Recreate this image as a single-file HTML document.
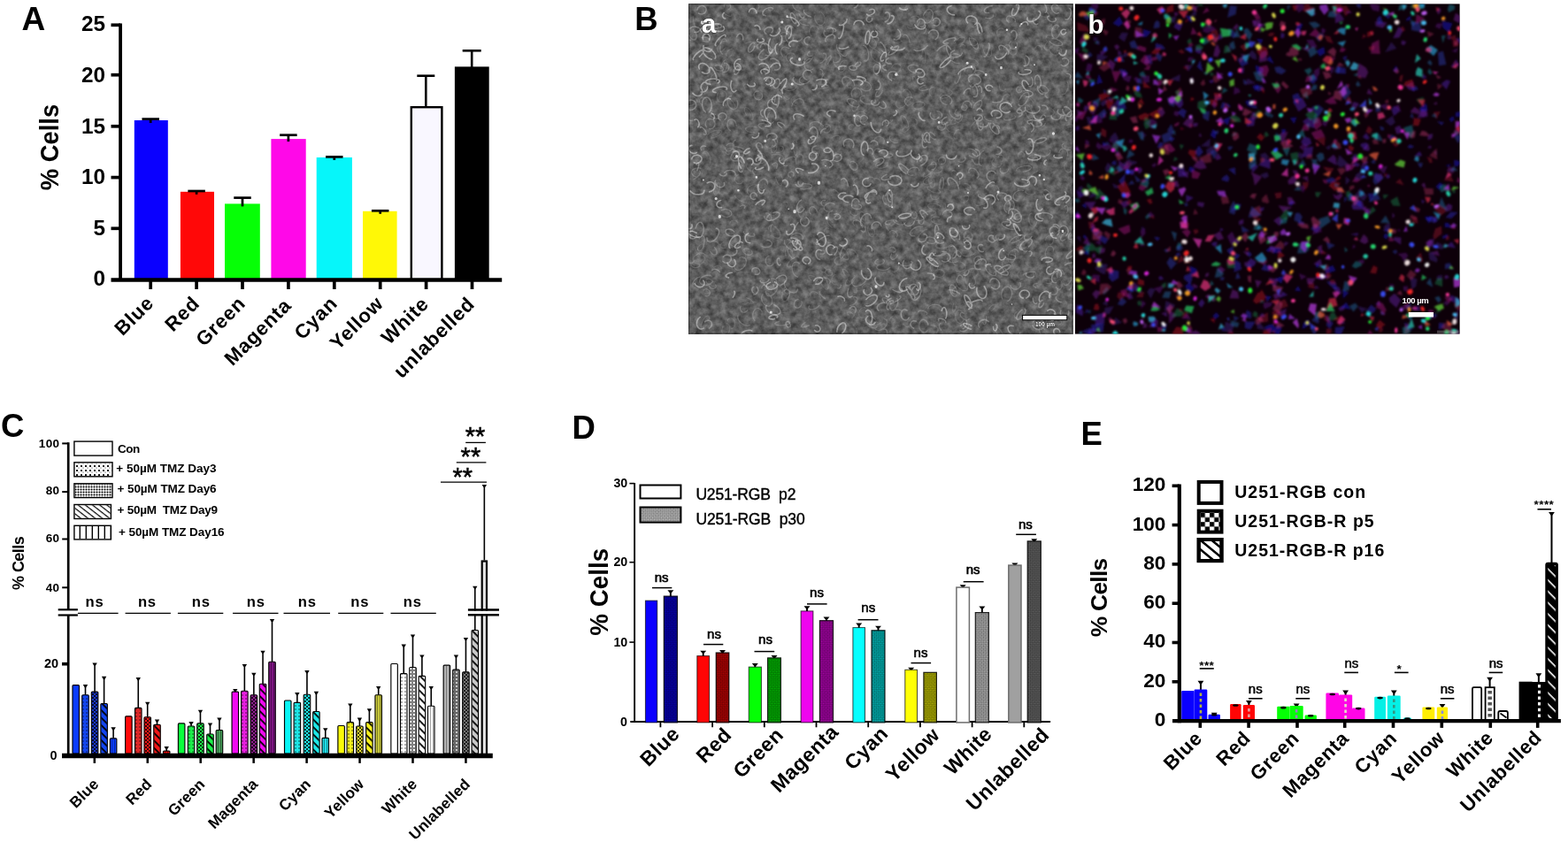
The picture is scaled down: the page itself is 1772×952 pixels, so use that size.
<!DOCTYPE html>
<html lang="en"><head><meta charset="utf-8"><title>Figure</title>
<style>
html,body{margin:0;padding:0;background:#fff;}
body{width:1772px;height:952px;overflow:hidden;font-family:'Liberation Sans', sans-serif;}
svg{display:block;font-family:'Liberation Sans', sans-serif;}
</style></head><body>
<svg width="1772" height="952" viewBox="0 0 1772 952">
<rect width="1772" height="952" fill="#ffffff"/>
<defs>
<filter id="fgray" x="0" y="0" width="100%" height="100%" color-interpolation-filters="sRGB">
<feTurbulence type="fractalNoise" baseFrequency="0.14 0.14" numOctaves="3" seed="7" result="n"/>
<feColorMatrix in="n" type="matrix" values="0.38 0 0 0 0.178  0.38 0 0 0 0.178  0.38 0 0 0 0.178  0 0 0 0 1"/>
</filter>
<filter id="fblur" x="-5%" y="-5%" width="110%" height="110%"><feGaussianBlur stdDeviation="0.9"/></filter>
<filter id="fblurA" x="-5%" y="-5%" width="110%" height="110%"><feGaussianBlur stdDeviation="0.75"/></filter>
<clipPath id="clipA"><rect x="778.1" y="4.2" width="434.2" height="373.3"/></clipPath>
<clipPath id="clipB"><rect x="1215" y="4.4" width="434.6" height="373.2"/></clipPath>
<pattern id="pdot" width="4" height="4" patternUnits="userSpaceOnUse"><circle cx="2" cy="2" r="0.8" fill="#000" fill-opacity="0.7"/></pattern>
<pattern id="pchk" width="4" height="4" patternUnits="userSpaceOnUse"><rect width="2" height="2" fill="#000" fill-opacity="0.75"/><rect x="2" y="2" width="2" height="2" fill="#000" fill-opacity="0.75"/></pattern>
<pattern id="pfine" width="2" height="2" patternUnits="userSpaceOnUse"><rect width="1" height="1" fill="#000" fill-opacity="0.45"/><rect x="1" y="1" width="1" height="1" fill="#000" fill-opacity="0.45"/></pattern>
<pattern id="phatch" width="6" height="6" patternUnits="userSpaceOnUse" patternTransform="rotate(45)"><rect width="6" height="1.8" fill="#000"/></pattern>
<pattern id="pvert" width="3" height="3" patternUnits="userSpaceOnUse"><rect width="1" height="3" fill="#000" fill-opacity="0.35"/></pattern>
<pattern id="pcirc" width="4" height="4" patternUnits="userSpaceOnUse"><circle cx="2" cy="2" r="1.3" fill="none" stroke="#000" stroke-width="0.8"/></pattern>
<pattern id="pwhatch" width="9" height="9" patternUnits="userSpaceOnUse" patternTransform="rotate(45)"><rect width="9" height="1.6" fill="#fff"/></pattern>
<pattern id="pleg5" width="7" height="7" patternUnits="userSpaceOnUse" patternTransform="translate(84 0)"><rect width="1.4" height="7" x="5.6" fill="#000"/></pattern>
<pattern id="pleg4" width="5" height="5" patternUnits="userSpaceOnUse" patternTransform="rotate(38)"><rect width="5" height="1.2" fill="#000"/></pattern>
<pattern id="pleg3" width="3" height="3" patternUnits="userSpaceOnUse"><circle cx="1.5" cy="1.5" r="1.05" fill="#000"/></pattern>
<pattern id="pleg2" width="5" height="5" patternUnits="userSpaceOnUse"><path d="M1 1 L3 3 M3 1 L1 3" stroke="#000" stroke-width="0.9"/><circle cx="4" cy="4" r="0.5" fill="#000"/></pattern>
<pattern id="plegD" width="2.4" height="2.4" patternUnits="userSpaceOnUse"><rect width="2.4" height="2.4" fill="#b4b4b4"/><rect width="1.2" height="1.2" fill="#6a6a6a"/><rect x="1.2" y="1.2" width="1.2" height="1.2" fill="#6a6a6a"/></pattern>
<pattern id="pE2" width="10.4" height="10.4" patternUnits="userSpaceOnUse" patternTransform="translate(1356.6 579.8)"><rect width="10.4" height="10.4" fill="#000"/><rect x="5.2" width="5.2" height="5.2" fill="#fff"/><rect y="5.2" width="5.2" height="5.2" fill="#fff"/></pattern>
<pattern id="pDl" width="3" height="3" patternUnits="userSpaceOnUse" patternTransform="rotate(45)"><rect width="1.5" height="1.5" fill="#000" fill-opacity="0.45"/><rect x="1.5" y="1.5" width="1.5" height="1.5" fill="#000" fill-opacity="0.45"/></pattern>
<clipPath id="clipE3"><rect x="1354.7" y="610" width="25.8" height="24.1"/></clipPath>
</defs>
<text x="24.60" y="33.80" font-size="37" font-weight="bold" text-anchor="start" fill="#000">A</text>
<rect x="151.80" y="136.00" width="38.00" height="180.40" fill="#0a00ff"/>
<line x1="170.20" y1="134.60" x2="170.20" y2="139.00" stroke="#000" stroke-width="2.7" stroke-linecap="butt"/>
<line x1="160.45" y1="134.60" x2="179.95" y2="134.60" stroke="#000" stroke-width="2.7" stroke-linecap="butt"/>
<rect x="203.90" y="216.80" width="38.10" height="99.60" fill="#ff0808"/>
<line x1="222.10" y1="216.00" x2="222.10" y2="219.80" stroke="#000" stroke-width="2.7" stroke-linecap="butt"/>
<line x1="212.35" y1="216.00" x2="231.85" y2="216.00" stroke="#000" stroke-width="2.7" stroke-linecap="butt"/>
<rect x="254.00" y="230.40" width="39.80" height="86.00" fill="#06ff06"/>
<line x1="274.00" y1="223.60" x2="274.00" y2="233.40" stroke="#000" stroke-width="2.7" stroke-linecap="butt"/>
<line x1="264.25" y1="223.60" x2="283.75" y2="223.60" stroke="#000" stroke-width="2.7" stroke-linecap="butt"/>
<rect x="306.40" y="157.10" width="39.30" height="159.30" fill="#ff08e8"/>
<line x1="325.90" y1="152.70" x2="325.90" y2="160.10" stroke="#000" stroke-width="2.7" stroke-linecap="butt"/>
<line x1="316.15" y1="152.70" x2="335.65" y2="152.70" stroke="#000" stroke-width="2.7" stroke-linecap="butt"/>
<rect x="357.70" y="178.00" width="40.20" height="138.40" fill="#06f6fa"/>
<line x1="377.80" y1="177.40" x2="377.80" y2="181.00" stroke="#000" stroke-width="2.7" stroke-linecap="butt"/>
<line x1="368.05" y1="177.40" x2="387.55" y2="177.40" stroke="#000" stroke-width="2.7" stroke-linecap="butt"/>
<rect x="410.00" y="238.80" width="38.60" height="77.60" fill="#fff806"/>
<line x1="429.70" y1="238.30" x2="429.70" y2="241.80" stroke="#000" stroke-width="2.7" stroke-linecap="butt"/>
<line x1="419.95" y1="238.30" x2="439.45" y2="238.30" stroke="#000" stroke-width="2.7" stroke-linecap="butt"/>
<rect x="464.80" y="121.20" width="34.60" height="195.20" fill="#f9f7ff" stroke="#000" stroke-width="2.4"/>
<line x1="481.30" y1="85.70" x2="481.30" y2="121.00" stroke="#000" stroke-width="2.6" stroke-linecap="butt"/>
<line x1="471.30" y1="85.70" x2="491.30" y2="85.70" stroke="#000" stroke-width="2.6" stroke-linecap="butt"/>
<rect x="513.90" y="75.40" width="38.80" height="241.00" fill="#000"/>
<line x1="533.20" y1="57.30" x2="533.20" y2="76.00" stroke="#000" stroke-width="2.6" stroke-linecap="butt"/>
<line x1="522.70" y1="57.30" x2="543.70" y2="57.30" stroke="#000" stroke-width="2.6" stroke-linecap="butt"/>
<line x1="136.10" y1="26.50" x2="136.10" y2="317.40" stroke="#000" stroke-width="3.8" stroke-linecap="butt"/>
<line x1="125.50" y1="316.50" x2="567.20" y2="316.50" stroke="#000" stroke-width="4.4" stroke-linecap="butt"/>
<line x1="125.50" y1="258.30" x2="136.10" y2="258.30" stroke="#000" stroke-width="3.7" stroke-linecap="butt"/>
<line x1="125.50" y1="200.60" x2="136.10" y2="200.60" stroke="#000" stroke-width="3.7" stroke-linecap="butt"/>
<line x1="125.50" y1="142.80" x2="136.10" y2="142.80" stroke="#000" stroke-width="3.7" stroke-linecap="butt"/>
<line x1="125.50" y1="84.70" x2="136.10" y2="84.70" stroke="#000" stroke-width="3.7" stroke-linecap="butt"/>
<line x1="125.50" y1="28.30" x2="136.10" y2="28.30" stroke="#000" stroke-width="3.7" stroke-linecap="butt"/>
<text x="119.00" y="323.00" font-size="24.3" font-weight="bold" text-anchor="end" fill="#000">0</text>
<text x="119.00" y="266.40" font-size="24.3" font-weight="bold" text-anchor="end" fill="#000">5</text>
<text x="119.00" y="208.40" font-size="24.3" font-weight="bold" text-anchor="end" fill="#000">10</text>
<text x="119.00" y="150.60" font-size="24.3" font-weight="bold" text-anchor="end" fill="#000">15</text>
<text x="119.00" y="92.90" font-size="24.3" font-weight="bold" text-anchor="end" fill="#000">20</text>
<text x="119.00" y="34.80" font-size="24.3" font-weight="bold" text-anchor="end" fill="#000">25</text>
<line x1="170.20" y1="316.40" x2="170.20" y2="327.00" stroke="#000" stroke-width="3.7" stroke-linecap="butt"/>
<line x1="222.10" y1="316.40" x2="222.10" y2="327.00" stroke="#000" stroke-width="3.7" stroke-linecap="butt"/>
<line x1="274.00" y1="316.40" x2="274.00" y2="327.00" stroke="#000" stroke-width="3.7" stroke-linecap="butt"/>
<line x1="325.90" y1="316.40" x2="325.90" y2="327.00" stroke="#000" stroke-width="3.7" stroke-linecap="butt"/>
<line x1="377.80" y1="316.40" x2="377.80" y2="327.00" stroke="#000" stroke-width="3.7" stroke-linecap="butt"/>
<line x1="429.70" y1="316.40" x2="429.70" y2="327.00" stroke="#000" stroke-width="3.7" stroke-linecap="butt"/>
<line x1="481.60" y1="316.40" x2="481.60" y2="327.00" stroke="#000" stroke-width="3.7" stroke-linecap="butt"/>
<line x1="533.50" y1="316.40" x2="533.50" y2="327.00" stroke="#000" stroke-width="3.7" stroke-linecap="butt"/>
<text x="175.00" y="344.00" font-size="22.3" font-weight="bold" text-anchor="end" fill="#000" transform="rotate(-45 175.00 344.00)" letter-spacing="0.8">Blue</text>
<text x="226.90" y="344.40" font-size="22.3" font-weight="bold" text-anchor="end" fill="#000" transform="rotate(-45 226.90 344.40)" letter-spacing="0.8">Red</text>
<text x="278.80" y="344.40" font-size="22.3" font-weight="bold" text-anchor="end" fill="#000" transform="rotate(-45 278.80 344.40)" letter-spacing="0.8">Green</text>
<text x="330.70" y="346.60" font-size="22.3" font-weight="bold" text-anchor="end" fill="#000" transform="rotate(-45 330.70 346.60)" letter-spacing="0.8">Magenta</text>
<text x="382.60" y="344.40" font-size="22.3" font-weight="bold" text-anchor="end" fill="#000" transform="rotate(-45 382.60 344.40)" letter-spacing="0.8">Cyan</text>
<text x="434.50" y="344.40" font-size="22.3" font-weight="bold" text-anchor="end" fill="#000" transform="rotate(-45 434.50 344.40)" letter-spacing="0.8">Yellow</text>
<text x="485.80" y="344.80" font-size="22.3" font-weight="bold" text-anchor="end" fill="#000" transform="rotate(-45 485.80 344.80)" letter-spacing="0.8">White</text>
<text x="537.70" y="345.00" font-size="22.3" font-weight="bold" text-anchor="end" fill="#000" transform="rotate(-45 537.70 345.00)" letter-spacing="0.8">unlabelled</text>
<text x="66.30" y="166.60" font-size="29.5" font-weight="bold" text-anchor="middle" fill="#000" transform="rotate(-90 66.30 166.60)" textLength="97.5" lengthAdjust="spacingAndGlyphs">% Cells</text>
<text x="717.20" y="34.20" font-size="36.5" font-weight="bold" text-anchor="start" fill="#000">B</text>
<rect x="778.10" y="4.20" width="434.20" height="373.30" fill="#646464"/>
<rect x="778.1" y="4.2" width="434.2" height="373.3" filter="url(#fgray)"/>
<g clip-path="url(#clipA)"><g filter="url(#fblurA)" fill="none" stroke="#fff" stroke-linecap="round">
<path stroke-opacity="0.12" stroke-width="1.1" d="M1117.7 98.5A3.3 2.6 67 1 1 1112.5 95.4M1027.7 12.2A4.3 3.1 165 0 1 1024.4 7.1M788.4 282.3A5.1 3 117 1 1 789.1 284.8M897.5 299.6A8.2 3.4 141 1 1 902.6 290.9M822 363.1A5.9 4.2 75 1 1 826.5 371.3M1032 92.1A8.4 2 73 1 1 1037.2 96.1M1028.5 366.5A8.8 4.4 63 0 1 1020.6 366.1M987.8 158.3A4.9 5.9 89 1 1 997.9 162.6M1169.8 54.6A5.9 4.2 90 0 1 1177.6 56.4M803.2 96.5A7.9 5.2 119 1 1 812.1 93M1095.6 66.3A7.3 4.6 15 0 1 1104.8 73.7M842.4 101A4.7 2.6 52 1 1 847.3 99.2M824.7 253A4.7 4.7 131 0 1 833.8 252.2M1181.6 271.3A4.4 5.2 17 1 1 1186.5 276.7M1006.2 57.5A3.1 5 124 1 1 1008.5 57.1M887 40.4A5.6 4.3 44 1 1 888.1 33.4M1085.8 296.3A8.3 5.5 13 1 1 1080 306M1171.6 250.7A7.6 4.3 80 1 1 1166.1 240.9M839.9 189.9A4.9 2.1 98 0 1 836.4 194.5M1198.3 230.4A3.6 5.3 76 1 1 1201.9 229.5M1019.7 138.9A7.5 3 63 1 1 1022.5 142.8M1045.4 157.6A3.9 5.3 88 0 1 1044.4 150.3M1110.9 102.9A8.5 5.2 136 1 1 1098.3 113.4M1076.5 230.3A6.1 4 98 1 1 1068.6 231M1014.4 298.3A5.2 4.4 122 0 1 1008.5 306.8M795 289.2A6.7 5.5 169 1 1 790.8 287.5M881.4 42.1A4.8 5.2 143 1 1 883.6 45.6M855.2 15.7A3.7 4.3 109 0 1 862.7 13.5M865.3 181.1A5.3 5.6 161 1 1 863.1 174.3M1090.7 312A7.8 4.9 166 1 1 1103.7 311.2M940.6 308A4.2 3.3 31 1 1 939.1 305.8M879.3 356.5A5.8 2 176 0 1 887.9 353.7M995.9 364.1A8.7 2.3 137 0 1 989.8 363.9M1129.9 382.3A7.5 2.8 62 1 1 1133.4 383.6M1152.4 94.1A5.7 2.5 15 0 1 1150.6 98.4M952.9 297.1A5.6 4.4 162 1 1 949.9 290.3M876.3 156.2A7.3 5.2 148 1 1 869.8 156.7M1127.4 39.1A3.8 4.6 60 0 1 1133.9 32.8M1195.3 57.6A3.1 2.1 69 1 1 1198.9 59M1020.6 103.7A6.5 4.4 70 1 1 1022.1 110.9M1134.3 56.3A5.1 4 102 1 1 1142 57.4M834.9 276.4A6.7 4.4 40 0 1 824.4 274.8M1089.1 222A3.3 4.9 55 1 1 1088.3 228.9M1144 115.5A3.6 3 64 0 1 1137.9 113M1165.3 118.8A4.8 3.3 180 0 1 1161.3 124M959.2 350.3A6.2 4.6 123 1 1 962.7 359.8M951.1 236.6A8.5 3.3 146 0 1 938.8 246.3M1096.4 102.3A5.8 5 109 0 1 1104.6 95.2M1131.7 184.7A4.8 5.5 113 1 1 1122.5 180.2M965.6 311.7A7.1 3.4 132 1 1 957.8 315.3M849 193.2A3 5.2 139 0 1 843.2 186.5M983 43.7A4.2 5.9 153 1 1 981.6 49.5M970.1 120A7.4 3.5 107 1 1 964.9 114.5M1195.4 261.4A4.2 4.1 160 1 1 1200.9 267.6M1089 361.2A7.5 4.8 84 1 1 1088.2 354M1161.4 118.9A8.8 3.6 71 1 1 1159 119.7M819.6 280.1A5.4 3.3 154 0 1 818.1 273.6M959 356.2A3.6 2 26 1 1 964.3 355.9M1076.1 193.3A9 4.3 71 1 1 1081.4 209.9M1041.6 63.5A8.6 2.2 90 1 1 1045.1 71.4M941 215.3A4.7 2.1 47 0 1 947.5 218.5M1008.9 135.4A4.6 2.9 151 1 1 1001.3 135.2M877.2 164.7A4.8 3 107 1 1 873.3 164.3M799.1 154.9A8.9 3.6 160 1 1 803.4 156.1M1211.9 39A6.4 3 96 0 1 1209.5 49.3M1167.5 165.5A3 3 178 1 1 1169.7 161.7M900.8 166.6A8.8 2 86 1 1 900 161.4M1004.2 260.7A7 4.1 66 0 1 1001.9 249.6M1027.2 331.2A5.7 2.7 65 1 1 1028.5 323.9M940.7 155.1A6.6 3.7 151 0 1 948.8 157.7M925.7 13.3A7.7 5.6 77 1 1 921.2 17.1M844 130.8A8 3.2 59 1 1 848.9 135.3M1002.8 183.8A7.1 3.9 170 1 1 994.4 182.8M1082.2 299.5A8.1 5.5 101 1 1 1087 288.1M1210.3 188.3A5.5 3.9 67 1 1 1202.8 186.2M823.7 174.9A3.5 5.6 79 1 1 830.8 172M1187.8 122.7A7 4.6 178 1 1 1179.4 130.1M812.3 206.5A7.1 3.3 105 1 1 807.5 210.2M1060.7 214.8A7.9 2.4 21 1 1 1052.2 211.3M1007.7 91.5A5.8 2.1 43 0 1 1010.7 89.4M1081.3 255.4A6.6 6 142 1 1 1070.9 262.6M1031 120.2A7 4 170 1 1 1032.8 122.3M891 69.5A5.1 5.3 69 1 1 898.6 66.3M785.2 117.4A8.6 5.4 174 1 1 787.3 113.7M994.6 36.2A3.9 5.8 128 0 1 991.9 27.5M954.6 74.3A7.8 4.3 41 1 1 942.1 67.5M1011.4 243.6A7.1 5.2 128 1 1 1001.2 252.8M1074.6 102.7A7.6 3.4 157 1 1 1063.6 106.4M975.5 251.2A6.1 3.4 73 1 1 977.9 249.8M852 149.7A7.8 3.4 3 1 1 855 143.8M994.5 179.9A6.8 4.5 88 1 1 996.2 173.6M1081.3 156.6A5.5 3 113 1 1 1084.1 146.9M1029.9 19.6A8.4 5.8 137 1 1 1025.4 30.2M1025.7 113.5A8.3 5.4 127 1 1 1013.4 114.3M931.7 302.5A3.7 2.8 30 1 1 927.5 306.2M899.5 99.1A7.1 4.6 169 1 1 889.3 94.4M843.3 229.1A8.9 3.3 27 0 1 830.5 221.6M955.1 311.1A8 2.1 55 0 1 958.1 308.2M892.1 328.3A7.4 4.2 106 1 1 889.3 326.2M1017.9 196.3A3.3 2.7 108 1 1 1013.7 200.9M1019.3 46.6A8.7 3.6 152 1 1 1022.1 38.2M961.8 99.3A4.4 3.5 151 0 1 959.7 92.7M826.8 16.7A5.1 2.1 28 0 1 818.1 14.5M873.5 8.1A3 2.5 172 0 1 868.4 10.9M872.2 175.3A7.6 3.9 3 1 1 877.1 182M1155.9 315.2A5.7 4.8 135 0 1 1151.8 306.8M1154 10.5A3.2 2.5 73 0 1 1149.8 6.9M1189.2 363.3A3.2 5.3 104 1 1 1192.4 366.5M964.3 322.7A5.1 2.5 53 0 1 965.4 330.4M1128 273.6A5.2 2.9 63 0 1 1127.1 265.2M966.2 207.4A4.6 3.4 172 0 1 969.1 201.4M1169.6 217.1A5.7 2.8 10 1 1 1158.5 216.2M820.3 365.9A6.9 4.3 102 1 1 817.1 368.9M1197.3 57.1A6.2 4.8 33 1 1 1190.4 51.8M1206.1 92.4A8.2 5 103 0 1 1200.3 106.6M839.6 205.2A4.9 5.1 163 1 1 834.6 197.6M1097.3 142.8A7.8 2 136 0 1 1108.1 135M1136.4 100.8A4.2 6 14 0 1 1129.7 95.8M1159.7 279.3A5.6 2.1 0 1 1 1155 276.8M1090.1 207.4A5 2.7 37 1 1 1091.3 213.3M1166.6 182.7A3.7 2.7 130 1 1 1171.9 182.3M1007.8 76.3A4.7 5.7 52 1 1 1012.7 82.1M964.3 367.8A8.6 3.8 85 0 1 967.8 382.4M1120.4 57.9A8.1 4.2 69 1 1 1111 51.5M933.3 89.2A7.7 2.3 105 1 1 931.3 83.3M1054.9 23.6A7.5 4.5 80 0 1 1058.8 12.9M1189.3 53.2A6.6 4 137 1 1 1183.8 47.5M1091.2 319.2A8.5 5 45 1 1 1081.2 315.5M917 40.9A6.4 5.3 92 1 1 924.8 32.8M808.7 37.9A8.1 4.5 47 0 1 805.1 26.5M967.2 130.8A6.8 5.7 27 1 1 968.4 134.9M979.5 356.3A6.1 4.7 119 1 1 977.4 347.7M1027.4 145.1A4.7 2.3 141 1 1 1024.1 143M918 171.6A4 5.2 88 1 1 916.3 178.7M1081.5 130.1A3.5 5.7 58 0 1 1081.5 123.5M1079.9 139A7.2 2.8 139 1 1 1084.4 130.4M1195.4 317.2A5.6 3 90 1 1 1195.4 326.3M888.8 289.4A9 3.7 112 0 1 893.2 273.4M940.1 257.1A6.4 2.4 49 1 1 940.9 251.4M1077.3 149.2A4.2 5.8 104 1 1 1075.1 140.7M888.4 228.6A4 2.5 129 0 1 888.6 234.4M1001.6 65.9A7.5 3.6 100 1 1 994.6 65M1079.7 48.1A3.4 5.9 59 1 1 1083.3 50.4M1142.6 295.7A5.7 5.5 39 1 1 1139.3 293.4M1052.8 305.8A4 4.3 155 1 1 1059 304.9M985.6 254.7A7.3 3.5 78 1 1 981.1 255.6M814.6 77.6A7.9 3 106 1 1 816.3 83.1M1181.1 358.4A4.9 5.2 146 1 1 1172.9 362.8M942.9 321.3A5.4 3.6 103 1 1 944.2 310.6M1055 202.5A6.2 3.1 77 1 1 1051.8 199.8M969.8 242A4.4 4.9 117 0 1 961 238.3M1006.6 225.8A4 3 139 0 1 1010.6 219.5M1052.6 108.9A5.3 3.7 92 1 1 1056.2 99.7M1079.7 332.2A6.5 3.7 143 0 1 1080.8 323.7M819.5 54.1A7.3 3.8 127 1 1 820.1 46.7M882.4 196.7A8.8 3.5 76 1 1 876.5 200.2M1064 188.7A8.8 5 5 1 1 1058.6 186M849.2 4.6A5 4.8 155 1 1 852 12.6M947.4 373.2A4.6 5.9 100 1 1 957.3 368.8M929.8 143.2A4.8 4.7 61 1 1 931.6 149.2M1096.2 43.6A3.7 5.5 114 1 1 1096.5 50M788.6 31.5A7.4 2.6 77 0 1 783.7 18.7M940.1 273.8A8.8 4.6 75 1 1 936.6 258.5M1183.5 46.6A3.3 3.8 169 0 1 1186.1 39.9M804.3 306.2A3.4 5.8 64 1 1 815 303.8M837.8 176.9A6.9 2.2 56 1 1 834.4 173.3M1054.7 205A7.6 3.8 151 1 1 1052.7 198.6M957.1 283A8 4 43 0 1 969.8 290.3M1053.8 237.1A7.3 3.6 8 1 1 1062.6 233.2M916.3 316.7A8.1 2.9 33 0 1 920.5 313M1062.9 253.4A7.5 4 12 1 1 1061.3 245.6M1117.3 352.4A5.4 2.2 134 1 1 1120 351.9M980.5 331.4A5.3 5.3 1 1 1 982.5 321.9M1081 346.1A6.7 2 103 1 1 1077.9 342.7M868.9 260A8.7 4.7 50 1 1 873.7 267.1M1004.6 365.1A3.7 5.6 34 0 1 1009.7 357.3M1085.2 52.6A3 3 28 0 1 1090.7 51.9M1099.4 24.5A3.3 3 70 1 1 1098.8 30.3M1117.1 225.6A8.1 3.4 156 0 1 1102 230M1129.9 123.9A6.8 4.9 179 1 1 1140.4 119.8M936.2 140.7A4.3 4.3 57 1 1 928.6 137.7M1073.4 283.7A4.8 3.2 74 1 1 1079 280.8M1182.5 289.9A6.5 4.2 110 1 1 1190.1 285M1102.2 285A7.9 3.4 170 0 1 1086.7 287.3M1122.6 310.1A4.4 5.9 159 0 1 1131.8 312.9M981.9 200.5A3.9 4.8 83 0 1 988.5 203.7M1055.9 190.8A8.2 2.3 141 1 1 1044.6 196.2M899.7 184.8A7.5 4.2 96 1 1 907.5 184.4M985.6 205.2A5.8 4.9 99 1 1 994.6 209.4M1027.3 228.2A8.9 2.1 82 0 1 1026 240.9M1150.7 177.3A3.5 4.6 9 1 1 1157.7 175.9M826.3 62.7A5.2 3.1 130 1 1 827.3 55.2M1178.2 316.5A5.7 2.9 4 1 1 1182.8 320.4M881.1 165.1A5.5 3.6 165 1 1 877.3 172.4M845.5 341.7A3.2 4.3 99 0 1 838.5 343M1148.1 54.7A4.3 4.5 156 1 1 1142.8 53.6M1087.4 130.9A5.9 4.2 101 1 1 1078.9 133M1205 142.1A6.2 4.5 156 1 1 1210.2 149.5M1153.5 357.3A4.1 3.6 123 1 1 1149.2 352.4M843.3 336.6A9 2.5 23 0 1 843.6 342.1M846.5 220A7.2 5.6 151 1 1 856.1 217.7M819.7 111.5A7.8 3.3 49 1 1 825.9 121.8M1073.9 276.7A8.4 3.8 170 1 1 1060.7 274.5M926.4 95.8A7.8 2.3 176 1 1 920.9 98.7M879.7 321.8A6.4 3.8 44 0 1 883.4 331M1182.7 13.2A7 3.4 21 0 1 1174.7 16.7M948.2 278.3A9 4.1 57 1 1 947.8 284.7M878.1 239.8A3.9 2.7 148 1 1 871.2 240.3M1128 177.9A3.1 3.8 169 1 1 1132.9 182.1M892.8 330A4.3 3.4 70 1 1 888 324M899.9 119.6A5.8 5.2 33 1 1 899.3 108.8M990.8 369.7A8.5 5.3 48 1 1 991.1 364.7M1042.5 245.3A8.4 2.9 165 1 1 1052.5 244.1M1139.3 114.6A8.8 3.7 114 1 1 1140.3 108.4M797.1 371.4A8.9 3.6 115 1 1 801.8 361M1147.2 286.2A7.1 4.1 102 1 1 1144.4 283.2M1163.4 182A3.4 3.5 130 0 1 1164.7 176M793.7 118.5A4.3 4.3 164 1 1 798.6 112.4M891.7 111.3A7.5 3.1 60 0 1 883 104.1M1166.4 200.3A6.2 2.4 154 0 1 1172.1 193.9M1154.2 143.7A5.1 3.6 96 1 1 1152.1 147.5M916 334.3A6.4 4 33 1 1 927.1 337M950.9 170.8A4.8 2.9 121 1 1 944.9 172.3M930.7 312.4A8.4 3.5 66 1 1 927.1 312.8M1195.5 29.4A3.9 3.4 22 1 1 1189 27.2M798.5 273.8A8.2 4.3 20 0 1 813.2 276.7M957.1 73A7.3 3.9 116 1 1 956.2 68.6M994.7 69.9A8.2 4.9 59 1 1 993.8 59.7M1162.7 270.5A7.2 3 2 1 1 1150.6 267.8M794.2 173.4A8.6 4.5 81 0 1 802.4 184M841.4 282.8A6.7 2.4 80 0 1 839.1 291.2M1119.8 211.2A5.8 5.1 70 1 1 1127.2 219.8M1044.5 19.2A3.4 4.1 99 0 1 1047.5 13.6M962.3 145.9A3.1 2.3 128 1 1 964.2 141.8M1057.3 305.9A4.4 5.9 87 1 1 1055.5 308.5M906.3 247A6.7 4.3 76 1 1 909.7 246.5M1052 367.8A8.7 5.7 172 0 1 1058.3 376.5M1037.9 272.9A8.7 3.7 133 0 1 1047.4 259.4M1030.1 132.7A5.8 5.3 26 0 1 1035.7 140.9M1100.2 312.6A7.4 5.4 58 1 1 1091.2 311.7M843.3 48.7A6.6 2.1 172 0 1 855 48.6M1153.8 111.5A8.8 4.6 42 0 1 1167.7 116.3M1061.3 222.4A4.9 5 6 0 1 1051.8 220.3M1045.1 244.1A6.4 3.8 172 0 1 1034.7 248.9M799 322.7A3.9 5.8 149 0 1 805.1 317.8M816.2 102.2A6.7 5.3 104 1 1 811.6 105"/>
<path stroke-opacity="0.18" stroke-width="1.3" d="M836.7 233.3A3.8 2 157 0 1 841.2 235.2M1152.2 112.2A8.8 4.2 122 1 1 1151.2 118M790.9 299.7A5.2 4.3 2 0 1 780.9 299.3M820.9 164.4A3.9 5.4 53 1 1 819.6 167.1M1197 172.3A5.9 4.9 86 1 1 1206.3 176.2M922.3 320.7A8.2 4.8 176 1 1 937.7 320.2M906.7 207.8A8.2 3.1 179 1 1 904.8 213.3M871.2 261.5A6.8 2.2 85 0 1 873.4 253.9M925.5 345.4A6.2 3.3 158 1 1 914.6 345.9M896.5 272.2A6.7 4.9 5 1 1 906.8 270.8M1033.8 266.9A8.7 4.6 155 1 1 1042.6 256.2M1212.7 261.4A3.3 5.4 39 1 1 1209.4 263.5M1212.7 266.5A5.6 2.7 33 0 1 1211.5 271.4M792.6 42.7A5.3 2.3 10 1 1 794.4 46.2M783.6 33.3A7.1 4 64 1 1 779.4 31.9M1001.8 231.3A6.4 5 71 0 1 998.7 220.9M922.8 285.2A4.9 2.2 4 1 1 927 287.1M997.8 293.2A3.3 5.3 80 1 1 992.4 293M853 197.2A5.4 4.1 15 0 1 854.7 189.9M1091.8 270.3A4.6 5.2 69 0 1 1091.6 262.1M896.8 275A3.4 5 121 1 1 901 274.8M1026.1 119.3A5 5.4 93 1 1 1031.5 110.9M790.5 193.2A8.7 4.4 151 0 1 783.9 202.7M873.4 157.6A4.6 3.9 52 0 1 874.2 165.6M1192.1 229.7A3.8 2.9 166 0 1 1194.7 224.9M906.5 43.1A5.4 3.2 163 1 1 896.7 42.9M784.8 294.8A5.5 4 110 0 1 777.6 294.7M1104.7 49.2A8.3 3.5 61 1 1 1095.3 42.7M1000 342.6A5.8 2.6 39 1 1 1003.9 344.9M975.6 51.4A9 4.6 79 1 1 976.9 68.8M1189.2 43.7A7.6 3.3 19 1 1 1186.2 46.6M852.8 362.4A7.7 5.6 91 1 1 861 352.1M962.9 108.6A6.3 5.9 77 1 1 973.9 107.1M1154.2 244.2A4.8 4.2 144 0 1 1145.1 244.2M968 88.5A4.5 4.6 129 1 1 973 95.8M1162 203.8A3 3.7 83 0 1 1167.3 199.6M1137.3 239.9A7.3 5.4 111 1 1 1143.1 239M970.9 118.8A7.4 3.6 30 1 1 967.5 114.1M1090 81.1A6.5 4.9 156 1 1 1094.7 85M934 41.9A6.6 3.4 26 0 1 932.7 35.4M1139.9 191.1A5.1 4 152 1 1 1130.7 190.5M803.7 40.1A6.8 3.1 118 1 1 811.6 30.9M933.6 67.8A8.9 2 123 0 1 935.5 72.1M970.7 230.7A5.7 3.1 6 1 1 962.4 232.3M1179.8 379.4A5 3.3 66 1 1 1180.9 373M1142.5 287.7A5.8 2.9 10 1 1 1136.4 289.6M1034.6 82.6A8.5 4.3 16 1 1 1037.1 74.5M1065.3 242.7A6.4 5.8 178 0 1 1074.4 237.8M1042.5 244.8A4.9 3.1 85 1 1 1037.9 248M865 213.7A6.8 5 110 1 1 867.5 208M1114.6 357.7A6.7 2.2 91 0 1 1110.8 364.7M940.6 238.3A6.7 4.7 167 1 1 943.3 231M1029.8 295.5A7 3.1 177 1 1 1016.9 297.7M1108.8 187.4A8.6 3.8 102 0 1 1111.8 170.5M1197.5 38.1A7.7 4.6 97 1 1 1196.9 30.1M785.4 375.9A4.2 4.2 46 0 1 777.9 372.4M776.2 52.1A3.9 3.3 138 1 1 780.3 45.6M1209.5 169.6A7 3.9 10 0 1 1202 162.3M1064.4 138.3A4.8 4.1 134 1 1 1059.9 142.7M1085.9 81.2A8.9 2.7 105 0 1 1079 92M1090.9 118.6A3.2 3.1 71 1 1 1087 120.2M914.9 91.4A6.3 4.4 164 1 1 906.4 86.6M890.2 270.6A8.4 4.4 40 1 1 886.7 271.9M1090.7 178.1A4.6 3.5 168 0 1 1083.4 182.6M901.5 327A8.7 5.7 41 1 1 887.7 317.8M1169.8 136.3A5.6 3.5 180 1 1 1166.7 138M890 363A8.5 2.5 175 1 1 880.2 363.5M1085.4 368A5.5 4.1 156 1 1 1085 373.7M842.2 170.9A7.2 2.6 16 1 1 839.8 168.1M961.3 183.3A5.4 3.9 59 1 1 960.4 186.5M953.2 95.5A8.3 5.4 44 1 1 965.8 96.4M808.8 322.1A4.1 3.2 23 1 1 801.4 323.3M1097.6 264.1A4.5 4.6 107 1 1 1091.7 263.7M1091 275.9A4.2 4 48 1 1 1094.2 276.5M973.4 91.9A7.3 5.1 26 1 1 972.8 100M1080.3 334.6A6.8 3.7 71 1 1 1081.6 331.1M847.1 367.7A8.9 5.7 39 0 1 833.9 356.9M829.5 170.3A6 2.2 98 0 1 831.1 158.3M1181.3 139.4A6.7 3.4 99 1 1 1181.7 132.3M833 181.6A7.6 5.2 152 1 1 837.9 178.9M1085.2 129.1A7.4 4.6 39 1 1 1073 125M1005.6 253.6A6.8 2.2 170 1 1 1013.6 250.4M860.9 106A4.5 5.1 137 1 1 856.9 103.2M808.5 74.1A5.2 2.9 18 1 1 807.4 76.3M812.6 131.5A5.2 2.2 15 1 1 808.6 129.3M1005.5 262.1A5 4.5 36 0 1 1013.7 267.6M871.3 315A6.8 4.5 158 0 1 870.7 324.5M918 63.1A7.5 3.2 159 0 1 915 58.1M1140.2 25.2A3.6 5.4 119 1 1 1147.3 24.5M1179.9 215A6.4 3.3 59 1 1 1179.7 219.8M795.1 328A4.2 3.9 47 1 1 797.5 334.7M790.1 270.2A8.9 3.6 103 1 1 788.1 279.1M1060.9 182.7A3.9 4 90 1 1 1063.7 185.3M849.5 283.9A3.5 5.3 111 1 1 846.3 281.4M1122.3 17A5.9 3.7 11 0 1 1113.9 20.1M1154.8 102.5A3.5 3.2 93 1 1 1151 97.9M954.2 288A8.3 2.5 112 1 1 956.3 276.4M979.2 313.6A9 5.9 148 1 1 965.3 313.7M945.2 241.7A4.3 5.8 29 1 1 937.5 239.5M825.2 147.6A7 5 75 1 1 832.2 142.2M991.2 369.6A5.2 4.1 5 0 1 983.2 364.5M930.7 60.3A7 3.8 134 0 1 926.9 71.3M805.5 318.4A8 5.4 166 1 1 804.2 312.3M1013.8 337.6A7.4 4 110 1 1 1005.7 346.3M873.9 298.1A4.6 5.8 172 1 1 868.9 289.4M1119.8 136.4A4.7 2.7 22 0 1 1112.9 131.5M1148.9 48.4A4.6 4.6 18 1 1 1142.5 46.8M860.9 145.5A6.1 3.1 15 1 1 866.6 141.1M1210.4 314A8.4 5.9 92 0 1 1208.2 327.8M1146.8 131A6.7 2.4 169 1 1 1134.6 134.5M1043.9 17.1A8 5.1 107 1 1 1044.1 23.7M914.6 367.8A9 2.5 155 0 1 910 364.6M977.6 256.3A3.1 5.5 158 0 1 973 260.5M918.3 78.4A6.8 6 123 1 1 916.9 66.5M886 329A6.7 4 114 0 1 890.5 336.8M985.4 42.1A3.5 5.9 79 0 1 992.8 45.5M918.3 65A7.7 3.3 125 0 1 910 66.3M844.9 350.6A4.9 4.4 127 0 1 837.1 346.5M804.1 319.7A3 2.4 28 0 1 798.4 318.5M1082.2 295.5A8.4 5 164 0 1 1071 291.7M874.5 137.5A7.1 4.5 105 0 1 869.5 127.6M897.6 291.3A6.3 2.4 62 1 1 895.8 284.9M1149 192.7A8.4 3.1 170 1 1 1156.5 194.1M1125.7 299.9A6.7 4 23 0 1 1131.3 308.8M1128.5 269.4A3.4 3 155 1 1 1122.4 267.3M1193.5 324.5A4.9 6 131 0 1 1187 331.7M807.4 279.6A5.7 3.5 54 1 1 802.7 284.7M905.9 340.8A4.2 5.1 30 1 1 902 338.4M833 113.8A7.9 5.6 71 1 1 826.5 108.4M867.8 325.3A7.5 5 134 1 1 865.7 329.7M894.8 119.9A8.3 6 126 0 1 908.4 116.3M782.2 136.3A6.4 5.7 124 0 1 779.1 125.1M965.2 254.7A6.2 3.8 36 1 1 974.3 257.5M1101.2 96.9A3.1 2.9 107 0 1 1095.9 96.1M783.3 321.2A5.8 2.4 139 0 1 790.7 313.2M1095.1 195.5A6.7 4.4 47 1 1 1104.4 201.2M798.5 143.7A5.4 5.7 177 1 1 801.5 145.6M932.5 337.6A8.4 2.7 34 0 1 926.5 329.9M964.3 335.8A7 3.9 148 1 1 960.8 345.5M1045.3 270.7A6.4 3.6 9 1 1 1047.9 274.2M815.5 237.6A6.6 4.3 8 1 1 815 243M1052.1 185.5A4.4 3.1 102 1 1 1053.4 191.6M835.9 291.5A8.3 5.6 129 1 1 829.9 299.6M999.5 360.6A8.1 5.1 140 1 1 988.9 370.9M1063.7 373.3A6.2 3.2 52 0 1 1063.2 365.7M1202.6 234.3A5.1 2.5 101 1 1 1205.7 240.5M1160.9 283.5A3.9 6 163 0 1 1153.9 275.6M997.2 102.3A5.4 2.5 128 1 1 991 103.8M956.3 62.2A8 3.3 53 1 1 945.9 50.6M1037.7 352.5A5.3 2.5 9 1 1 1047.4 355.6M1014.3 161.1A5.1 5.9 116 0 1 1005.8 154.1M913.4 28.8A8.9 3.4 8 0 1 911.1 21.7M1156.2 310.8A7.8 2.8 166 0 1 1170.6 309.2M1005.6 302.7A7.6 3.5 178 1 1 992.5 299.8M872.7 186A7.3 3.4 124 0 1 877.4 190.3M865.8 241A3.6 4.8 138 1 1 863.5 244.4M1023.3 251.8A7.7 5 20 0 1 1009.2 248.8M818.6 71.5A5.2 4.6 117 1 1 816.7 81.1M1176 96.8A5.7 3.5 34 1 1 1175 100.8M1021.2 40.3A6.9 3 71 0 1 1028.1 48M1132.9 338A8.5 5.9 96 1 1 1138.8 340.6M1144.9 282.8A5 3.1 67 0 1 1150.8 285M865.5 331.3A7.7 5.6 66 1 1 862 332.7M1069.6 118.4A6.8 5.2 24 1 1 1073.7 117.7M947 59.9A5.6 5.7 180 0 1 941.6 69.9M915.9 241.6A4.1 5.4 151 1 1 923.4 239.1M816.7 61.1A8.7 3.9 95 1 1 821.2 47M1057.5 157.2A5 2.2 46 1 1 1056.4 153.3M1048.9 348.8A7.8 4.7 180 1 1 1063.8 350.9M1149.7 227.1A7.6 5.6 151 1 1 1156.5 215.3M892.9 46.9A3.3 4.8 173 1 1 892.3 38.3M818.4 7.9A3.6 3.8 138 1 1 823 10.7M950.5 322.4A3.8 2.7 102 0 1 946.3 325.8M1100 122.2A6.9 3.2 128 1 1 1104.5 124M1042.7 80.2A4.5 3.8 37 0 1 1034.5 78.8M1157.8 66.9A7.6 2.7 66 0 1 1156.8 74.2M1059.2 125.6A3.6 4.6 131 1 1 1059.8 133.4M927.1 78.4A3.3 3.3 129 0 1 929.4 83.4M1125.1 307.2A7.8 3.7 45 1 1 1120.6 301.6M998.3 372.3A3.6 4.5 17 1 1 995.8 379.1M1048.9 101.2A8.3 2.9 165 1 1 1045.7 96.1M1084.1 71.5A7.6 5 21 1 1 1084.3 62.2M1106.7 297.9A4 4.6 28 1 1 1108.9 294.3M992 85.4A6.5 4.5 71 1 1 996.5 80.8M1186.2 169.8A6.1 3.4 156 1 1 1175.6 175.4M889.7 187.4A7.9 3.7 148 1 1 898.9 180.2M935.8 30.7A4.9 5.8 38 1 1 931.8 34.3M884.4 63.5A8 5.7 53 0 1 891.5 54.7M1141.3 273.3A8.4 2.6 153 1 1 1143.2 274.5M1094.8 167.9A7.4 3.9 31 1 1 1095.6 175.9M1146.1 259.1A8.6 3.7 17 1 1 1148.5 257.5M1105.1 185.7A5.9 2.8 62 0 1 1098.7 180.3M1009.9 351.2A5.9 2.6 16 0 1 1018.4 351M851.9 264.6A6.6 2.2 19 1 1 840.8 261.5M866.9 271.2A6.6 4.3 1 1 1 860.9 278.3M787.1 288.2A5 5.9 84 0 1 797 288.1M1005.1 173.6A8.2 2.3 178 0 1 999.2 178M1203.7 270.5A5.6 2.8 128 1 1 1204.2 262.9M1048.2 373.7A7.4 5.2 81 1 1 1049 367.2M1210 20.5A8.8 4 72 0 1 1210.7 33.8M1034.1 239.7A3.2 3.8 171 1 1 1031.2 240M1170.6 325A4.7 2.5 3 0 1 1171.9 320.3M1095.1 360.4A5.8 2.9 37 1 1 1089.8 354.2M856.3 54.4A3.3 4.9 92 1 1 864.2 50.6M1195.1 313.7A4.1 5.6 177 1 1 1202.6 310M1041.5 31.5A5.9 3.5 144 0 1 1044 37.9M1211.4 311.1A7.6 3.9 116 0 1 1202 320.6M860.9 325.8A5.8 3.1 164 0 1 868.8 320.7M1082.3 319.7A3.3 5.3 1 1 1 1087.7 313.5M786.8 200.2A8.8 5.5 8 0 1 791.8 190.1M903.7 12.7A7 4.5 36 0 1 898.3 1.9M1014.3 288.6A6 3.3 122 1 1 1007.5 287.2M1061.9 213A7.9 2.1 96 1 1 1065.4 212.8M915.1 143A8.4 5.8 23 0 1 930.3 142.6M865.9 82.1A6 3 171 0 1 868.7 76.1M1005.9 280.2A3.6 2.6 27 1 1 1009.4 285.1M901.5 313.1A8.6 5.6 78 1 1 903.3 297.7M1184.1 110.6A3.5 3.1 28 0 1 1181.5 105.6M989.1 112.9A8.8 4.5 12 1 1 976.9 108.1M1032 198A6.9 4.1 160 1 1 1038.7 192.4M1088 121.3A5.8 5.1 81 1 1 1097.8 121.7M931.8 233.2A3.5 3.1 62 1 1 932.4 226.7M893.5 200.4A3.4 3 137 1 1 896.2 199.1M1152.8 319.5A5.1 5.8 83 1 1 1141.9 322.4M1106.2 84.9A5.7 2.5 13 1 1 1112.4 83.3"/>
<path stroke-opacity="0.26" stroke-width="1.5" d="M1199 341.7A4.8 3.4 30 0 1 1193.5 335.7M1128.3 225.9A6.6 4.8 12 0 1 1137.3 219.7M832.5 282.6A7.8 5.4 7 0 1 822 288.4M997.5 141.2A3.9 3.1 126 1 1 1002.4 142.3M1111.1 140.6A7.2 3.1 87 1 1 1107.3 132.7M1199 131.3A4.1 5.4 85 0 1 1188.2 131.1M1072.5 208.8A8.8 4.2 54 1 1 1083.4 212.9M987.5 182.3A7.2 3.5 154 1 1 991.2 187.4M1061 362.7A4.5 2.2 25 1 1 1068.8 364.5M1036.5 183A6.9 4.4 134 1 1 1041 187M1087.4 60.1A6.8 4 164 1 1 1078.8 57M1129.9 56.3A6.7 3.4 42 1 1 1139.4 60.9M1122.8 139.9A7.3 3.4 53 1 1 1119.5 139.4M1033.4 250.1A6.7 5.6 127 0 1 1021.8 251.9M1089.2 105.8A5.8 3.8 123 0 1 1096.4 100.3M829.4 81A5.1 2.7 111 1 1 829.9 83.5M1007.1 72.1A7.3 3.8 169 0 1 1004.1 65.6M1169.8 94.8A7.2 3.4 84 1 1 1173.7 99.4M1121.7 144.9A3.1 4 106 1 1 1129.6 145.2M941.5 280.9A6.2 2.8 122 0 1 943.1 288M953.9 165.2A6.2 5.6 54 1 1 964 166.6M1060.9 265.5A7.4 2.2 87 1 1 1060.8 259.9M1216.8 280.9A8.4 2.6 141 1 1 1212.5 282.8M791.3 144.6A5.1 2.1 54 1 1 795.3 151.6M1054.1 23.2A4.3 4.5 18 1 1 1055.4 28.4M1101.1 95.8A8 4.5 70 0 1 1100.4 109.4M1039.5 324.1A8.5 5.3 107 1 1 1034.4 323.3M1190 254.9A4.6 3.6 55 0 1 1197 260.6M838.9 193.9A7.1 3.8 103 0 1 835.4 184.6M1024.1 196.6A8.7 2.9 43 1 1 1026.4 191.7M796.5 363.9A5.3 4.5 130 1 1 801.8 371.2M865.1 17.7A6.5 3.9 152 1 1 873.4 9.7M1036.6 25A4.7 4.1 53 1 1 1040.4 30.2M1065 284.5A7.4 2 170 1 1 1057.1 286.3M942.9 242.2A4.4 3.1 2 1 1 943.6 247.7M866.8 155A5.7 3.6 5 1 1 873.2 158.1M875.4 115.4A7.9 2.3 97 1 1 878.1 121.2M871.7 123.1A5.5 4.5 103 1 1 875.3 113.4M814 135.8A4.3 4.7 83 1 1 819.1 135.4M1047.6 159.2A5.6 2.5 79 0 1 1042.6 152.4M859.6 179.8A4.9 4.5 20 1 1 850.4 182.2M1072.3 327.9A7 2.1 20 0 1 1084.2 332M830.1 265.8A3.7 5.6 114 1 1 829.7 261.9M1178.1 119.3A4.4 4.5 1 0 1 1183.9 123.6M908.6 19.1A4.6 2.6 72 0 1 903.5 16.4M912.7 50.6A4.5 4.4 170 1 1 915 42.1M971.8 70A3.7 2.1 142 1 1 969.9 70.2M1092.1 362.3A6 4 118 0 1 1088.2 371.7M776.3 115.4A5.8 5.6 163 1 1 775.1 119M1047.2 165.8A8.8 3.9 101 1 1 1050.2 158.8M873.9 322.2A5.9 2.3 15 1 1 863.7 320.4M1206.1 129.7A8.5 5.3 168 0 1 1195.8 124M968.1 76.5A4.3 2.5 7 1 1 966.1 74.8M1103.9 124.9A3.5 4 174 0 1 1110.5 125.8M1124.4 272.3A4.2 3.7 28 1 1 1122.3 266.5M1044 264.8A3.8 5.3 52 1 1 1038.2 269.9M891.4 36.2A3.7 4.3 108 1 1 895.9 31.6M1051.3 161A4.6 4.7 70 0 1 1047.6 153.1M1104.1 130.1A4.5 3.5 177 1 1 1101.4 132.7M1200.7 66.6A4.2 4.9 70 1 1 1199.2 73.3M1178.9 106A5.1 2.4 57 1 1 1173.1 97.7M856.9 168.3A4 3 60 1 1 861.4 166.6M1203.7 299.6A8.8 5.6 174 0 1 1219.2 301.9M1192.7 20.7A5 2.9 20 1 1 1185.5 18.1M890.9 370.3A3.5 2.3 67 1 1 892.8 369.5M817.3 290.5A5.1 4.5 160 1 1 816.9 295.2M809.4 258.2A8.9 5.1 129 1 1 798.9 268.8M1202.8 120.9A6.3 4.2 51 1 1 1200.9 123.4M1030.6 336A8.3 2.1 56 1 1 1033.3 337.7M1085.7 289.4A5.1 2.6 66 0 1 1080.4 285.3M859.4 53.2A7.5 5.3 54 1 1 865.5 62.3M874.8 344.7A8.7 5.2 25 1 1 866.4 345.3M1007.6 90.7A5 5.7 95 1 1 1014.8 85.4M862.5 131.7A4.1 3.9 63 0 1 862.1 124M1162.9 284.3A3.1 2.3 124 0 1 1164.4 289.1M1196.9 263.3A6.1 5.2 91 1 1 1205 266.2M1150 124.6A3.3 3.9 5 1 1 1152.1 131.6M1158.1 349.5A7.3 3 129 1 1 1155.2 350.2M907.8 206.7A4.8 5.6 168 0 1 899.3 208.6M942.4 176.2A4 4.9 75 1 1 943.1 181.5M1010.1 54A7.3 2.3 140 1 1 1005 58.9M912 90.1A5.4 5.4 134 1 1 917.3 81.7M1133.5 111.9A6.4 2.7 169 0 1 1122.1 115.4M1118.6 319.1A6.4 5.2 59 1 1 1120.6 324.8M870.8 66.7A7.5 5.5 41 1 1 875.5 78.9M1027.8 325.7A6.3 5.1 70 1 1 1030.6 332.4M1118.9 204.7A5.4 5.9 179 1 1 1125 195.8M995 47.7A6.7 2.5 60 1 1 996.8 57.4M785.8 269A4.5 4.5 120 1 1 782.5 261M1176.6 2.2A6.5 3.2 67 0 1 1181.3 14.3M1155.3 282.4A8.4 4 141 1 1 1162.5 278.9M1169 161.5A7.2 2.3 162 1 1 1172.2 162M850 306.7A4.6 3.7 21 1 1 853.2 310M805.2 305.2A3 4.7 112 0 1 813.3 307.5M1147.7 247.6A3.2 3.7 37 1 1 1153.2 244.3M934.5 96.8A3.6 2.1 77 0 1 935.1 90.3M923.2 173.3A4.2 4.5 71 1 1 922.1 165M1193.5 319.6A8.6 5.5 133 0 1 1196.1 305.5M1072.9 239.5A3.9 6 59 0 1 1073.7 246.4M866 38.3A5 3.8 158 1 1 871.9 37.1M797.4 126.8A8.8 5.3 84 1 1 801.3 126.9M882.1 298.7A4.1 2 79 1 1 880.2 292.1M1018.9 326.5A8.9 3.8 32 0 1 1009 327.5M805.2 27.5A6 2.7 180 1 1 803.7 29.9M1174.1 120.2A8.3 5.6 7 1 1 1158.6 121.6M786.8 186A8.8 2.1 113 0 1 787.8 192.9M1095 305.7A3.4 4.6 26 0 1 1089 310.9M970 2.1A4.9 3.2 116 0 1 965.4 8.8M1074.4 278.6A7 4.5 86 1 1 1077.1 291.9M855.3 324.3A5.5 5.3 165 0 1 851.8 333.2M877.4 314.9A7.4 4.9 144 1 1 882.6 322.3M1205.1 136.2A6.6 3.7 129 1 1 1211.1 134.7M1014.6 33.3A6.1 5.2 84 1 1 1010.1 44.1M1164.1 139A5.5 5.5 133 0 1 1165.6 149M983.9 161A4.7 4.4 133 0 1 991.9 163.2M1071.6 48.8A7.4 2.3 162 1 1 1078.5 46M1102.5 168.9A4.4 3.5 30 1 1 1099.1 173.4M1036.1 180.4A3 2.3 168 1 1 1039.7 181.7M1157 102.9A6.7 3.5 1 1 1 1159.8 109.4M1168.5 312.4A3.1 4.8 95 0 1 1159.9 309.1M1000.7 14.5A5.8 3.8 118 1 1 1000.3 24.7M788 11.1A4.6 5.2 61 1 1 789.6 15.1M1167.5 363.9A6.8 5.9 9 1 1 1167.1 368.2M916.6 19.1A6.8 3.4 28 0 1 908.7 11.4M875 92.3A3.3 5.6 20 1 1 874.1 97.2M1106.9 370A6.2 4.9 166 1 1 1117 363.5M926.5 293.5A5.8 3.9 77 1 1 928.1 283.6M1032.6 371.3A5.2 4.2 36 1 1 1035.3 363.2M977.4 140.5A5 4.3 83 1 1 980.5 133.7M1117.2 139.1A6.8 4.4 5 1 1 1105.2 136M1165.8 87.6A6 3.9 82 0 1 1162.9 97.6M1070.7 138.4A5.3 3 138 1 1 1069.7 132.3M899.1 259.9A7.2 2.2 128 0 1 901.9 251.8M960.5 348.5A5.4 3.8 118 0 1 966.4 353.2M853.5 225.1A3.9 3.6 54 1 1 855.4 221.8M1172.8 26.8A3.7 2.3 50 1 1 1171.1 22.1M962.7 232.4A6.6 4.3 93 0 1 970.9 228.2M1049.5 37.4A6.1 5.6 122 1 1 1057.3 44.7M780.5 31.7A5.7 3.2 178 1 1 784.6 36.6M950.9 203.1A8.1 4.5 86 0 1 958.3 210.1M807.9 32.9A4.7 4.5 21 1 1 807.6 24.6M1127 166A5.1 4.2 9 1 1 1125.9 174.3M908.6 236.2A7.4 4.3 107 1 1 905.5 226.1M963.1 334.9A8.6 4.2 110 0 1 958.8 326.4M1064 287.4A5.8 5 3 1 1 1064.5 294.8M818.7 195.3A6.8 4.8 171 0 1 831 197.8M792.7 169.7A3.3 4.5 114 0 1 797.5 165.4M934.9 32.4A6.9 3 173 0 1 943.6 35.8M1142.6 36.8A3.6 5.4 1 1 1 1147.2 44.7M852.7 332.4A5.3 4.4 31 0 1 851.9 324.3M1111.4 284.3A3.5 4.4 139 1 1 1110.4 277.2M874 240.4A7.9 3.8 156 1 1 869.5 242.6M1139.8 227.1A5 2.6 77 0 1 1140.8 235.4M1117.5 14.4A6.5 3.4 161 1 1 1121.2 6.8M914.6 148.2A7 4.9 90 1 1 915.6 155.4M1078.8 272A8.3 4.7 61 1 1 1084.4 270.5M883.3 144.1A5.1 2.1 34 1 1 886.5 141.8M869.1 54.6A8.4 4.7 138 1 1 863 56.1M1129.1 304.9A8.6 2.6 149 1 1 1130.9 308.8M869.2 315.7A5.3 3.1 158 0 1 859.2 317.6M1179.6 342.8A4.8 2.2 119 1 1 1178 339.3M993.8 115.3A4.6 3.7 175 1 1 985.4 113.5M1158.1 125A4.9 3 157 1 1 1153.1 121.7M899.7 24.9A6.3 2.4 69 1 1 899 20.2M926.3 275.6A8.8 2.3 148 1 1 936.8 266.4M820.9 195.5A3.2 4.4 111 0 1 813.2 196.8M1059.1 57.6A7.1 2.6 149 0 1 1071.2 51.5M927.6 150.9A3.9 4.8 55 0 1 933.3 145.5M1171.7 342.7A4.6 2.7 83 0 1 1167.4 337.3M1048.1 51.6A8.9 4.7 153 0 1 1033.2 56.2M1003.9 349.9A3.1 5.6 34 1 1 1009.3 340.4M1048.2 308.9A6.8 2.1 178 0 1 1054.7 311.6M1189.7 266.5A5.5 5.4 38 1 1 1194.8 265.9M933.2 46.9A5.9 3.8 148 1 1 943.3 42.9M1105.5 97.9A5.3 2.8 93 0 1 1109.3 104.3M1139.7 241.2A8.9 5.8 49 1 1 1141.8 246.5M973.8 255.2A7.9 5.6 113 1 1 984.5 246.3M1095.5 92.2A7.1 5.3 13 1 1 1101.7 95.4M1077.7 65.6A8.2 2.3 65 1 1 1074.5 55.8M1066.5 273.9A6.4 5.9 12 0 1 1057.8 265M1207.6 352A4.7 4.9 36 1 1 1198.9 351.3M852.9 52.2A5.9 2.8 119 1 1 852.6 49M818.4 206.7A5.6 4.2 29 1 1 808.6 204.1M1163.3 140.1A8.4 2.8 10 1 1 1176.7 141.4M1136.7 305A8.7 3.6 29 1 1 1130.7 301.4M1030 299.4A5.9 4.9 113 1 1 1021.4 294.9M1178.8 247.6A8.3 3.7 6 1 1 1188.7 246.5M911.3 245.9A4.8 5 165 1 1 905.2 247.9M971.9 141.4A3.8 5.9 173 1 1 973 134.5M1107.8 304.2A7.1 5 143 1 1 1113.2 300.2M1006.6 228.1A6.9 2.7 87 1 1 1008.2 224.5M1043.3 245.6A8 2.8 46 1 1 1048.4 242.7M992.2 91.4A5.6 5.1 63 0 1 990.1 101.6M1017 334.8A8.8 2.8 157 1 1 1007.1 337.1M1027.2 359A6.1 4.6 78 1 1 1025.2 351.1M1001.6 79.4A3.1 5.5 93 0 1 1000.4 73.6M905.8 208.9A3 4.7 21 0 1 902 205.3M985.6 20.7A3.4 3.1 127 1 1 984 18.6M1209.1 9.6A6.9 4 102 0 1 1204 21.8M786 258.1A8.7 4.7 97 1 1 786.8 266.6M979.6 169.5A6.2 4.1 120 0 1 985.8 174.4M985.5 258.3A5.5 5.4 43 1 1 995.9 255.4M1117.2 49.1A7.8 2.2 108 1 1 1112.2 63.6M1117.8 224.4A6.5 2.2 17 1 1 1105.8 220M1195.9 14.5A5.4 4 61 1 1 1194.9 6.1M1165.8 267.5A5.6 3.6 129 0 1 1158.1 266.3M998.2 114.7A3.5 5.9 134 1 1 994.1 120.5M1001 221.3A8.1 3.2 76 1 1 1003.8 231.7M1061 132.2A5.2 5.5 34 0 1 1051.6 127.8M1159.4 63.1A6.1 5.9 109 0 1 1157.6 74.8M908.4 95A7.8 5 9 0 1 897 87.6M928.9 181.3A7.1 4.3 12 1 1 937.7 189.2M1006.8 201.8A8.3 2.9 162 0 1 1002 197.3M832.6 41.5A6.9 4 102 0 1 839.7 44.7M1205.9 83.3A3.6 4.6 61 0 1 1209.4 88.2M992.9 351.2A8.5 5.6 180 0 1 999.2 342.3"/>
<path stroke-opacity="0.4" stroke-width="1.6" d="M1045.8 288A7.8 5.8 133 0 1 1044 277.5M854.7 182.3A4.1 3 169 1 1 862.1 179.2M831.9 102.3A7.9 3.8 92 0 1 826.7 91.6M853.1 29.4A3.9 4.8 179 0 1 859 33.1M1121.3 130.9A4.2 5.9 102 1 1 1126.4 133.3M823.3 313.9A6.2 2.7 169 0 1 827.4 308.2M980.8 303.4A6.9 5.2 63 1 1 973.7 306M861.3 135.7A8.1 3.1 14 1 1 865 142.7M1192.4 304.7A5.5 5.3 116 0 1 1198.9 312.2M886.2 184.4A3.2 4 152 0 1 881.1 178.5M799.6 98A5.7 5.7 160 0 1 792.2 103.9M1169.8 174.7A7.5 3.2 1 1 1 1161.6 179.1M802.9 95.3A8 3.1 176 1 1 811.3 93.9M993.6 171.6A5.3 3.9 173 1 1 999.2 177.2M804.3 67.1A8.7 4.7 40 1 1 808.1 66.1M857.7 181.2A8.6 4.6 63 0 1 868.6 192.4M922 174A4.1 4.6 13 1 1 917.9 172.1M900.1 273.5A7.3 2.7 43 1 1 896.3 272.3M1038.2 319.8A4.3 2.1 97 1 1 1036 326.8M837.7 190.2A7.7 3.1 72 1 1 841.3 183.9M804.5 55.6A5.1 5.4 171 0 1 795 51.9M968.8 86.6A6.6 2.7 9 0 1 977.5 91.4M989.5 35.2A3.7 3.4 141 1 1 986.9 35.3M1054.4 292.8A4.3 2.3 102 1 1 1055.2 288.4M781.9 254.1A3.7 3.3 66 1 1 775.8 253.2M894 269.1A3.9 5.9 100 0 1 900.3 275.9M795.9 215.3A8.7 5.5 14 0 1 780 215.9M1106.8 37.4A7.1 2.1 74 1 1 1110 36M1025.7 10A3.3 5.3 89 0 1 1016.8 9M978.5 49A7.6 2.5 97 1 1 980 50.1M975.9 175.5A7.8 3.9 94 1 1 980.5 170.6M1112.3 323.7A8.5 5.2 75 1 1 1104 325.3M995.5 146.3A8.9 4.9 67 0 1 984.2 138.5M1174.7 340.5A7.6 5.5 123 1 1 1186.5 336.4M1136.8 227A3.4 3.5 74 1 1 1142.5 225.3M795.4 371.1A7.2 5.7 107 0 1 791.1 358.6M1183.8 351.3A5.3 5.4 179 1 1 1183.6 359M1119.1 102.5A4 3.1 12 1 1 1121.6 98.4M898.3 272.8A4.2 5.7 21 1 1 897 281.2M790.2 267.8A7.1 2.6 20 1 1 787.1 263.3M964.9 27.8A6 5.7 42 0 1 976.3 27.8M817.4 119.2A3.9 5.7 40 0 1 825.4 111.8M910.8 298.1A4.5 3.7 19 1 1 913.6 298M865.4 91.2A3.4 4.1 33 1 1 866.1 94.7M1152.6 376.9A7.7 4.5 35 1 1 1145.1 368.6M836.3 279.1A5.1 2.5 147 1 1 839.2 274.3M1037.7 294.3A6.5 5.9 41 1 1 1029.4 302.4M1038.3 174.3A5.9 3.7 41 1 1 1029.2 173.6M824.9 280.5A8.7 5 124 1 1 835.1 275.4M817.4 29.9A7 4.1 13 1 1 812.1 27.2M787.3 172.5A4.2 5.4 122 1 1 781.8 164.4M1181.2 186.1A3.1 2.1 135 0 1 1182.3 181.1M984.1 207.9A4.6 5 66 1 1 981.1 201.6M1089.8 274.5A4.6 3.7 68 1 1 1090 278.6M998.3 68.1A5.4 2.3 118 1 1 1001.1 63.9M829.8 329.3A4.8 2.1 118 0 1 828.2 336.2M1143.9 239.7A5 3 113 0 1 1138.7 247.9M882 94.5A8.5 2.6 123 1 1 882.7 101.9M809 104.6A8.2 2.9 168 1 1 821.1 100.9M794.6 317.1A4.6 5.7 109 1 1 785.2 320.7M880.8 32.2A6.3 4.4 148 1 1 870.3 39.3M893.7 254A6.7 3.5 121 1 1 888.9 261.5M1186.1 336.7A3.5 2.1 104 0 1 1187.5 330.9M856.8 169.8A6.6 2 50 0 1 856.7 175.8M1064.4 351.3A6.7 2.8 87 1 1 1068.8 359.9M1191.3 306.7A4.2 4.6 54 1 1 1186.3 301.4M937.9 168.2A7.2 4 73 0 1 938.8 181.7M829.9 293.4A5.6 4.5 58 1 1 821.9 297M863.6 89.1A6.6 4.8 7 1 1 870.6 96.9M923 90.8A7.7 4.3 166 1 1 928.8 97.9M1200.3 178A7.5 2.9 170 0 1 1191.3 175.6M1070.9 233.5A3.4 3.5 15 1 1 1075.1 237.7M919.7 317.5A3.2 5.5 64 1 1 921.8 321.2M1205.2 57.1A7.7 4.9 80 0 1 1197 60M1158.3 78.8A7.2 2.7 173 1 1 1151.2 81.8M1174.1 12.6A8.4 4.7 146 1 1 1161.1 19.9M1179.2 134.4A6.7 5.5 170 0 1 1168.5 130.7M863.3 214.8A3.3 5.7 167 1 1 857.1 208.6M980 277.9A3.6 4.4 146 0 1 985.4 283.6M1055.2 310.8A3.5 2.3 54 0 1 1055 315.6M1141.2 126.1A6.7 5.8 4 1 1 1143.2 120.3M1093.6 25.8A6.4 4.8 20 1 1 1101.9 27.4M1114.2 212.2A6.2 3 140 0 1 1123.4 206.1M989 364.4A5.6 4.8 34 1 1 980.8 357.6M1098 348.4A8.3 2.5 62 1 1 1097.4 341.8M1070.6 250.6A4.3 3.4 128 0 1 1074.8 244.8M1197.6 231.7A8.9 3.9 156 1 1 1204.8 229M792.3 99.8A6.2 5.3 32 1 1 782.9 105.3M1097.7 242.6A6.3 4.1 5 1 1 1101.4 236.9M846.9 171.7A4.5 2.1 145 1 1 847.1 167.7M861.8 43.7A4 2.2 176 1 1 856.3 44.4M801.5 81.6A8.8 3.1 69 1 1 809.8 91M963.6 90.8A7.4 3.5 177 0 1 972.9 95.8M873.5 56A8.3 2.8 92 1 1 870.3 44.2M1038 207.4A4.3 4.4 103 0 1 1029.7 208.6M1191.5 354.8A3.2 4.8 0 0 1 1188.3 362.2M1193.9 269.2A4.4 2.6 26 1 1 1189.7 263.2M1148.6 5.3A7 2.9 116 1 1 1144.9 9.9M983.6 229.3A8.5 4.5 124 1 1 990.6 219.1M1015.5 245A7.1 2.4 169 1 1 1016.8 246.4M882.8 40.7A5.3 2.1 102 0 1 880.9 50.8M815.5 234.6A5.3 4 158 0 1 814.6 226.5M1162.1 157.4A8.6 4.5 95 1 1 1159.4 171.1M808.9 51.7A8.1 2.6 133 1 1 819.9 41.2M890.7 19.5A7.9 3.3 30 1 1 901.3 29.2M1155 202.7A8.5 4 2 1 1 1146.6 207M1081.4 197.9A3.1 3.8 41 1 1 1084.4 202.2M875.4 360.4A5 2.2 169 1 1 878.1 359M1192 377.7A3.4 3.7 143 1 1 1197.7 375.1M993.8 71.5A6.4 2.8 100 0 1 990 83.1M917.7 185.1A7.9 5 165 1 1 913.8 195.4M978.9 338.4A8.5 4.5 143 1 1 978.9 345.8M940.1 287.8A5.5 5 82 1 1 943.1 279.5M862.6 189.3A7.8 2.7 151 0 1 854.1 189.4M783.6 67.6A8 2.4 137 1 1 790.5 64.2M877.5 118.5A6.2 5.2 167 1 1 883.2 109.6M884.7 204.6A3.3 4 2 1 1 888.3 211.1M908.6 70A8 4 14 1 1 895.3 65.6M1161.3 206.3A6.1 4.8 114 1 1 1169.6 209.1M1005.9 200.3A7.6 5.5 179 1 1 1003.8 204.8M792.8 35.9A3 4.2 108 1 1 797.5 37.4M877.9 60.8A7 4.7 77 0 1 878.3 49.6M1045.9 29.1A6.8 5.3 37 0 1 1033.9 28M958.7 53.2A6.5 2.9 166 0 1 948.4 54.3M888.9 38.4A7 2.6 100 1 1 891.5 43.4M792.3 100A4.9 3.1 114 0 1 799 94.8M1080.9 176.1A5.9 5.2 169 0 1 1069.5 175.4M884.6 105.3A4.9 4 75 0 1 887.8 98.1M1059.4 266.7A4.8 2.2 35 1 1 1066.3 269.5M844.9 179.8A3.9 4 89 0 1 849.5 186.2M1083.1 83.8A8.9 3.8 157 0 1 1099.9 78.1M1074.1 68.4A9 2.3 138 1 1 1073.1 64.7M958.6 228.8A6.5 3.9 1 1 1 963.8 222.3M923 96.2A4.2 4.5 126 0 1 918.3 101.5M790.4 78A7 4.8 41 1 1 793.4 81.5M828.2 172A4.5 3.8 158 1 1 830.6 178.7M893.2 52.6A3.7 5.9 85 0 1 901.1 46.7M1035 81.1A4.2 5.4 131 1 1 1037.8 86.3M860.9 83A3.1 4.7 98 1 1 869.1 81.3M867.6 135.6A8.3 6 66 1 1 876.6 133.8M1025 327.4A7.9 5.4 125 1 1 1024.8 314.8M1125.7 366.6A3.8 2.2 92 1 1 1122.5 369.6M1060.4 300.8A8.2 2.5 36 1 1 1059.9 298.5M1092.5 341.4A4.7 4.2 157 1 1 1094.8 349.5M951.7 225.1A6.3 3.5 175 0 1 955.7 218.2M1043.1 93.8A4 3.7 106 1 1 1040.9 87M1078.5 16.9A7.6 4.9 14 0 1 1075 6.8M1156.2 337.1A5.5 4.6 176 1 1 1159.8 336.9M870.8 75.9A7.1 4.9 132 0 1 881.5 74.2M1177.3 294A6 2.6 179 1 1 1182.1 296.3M1204.7 36.8A3.1 2.7 143 1 1 1203.9 33.7M819.8 21A3.8 4.8 60 0 1 818.1 14.5M921.6 368A3.3 3.9 134 1 1 920.6 373.4M895.6 162.2A4 3.8 175 0 1 894.8 168.3M953.1 27.6A8.8 2.5 103 0 1 947.8 43.2M832.8 71.7A4 2.5 59 1 1 833.7 78.4M1004.7 333.3A4.5 2.2 54 0 1 1001.4 334.8M945.9 375.1A7.3 4 118 1 1 951.9 376.7M839.6 381.3A7.1 3.6 162 1 1 849.7 374M979.8 225.9A8 4.7 168 0 1 990.6 217.4M957.1 21.6A5.8 3.8 143 0 1 948.6 28.2M923.8 265.2A8 5 79 1 1 923.1 270.8M1101.4 324.5A3.4 3.5 168 1 1 1095.9 320.3M1092.5 378.8A4.9 2.6 150 0 1 1086 378M875.4 318.9A6.4 4.1 168 1 1 870.5 319.2M833.9 79.3A6.3 5.3 105 1 1 836.6 67M1152.6 29.6A7.3 4.2 121 0 1 1161.7 28M947 335.2A4.6 2.8 24 0 1 954.4 339.9M948.2 78.2A6.7 2.8 6 0 1 955.9 74.9M1135 265.3A4.3 5.5 89 0 1 1129.2 271M1007.5 17.7A3 5.5 41 1 1 1003.1 26.8M897.7 134.7A8.5 4.7 27 0 1 908.1 131.1M984.4 325.7A4.5 4.8 42 1 1 976.5 327.4M954.9 269.8A4.3 4.9 77 1 1 949.1 276.9M902 195.3A8.6 2.9 29 0 1 907.7 192.3M1177.8 249.4A5.4 4.1 10 1 1 1176 241.5M781.7 179.7A5.7 4.6 172 1 1 784.2 183.8M847.7 274.7A5.6 5.6 38 0 1 845.6 263.9M1096.4 342.8A8 2.5 161 0 1 1110 340.2M916.4 155.4A5.1 2.9 135 1 1 914.2 157.8M1153.6 265.7A7.6 2.1 61 1 1 1152.5 260.8M999 319.6A4 6 136 1 1 989.3 314.1M785 135.4A4.8 3 82 0 1 788.8 143.6M933.3 167.5A4.1 2.7 177 1 1 931.4 169M1136.1 291A6.5 4.2 105 1 1 1133.2 281.3M1095.6 254.7A3.5 4.1 87 1 1 1087.5 255.6M1012.6 124.8A4.7 3.6 166 0 1 1010 130.8M1097.1 372.3A6.7 2.2 26 1 1 1097.9 368.3M1079.8 260.1A4.8 3.9 45 1 1 1073.9 260.9M1044.9 136.4A6.2 4.3 48 0 1 1038.6 127.3M964.6 209.5A6.4 3.1 82 0 1 969 220.1M1137.5 60A8.3 4.8 136 0 1 1124.8 64.4M852.4 94.2A4.4 2.4 10 1 1 844.7 95.3M1022 54.3A7.6 2.3 179 1 1 1008.4 53.1M858.2 73A6.8 5.8 34 1 1 865.1 83.8M1177.9 236A7.1 3.9 89 1 1 1172.5 225.6M1138.4 248.5A3.3 3.1 80 1 1 1137.5 254.6M1112 224.2A8.6 4.5 48 0 1 1111.8 235M804 127.9A4.4 3.7 36 0 1 806.4 134.7M1114.6 301.6A3.2 2.6 13 0 1 1119.1 298.9M1185.3 225.8A3.4 4.9 77 0 1 1184.8 219.3M1112.5 224.1A6.7 5.5 156 1 1 1121.3 230.8M1161.8 102.3A6.3 3.1 59 1 1 1162.3 95.7M937.9 131.6A6.4 3.6 8 1 1 944 125.8M1030.1 170.1A8.8 4.8 165 1 1 1014.1 170.7M857.6 150.5A4.7 4.3 131 0 1 850.2 155.1M846.4 13.5A6.6 4.5 91 0 1 854.9 14.5M799.2 206.8A6.3 5.3 151 1 1 801.6 216.9M1203.5 217A4.7 2 115 0 1 1200.3 225.7M978.6 351.8A8.8 4.5 89 0 1 984.5 365.1M794.5 44.4A4.4 4 104 1 1 801.4 45M854.1 231.4A6.2 2.5 148 1 1 861.3 231.7M982.8 11.1A4.8 2.9 151 1 1 979.7 16.1"/>
<path fill="#fff" fill-opacity="0.75" stroke="none" d="M1059.8 138.4a1.4 1.4 0 1 0 2.8 0a1.4 1.4 0 1 0 -2.8 -0zM1097 75.5a.9 .9 0 1 0 1.7 0a.9 .9 0 1 0 -1.7 -0zM1147 53.4a.9 .9 0 1 0 1.8 0a.9 .9 0 1 0 -1.8 -0zM1112.8 84.5a1.4 1.4 0 1 0 2.8 0a1.4 1.4 0 1 0 -2.8 -0zM1178.6 202.9a1.2 1.2 0 1 0 2.4 0a1.2 1.2 0 1 0 -2.4 -0zM869.8 353.1a1.5 1.5 0 1 0 3 0a1.5 1.5 0 1 0 -3 -0zM923.9 206.8a1.6 1.6 0 1 0 3.1 0a1.6 1.6 0 1 0 -3.1 -0zM964.3 130.8a1.2 1.2 0 1 0 2.4 0a1.2 1.2 0 1 0 -2.4 -0zM1133.3 283.3a.8 .8 0 1 0 1.7 0a.8 .8 0 1 0 -1.7 -0zM988.7 324a1.4 1.4 0 1 0 2.7 0a1.4 1.4 0 1 0 -2.7 -0zM1199.8 261.4a1.2 1.2 0 1 0 2.3 0a1.2 1.2 0 1 0 -2.3 -0zM863.3 159.5a1.4 1.4 0 1 0 2.8 0a1.4 1.4 0 1 0 -2.8 -0zM932.2 187.5a.7 .7 0 1 0 1.4 0a.7 .7 0 1 0 -1.4 -0zM1136.7 33.7a1.2 1.2 0 1 0 2.4 0a1.2 1.2 0 1 0 -2.4 -0zM890.4 236.3a.8 .8 0 1 0 1.6 0a.8 .8 0 1 0 -1.6 -0zM833.1 215.3a1.3 1.3 0 1 0 2.6 0a1.3 1.3 0 1 0 -2.6 -0zM811.9 244.9a1.5 1.5 0 1 0 2.9 0a1.5 1.5 0 1 0 -2.9 -0zM1082.8 187.8a.8 .8 0 1 0 1.6 0a.8 .8 0 1 0 -1.6 -0zM1002.1 160.8a1.1 1.1 0 1 0 2.3 0a1.1 1.1 0 1 0 -2.3 -0zM800.8 25.8a1.2 1.2 0 1 0 2.5 0a1.2 1.2 0 1 0 -2.5 -0zM1004.3 215.2a.9 .9 0 1 0 1.8 0a.9 .9 0 1 0 -1.8 -0zM882.3 25a1.5 1.5 0 1 0 3 0a1.5 1.5 0 1 0 -3 -0zM893.7 95.1a1.5 1.5 0 1 0 3 0a1.5 1.5 0 1 0 -3 -0zM830.9 176.6a1.6 1.6 0 1 0 3.2 0a1.6 1.6 0 1 0 -3.2 -0zM1153.3 27a1 1 0 1 0 2.1 0a1 1 0 1 0 -2.1 -0zM896.5 239.2a1.6 1.6 0 1 0 3.1 0a1.6 1.6 0 1 0 -3.1 -0zM1015 297.6a.9 .9 0 1 0 1.7 0a.9 .9 0 1 0 -1.7 -0zM853.5 200.4a1.3 1.3 0 1 0 2.6 0a1.3 1.3 0 1 0 -2.6 -0zM1011 84.3a1.7 1.7 0 1 0 3.4 0a1.7 1.7 0 1 0 -3.4 -0zM1126.5 216.9a1.5 1.5 0 1 0 3 0a1.5 1.5 0 1 0 -3 -0zM1093 218a1 1 0 1 0 2 0a1 1 0 1 0 -2 -0zM1058.9 268.4a1 1 0 1 0 2 0a1 1 0 1 0 -2 -0zM793.9 203.4a1 1 0 1 0 2 0a1 1 0 1 0 -2 -0zM1142.8 344a.7 .7 0 1 0 1.5 0a.7 .7 0 1 0 -1.5 -0zM1188.8 151a1.6 1.6 0 1 0 3.3 0a1.6 1.6 0 1 0 -3.3 -0zM807.5 224.5a1.6 1.6 0 1 0 3.2 0a1.6 1.6 0 1 0 -3.2 -0zM792.1 25.6a1.7 1.7 0 1 0 3.3 0a1.7 1.7 0 1 0 -3.3 -0zM932.9 246.4a1.4 1.4 0 1 0 2.7 0a1.4 1.4 0 1 0 -2.7 -0zM888.6 18.6a1 1 0 1 0 1.9 0a1 1 0 1 0 -1.9 -0zM1168.1 73.3a.9 .9 0 1 0 1.9 0a.9 .9 0 1 0 -1.9 -0zM1173.6 198.2a1.3 1.3 0 1 0 2.6 0a1.3 1.3 0 1 0 -2.6 -0zM902.3 67a1.3 1.3 0 1 0 2.5 0a1.3 1.3 0 1 0 -2.5 -0zM1130.2 76.7a1.3 1.3 0 1 0 2.5 0a1.3 1.3 0 1 0 -2.5 -0zM1007.2 234.2a1 1 0 1 0 2 0a1 1 0 1 0 -2 -0zM1091.6 71.3a1.5 1.5 0 1 0 3.1 0a1.5 1.5 0 1 0 -3.1 -0z"/>
</g></g>
<rect x="778.6" y="4.7" width="433.2" height="372.3" fill="none" stroke="#000" stroke-opacity="0.45" stroke-width="1"/>
<rect x="1215.00" y="4.40" width="434.60" height="373.20" fill="#0d0009"/>
<g clip-path="url(#clipB)"><g filter="url(#fblur)">
<path fill="#6e28b4" fill-opacity="0.42" d="M1637.2 373.1L1648 372.3L1649.7 382.6L1638.3 378.5zM1613.3 272.2L1620.3 269.9L1620.5 277.2L1616.3 279.6L1612 280.1zM1250.2 57.7L1248.4 60.4L1244.3 63.1L1243.1 58.5L1245.1 57.2zM1596.8 91.9L1599.2 103.2L1591.9 101.3L1588.5 96.7zM1554.2 24.1L1567.7 25.5L1562.9 31.8L1554.4 29.6zM1580.5 30.1L1585.8 33.9L1581.4 42.4L1574.4 43.2zM1587.4 350.7L1582.8 350.8L1582.3 345.9L1586.6 347.2zM1576.2 144.2L1581.8 141.8L1586.4 150L1578.2 151.5zM1323.4 350.4L1320.2 351.7L1317.9 347.6L1322.1 346zM1646.7 363L1642.6 356.7L1648.3 350.3zM1346.1 10L1347.7 7.3L1354.1 7.4L1349.8 12.9zM1277.1 328.8L1280.7 337.5L1275.1 338.7L1274.1 333.9zM1516 366.6L1511.9 365.4L1512.6 362.7L1515.5 361.8L1520.4 365.2zM1616.7 167.9L1613.1 167.2L1615.7 164.5L1617.9 165.7zM1291.3 192.6L1287.8 196.9L1284.1 191.9L1288.6 188.4zM1606 122.9L1612.3 123.9L1613.6 131.8L1601.9 133.6zM1499.5 181.1L1507 174.7L1509.9 178.4L1510.4 187zM1589.5 47.3L1587.5 50.1L1586.2 51.6L1583.3 49.6L1584.3 45.6zM1376.6 172.9L1380.5 178.9L1375.1 181.3L1373.2 177.9zM1640.5 237.3L1635 239.4L1632.3 235.3L1636.8 230.2L1641.2 232.3zM1451.3 358.9L1441 354.2L1454 348.9zM1381.4 112.5L1372.4 113.9L1372.8 107L1378 107.6zM1224.5 122.9L1226.5 118.5L1230.4 121.5L1227 127.3zM1353.2 232.6L1353.4 228.3L1361.1 229.2L1359.7 234.4zM1450.3 249.5L1445.9 255.6L1439.1 249.6L1445 245.1zM1519.9 344.7L1518.9 350.5L1513.9 351.7L1512.3 347.9zM1260.9 117.6L1261.2 123.1L1253.3 125.2L1254.6 120.6zM1490.9 326L1485.8 326.4L1487.2 322.5zM1263.3 63L1263.7 55.9L1267.7 60.6zM1519.4 22.2L1513.3 24.8L1509.1 26.4L1508.6 15.2L1514 14.8zM1411.2 300.8L1407 301.5L1406 296.7L1411.9 295.6zM1264.4 180.9L1275.1 190.4L1264.1 194.2zM1318.8 352.4L1318.7 358.5L1312.2 354.2zM1348.5 138.9L1354.2 139.1L1352.6 142.9L1348.4 143.2zM1258.3 312.1L1250.9 308.8L1256.1 305.3zM1619.2 150.9L1618.6 156.2L1614.4 158.5L1613 156.6L1614.6 152.1zM1343.1 194.1L1342.4 201.7L1334.6 195zM1632.8 315.5L1632.4 311.7L1635.5 310.9L1637.9 314L1634.5 315.3zM1543 241.1L1542.7 237.7L1548.1 235.4L1548.8 239.2L1546.8 242.8zM1354.7 154.3L1356.1 150.1L1358.3 154.6zM1529.6 115.1L1536.2 116.9L1530.2 125.7L1527 120.9zM1569.7 336.7L1576 331.8L1583.1 339.3L1578.1 348L1570.5 341.2zM1484.1 298.4L1492.4 292.8L1494.9 302.1zM1274.3 182.9L1275.2 188.9L1270.5 187zM1233.1 238.3L1225.5 228.4L1238.5 228.1zM1405.2 247.4L1405.2 253L1400.3 254.6L1400 249.9zM1277 230.3L1270.5 235.5L1265.6 229.4L1273.6 226.5zM1548 167.9L1546.6 171L1539.2 168.9L1546.2 161.9zM1456.6 274.3L1452 278.8L1451.5 273.5zM1542.7 182.5L1547 183.2L1541.7 187.5L1537.7 187.1zM1573.5 247L1573.7 239.9L1576.2 244.1zM1575.9 267.9L1583.4 268.4L1583.1 276.7L1574.6 271z"/>
<path fill="#5a28c8" fill-opacity="0.42" d="M1445.4 337L1448.9 329.2L1455.4 333.6zM1265.6 176.7L1261.2 176L1260.8 171L1264.4 171.3zM1612.5 87.8L1607.1 89.5L1608.3 83.1zM1569.2 196.6L1571.3 199.9L1568.1 202.3L1565.9 199.8zM1474.1 167.2L1484.2 165.6L1482.4 176.7L1471.7 177.7zM1312 311.8L1315.4 315.5L1310.5 316.8L1309 313.6zM1248.1 353.3L1248.2 364.6L1238.5 369.1L1236.4 356.7zM1357.8 54L1357.5 61.3L1353.2 59.9L1350.8 58.7L1351.3 52.9zM1622 252.7L1618.6 246.1L1624.9 244zM1435.5 180L1435.4 191L1422.1 186.6L1429.3 180zM1215.9 147.9L1215.6 143.4L1219.5 142L1219.8 146.8zM1368.1 94.1L1366.1 91.2L1371.4 90.1L1370.6 93.8zM1476.8 119.8L1467.5 126.2L1461.3 115.1L1471.8 110.4zM1301.2 61.9L1302.4 72.6L1292.8 71.7L1295.3 62.4zM1378.6 261.8L1379.4 257.5L1383 259.7zM1418.5 133.4L1417.2 142.3L1408.7 142.9L1410.4 133.5zM1405.9 76.1L1405.6 82.5L1402.1 82.9L1401.5 76.7zM1527.3 187.2L1532 183.8L1536.8 185.6L1535.3 188.5zM1228 219.5L1219.2 224.5L1216.1 214.7zM1340.3 220.2L1349 223.4L1340.6 229.1zM1580.3 121.8L1581.9 125.7L1575.2 131.3L1572.4 124L1574.9 120.1zM1559.9 345.9L1554 343.9L1558.9 339.7zM1450.7 43.2L1447.1 42.7L1447.8 36.7L1451.9 38.6zM1340.5 199.8L1331.6 200L1330.4 188.1L1337.4 186.8zM1418 131.8L1414.4 128.2L1417.8 126.3zM1485.9 145.1L1477.4 142.8L1471.9 137.2L1478.1 133.1L1486 135.4zM1231.5 371.5L1236.6 371.1L1238.5 374.5L1234.3 381.1L1229.2 377.8zM1645.2 280.6L1633.7 278.8L1640.6 273.2zM1532.2 224L1539.8 228L1542.8 237.2L1529.1 237L1527.3 232.8zM1602.9 344.4L1604.7 351.5L1597.7 351.1zM1639.2 91.4L1634.6 101.5L1628.8 94.4L1634.5 90.3zM1639.9 333.6L1650.5 338.4L1645.6 343.6L1637.3 338.8zM1424.2 239.5L1423.4 235.7L1428.5 234.1L1428 237.5zM1413.5 291.8L1419.8 296L1417.5 300.3L1412.1 303.4L1410.5 295.5zM1358.4 337.7L1361.5 342.2L1357.8 347.9L1353.9 343.4zM1216.9 344.2L1220.2 345.8L1224.2 352L1223.4 357.6L1215.5 353.2zM1604.4 171L1607.2 176.2L1597.8 176.8zM1426.1 353.7L1430.1 357.1L1426.5 359.6L1422.9 358.1zM1539.8 155L1543.9 150.6L1548 156.3L1544.9 157.9zM1381.7 43.4L1373.5 46L1379.5 37.4zM1328.6 25.9L1336.8 27.3L1333 35.1L1326.4 30.8zM1649.7 74.3L1639.6 75.5L1645.5 67.1zM1526.6 179.3L1531.9 173.4L1534 178.3L1532.4 184.5zM1534.9 263.3L1534.4 266.6L1525.7 265zM1544.1 161.1L1545.6 163.2L1543.6 169.1L1537.6 165.4L1537.7 162.4zM1337.1 118.3L1333.6 122.7L1324.5 114.4L1327.7 111.9L1336.3 111.1zM1282.6 192.6L1281.7 196.6L1278.5 198.4L1277.5 195.3L1278.7 191.1zM1470.1 160.7L1474 154.1L1480.5 156.5L1482.3 162.4L1475 165.4zM1610 227.3L1607.5 230.8L1606.2 225.4zM1413.3 187.5L1417.3 184.7L1422.2 188L1415.5 195.4zM1371.3 278.2L1368.6 275.4L1371.9 273.6L1375.8 273.6L1374.4 279.3zM1506.1 324.8L1513.4 324.6L1516 331.7L1510.8 332.6zM1290.9 330.9L1278.5 327.8L1284.9 322z"/>
<path fill="#2020e6" fill-opacity="0.42" d="M1466.5 26.7L1472.3 27.1L1468.8 36.1L1464.3 33.7zM1419.5 79.5L1418.8 73.7L1428 77.2L1427.6 82.3L1421.2 83.7zM1644.6 132.1L1645.1 126.9L1655.7 125.2L1652.1 132zM1470.3 329.2L1463.2 328.4L1466.9 323.2zM1453.1 146.2L1452.8 149.2L1448.6 152.4L1448.5 146.1zM1574.1 79.5L1577.8 74.3L1580.4 79.6L1577.5 82.5zM1594.1 17.8L1594.5 21.9L1589 23.7L1589.6 21.2zM1387.7 141.6L1380.1 136.1L1390.5 132zM1497.6 303.2L1506.4 300L1509.4 306.1L1497.9 309.5zM1435.4 373.3L1444.7 367.6L1448.7 371.5L1445.1 379.3zM1409.7 119.5L1407.2 114.5L1410.7 113.5L1417.6 112.6L1414.6 121.7zM1373.1 157.2L1367.8 153L1370.7 145.7L1375 149.8zM1435.1 63L1439.8 72.2L1431.2 67.8zM1269 26.3L1264.4 30.1L1257.6 26.4L1265.3 18.4zM1569.3 266.8L1566.6 270.8L1563.3 267.7L1565.8 263.2zM1239.6 137.7L1233.4 140.7L1234.2 131.3L1241.4 130.3zM1627.3 206.3L1630.8 208.4L1626.3 215L1622.5 211.1zM1647 188.3L1643.3 187.6L1643.2 180.7L1649.3 182L1650.3 185zM1515.1 348.1L1521.3 341.8L1526.4 349.8zM1346.3 26.3L1339.9 17.9L1347.2 18zM1491.3 63.8L1487.9 57.3L1496.1 52.9L1497.5 59.9zM1459.2 232.7L1456.1 230.4L1458.8 226.3L1463.3 228.4zM1473 365.3L1477.9 361.1L1481.7 366.2L1478 368.8L1471.5 372.2zM1344.8 300.7L1352.7 304.2L1351.3 310.1L1345.3 309.6zM1441 371.3L1435.3 376.7L1428.4 370.1L1434 367.2L1438.6 366.3zM1462.5 139.9L1457.9 133.5L1465.4 132.6zM1632.7 252.1L1636.8 252L1640.6 257.2L1632.8 257.1zM1630.6 270L1630 267.3L1635.5 264.5L1636.1 268zM1614.8 253L1610.1 244.9L1619.2 244.6zM1569.8 263L1564.1 261.1L1568.4 257.3zM1633.9 186.9L1640.6 185.4L1636.7 188.8zM1246.3 160.7L1247.6 160.2L1250.3 164.5L1245.9 165.2zM1641.3 26.2L1637.4 36.6L1630.5 31.6L1629.9 23.8zM1640 138.3L1637.7 134.3L1642.2 131.3L1643.8 135.3zM1226.6 188.1L1220.5 191.6L1222 178.9zM1350.7 191L1348.1 194.5L1345.6 194.9L1343.2 192.1L1345 188.1zM1313.2 366.2L1318.8 366.6L1317.3 373.5L1312.3 370.3zM1373.6 361L1370.5 357.2L1374.6 353.2L1378.1 357.2zM1436.7 279.1L1447.1 279.7L1448 285.2L1439.1 286.5zM1486.9 299.3L1489.6 297.5L1490.8 302.4L1487.1 302.1zM1634.8 25.6L1639.3 28.3L1638.6 33.9L1631.1 31.4zM1292.3 33.1L1301.1 35.7L1296 41.5L1291.1 41.9zM1587 348.3L1586 344.2L1591.6 344.7L1591.5 350.4zM1230.6 288.8L1223.1 286L1229.1 282.8zM1350 326.1L1346.2 329.9L1343.2 330.2L1339 323.6L1343.7 319.8zM1246.1 93.3L1239.1 95.3L1241.7 83.6zM1603.9 122.3L1611.9 117L1613.5 125.1L1606 126.6zM1225.5 265.3L1228.1 267.9L1227.5 270L1225.6 269.7L1223.8 267.5zM1524.3 330.9L1518 337.4L1517.3 327.1zM1226.8 229.7L1228 235.9L1222.3 232.2zM1415.2 97.2L1421.8 95.3L1422.9 98.8L1418.7 103.1zM1424.7 50.6L1419.7 44L1427.5 44.4zM1433.5 285.2L1430.6 282.9L1435.2 279L1438.3 280.6zM1431.8 341.4L1430.3 334.6L1437.1 335.2zM1451.5 311.8L1448 320.5L1440.1 315.2z"/>
<path fill="#3030d2" fill-opacity="0.42" d="M1312.5 167L1307.6 166.8L1310.5 160.6L1315.3 161.9zM1509 370.1L1519.7 369.1L1514.6 380.7L1508.4 376.5zM1262.1 119.4L1262 112.4L1270.5 115.4L1273.1 123L1261.2 124.8zM1275.1 83.2L1268.5 87.7L1264.6 78.1L1271.5 78.7zM1405.4 62.5L1411 71.7L1403.1 75.6L1398.4 67.2zM1222.7 246.9L1211.7 246.3L1217.6 238.6zM1398.5 292.2L1395.7 293.2L1395.3 287.8L1397.4 286.6L1401.5 288.6zM1548.4 228.4L1545.7 218.8L1555.6 218.5zM1537 195.5L1538.4 188L1544.5 188L1543.2 196.5zM1503 371.8L1498.9 368.1L1500.3 360.6L1506.9 365.3zM1650.7 49.6L1645 44.8L1647.1 43.1L1653.2 43.8zM1481.4 258.9L1485.4 252.5L1492.4 257.6L1488.3 263.6zM1341.2 125.5L1339.6 128.7L1338.4 134.1L1330.5 127.6L1336 122.5zM1395.8 189.2L1396.3 197.9L1388 191.6zM1256.9 318.7L1252.6 313.6L1255.1 304.3L1264.4 306.6L1264.2 314.3zM1511.7 74.9L1520.7 76.9L1520.9 83.4L1510.3 82.8zM1248.9 276.3L1238.5 267.7L1244.8 266L1252.8 270.2zM1235.1 381.6L1222.2 374.8L1232 370.5zM1522.3 62.7L1520.7 70.2L1517.2 65.1zM1323.4 155L1327.9 156.2L1323.9 160.7L1321.2 157.1zM1555.4 349.2L1551.8 354L1543.7 352.1L1549.4 344.5zM1382 200.3L1386.6 197.3L1389.4 201.4L1387.8 205.8L1380.1 203.5zM1347.7 313.8L1345.4 321.9L1337.8 315.2L1338.2 311.7L1346.2 308.6zM1412.2 284.5L1414.9 288.1L1412.1 290.8L1409.3 288.2L1408.7 285.9zM1593.2 163.2L1598.5 165.7L1593.9 168L1590.4 166.3zM1417 118.1L1421.5 121.5L1417.8 122.8L1414.3 120.6zM1379.6 370.4L1383.8 369.4L1384.4 374.1L1381.4 374.4zM1619.8 251.9L1610.3 247.5L1618.4 244.7L1625.7 249.8zM1356.4 67.8L1359.4 81.2L1352.6 75.4zM1537.7 226.2L1539 235.1L1529.5 229.3zM1561.5 15.6L1571.9 17.5L1569.1 21.4zM1449.1 176L1446.8 179.5L1441.6 176.8L1440.5 173.9L1445 172.8zM1555.8 21.4L1559.7 17.2L1563.3 26.2L1557.1 27.7zM1387.8 117.2L1391.2 120.7L1379.1 123.1L1381.4 115.4zM1587.5 355.5L1598.2 355.8L1593.6 362.3zM1247.9 364.9L1246.5 375.6L1234.3 374.3L1232.9 367.3zM1305.7 56.6L1306 48.8L1313.4 50.8L1317.2 55.6zM1334.3 285.7L1333.1 288.5L1331.5 289.8L1328.4 288.7L1329.9 285.9zM1227.9 349.6L1231.2 351.6L1225.7 354.9zM1632 138.2L1629.2 141.7L1623.8 137.1zM1303.7 369L1298.9 363.3L1304.5 358.9L1307.6 362.5zM1414.1 359.9L1406.3 358.7L1409.1 350.5L1413.8 353.2zM1588.1 373.9L1587.1 364.2L1597.2 372.5zM1401.7 296.9L1403 304.5L1394.4 307.8L1395.5 293.6zM1625.7 372.4L1626.2 364.7L1632.2 365.7L1632.4 370.7zM1511 217.8L1511.4 211.5L1517.5 213L1515.7 217.9zM1600.7 97.2L1603 101.2L1596.1 102.9L1595.1 98.1zM1473.3 254.5L1467 252.7L1468.3 248.7L1473.7 251.2zM1264.1 204.6L1271.9 195.9L1270 212.1zM1640.4 247.1L1633.6 245.9L1639.4 239.5L1647.5 239.9zM1406.9 363.4L1418.9 363.8L1413.2 372.4L1406.7 371.1zM1505.8 200.5L1510.2 204.6L1506 206.5L1500.1 206.5L1498.4 202.7zM1233.4 254.4L1243.5 261.7L1238.7 267.4L1232.8 260.2zM1470.7 112.2L1462.7 117.4L1460.3 107.7L1466.9 105zM1519.2 222.4L1522.5 224.4L1519.4 229.2zM1280 196.8L1274.9 196.8L1274.8 193L1276.9 191.8L1281 193.5zM1306.8 267.8L1311.2 269L1308 272.6L1304 268.2zM1257.2 182.5L1261.3 181.4L1261.5 187L1255.9 185.4zM1390 287.9L1386.1 282.8L1393.6 278.2L1393.8 284.8zM1479.2 92.2L1483.7 82.7L1489.1 89.2L1484.4 95.1zM1350.2 171.9L1355 164.3L1359.8 172.1L1354.6 177.4zM1499 318.2L1509.2 318.7L1511.4 326.1L1508.1 327.1L1502.5 322.5zM1397.4 230L1402.8 231L1400.4 237.3L1390.8 238.1zM1421.4 103.4L1418.2 97.5L1425.5 96.7L1429.4 100.9zM1425.3 305.1L1428.9 298.1L1433.7 301.5L1434.5 306.9z"/>
<path fill="#c81428" fill-opacity="0.42" d="M1417.2 249.7L1421.9 246.7L1425.2 247.3L1420.1 253.3zM1512.4 204L1508 204.6L1510.1 201L1513.8 198.6L1515.6 201.4zM1339 23.9L1342.8 21.1L1342.6 23.3L1340 25.7zM1271.6 60.8L1269.5 58.3L1270.7 56.6L1273.8 57.6zM1215.4 282.3L1221.2 277.7L1224.5 279.5L1222.4 285.2zM1467.4 6.1L1464.6 12.3L1461.9 11.6L1460.2 5.6zM1509.1 216.2L1501.5 210.1L1506.1 204.9L1515.1 206.8zM1318.6 8.5L1326.1 4.2L1326.3 12.9L1317.9 14.6zM1308.4 61.8L1300.3 60.2L1305.9 54.5L1312.4 54.2zM1300.9 99.6L1292.3 99.3L1291.6 91.2zM1530.1 166.6L1529.4 170.1L1526.4 171.1L1523.2 167.1L1525 163.7zM1371.6 104.9L1377.6 105L1380.1 111.1L1373.1 112.5zM1444.9 282.7L1452.1 289L1443.5 293.7zM1285.6 131.3L1294.2 127.6L1298.9 129.8L1296.6 135.4L1288.6 135.4zM1345.3 114.8L1345.8 110L1348.6 110.5L1349.7 112.6zM1285.4 321.4L1286.5 314.7L1292.9 317.2L1293 323.1zM1349.2 179.5L1342.7 173.2L1344.1 169L1352 170.6L1351.4 175.4zM1240.9 350.9L1235.8 349.9L1237.2 343.9L1240.9 343.2L1242.6 348.3zM1367 112.5L1376 112.5L1375.6 120.3L1368.3 118.6zM1506.9 361.4L1515.6 356.6L1516.6 363.7zM1426 327.2L1431.1 336.4L1426.1 339.1L1418.8 337zM1558.7 371.6L1554.8 368L1559.1 361.6L1565.8 367.2zM1427.6 374.2L1436.5 370.8L1435.3 379.8L1427 383.8zM1596.9 141.7L1597.8 133.2L1605.8 134.7L1603.1 142.5zM1585.7 96.7L1588 92.3L1596.1 89.6L1598.1 95.7L1598.6 99.3zM1278.2 218.1L1268.3 220L1262.3 210.5L1271.8 204.8zM1587.5 378.9L1587.9 366.6L1593.7 373.5zM1292 115L1293.1 118.6L1285.8 115.5L1289.9 110.9zM1428.3 105.9L1424.4 100.6L1427.2 98.6L1429 102.8zM1532.3 149.1L1533.9 157.6L1526.7 158.8L1521 147.3L1527.3 148.4zM1548.2 308.6L1552 299.9L1556.9 302.4L1555.2 309.6zM1274 304.9L1274.3 300.9L1278.9 300.5L1279.3 304.2L1276.1 306.2zM1419.5 343.4L1415.9 340.2L1421.6 330.6L1425.5 332.2L1430 339.2zM1420.1 155.3L1422 153L1424.3 150.5L1429 155.3L1425.6 159.7zM1297.8 129L1308.3 123.5L1312.2 131.7L1305.2 134.2zM1550.2 40.1L1545.4 42.6L1544.9 36.5L1552.5 34.1zM1249 105L1255.3 107.8L1244.1 114.3L1241.2 107.2zM1432 54.2L1433.1 61.8L1425.5 67.1L1419.9 57.6L1424.7 51.6zM1325 376.1L1329.6 369.3L1335.2 370.6L1338.2 380.2L1325.3 381.2zM1254.3 123.4L1251.5 122.2L1248.4 113.3L1258.1 111.3L1258.3 116.3zM1372.6 365.4L1367.2 360.8L1372.8 360zM1300.8 224.5L1302.4 229.8L1299.2 230.8L1295.6 225.7z"/>
<path fill="#a01432" fill-opacity="0.42" d="M1279 228.2L1276.1 232.1L1272.2 229.7L1276.5 225zM1444.7 365.2L1439.7 367.9L1437.4 357.8zM1582.1 201.7L1586.7 209.5L1577 206.4zM1546.4 142.1L1551.1 146.5L1548.1 151.7L1543.3 148.9zM1382.3 125.5L1384.9 115.8L1389.3 122.3zM1628.7 243.4L1621.1 236.6L1625.6 230.8L1633.6 235.7L1634 239.6zM1636 42.2L1644.8 39.5L1646.7 48zM1334 143.5L1338.9 146.1L1334.1 147.1zM1554.1 51.4L1552.4 56.7L1547.6 56.9L1546.5 52.8zM1336.5 76.2L1343.1 73.2L1342.5 79.8zM1341.5 249.8L1344 253.2L1341.8 258.5L1340.3 254.8zM1447.5 349.5L1445.3 340.9L1452.2 338.1L1455.9 346.2zM1562.9 374.1L1558.9 376.6L1557.5 368.2L1562.6 369.9zM1375.6 33.6L1376.4 42.9L1368.5 38.8L1369.2 33.8zM1443 349.8L1448.8 355.3L1441.1 363.5L1437.3 353zM1491.5 286.2L1494.7 282.9L1499.8 286.8L1494.9 287.8zM1250 155.4L1243.8 152.5L1245.1 144.6L1250.4 147.7zM1481.1 7.9L1479.9 13.8L1472.6 13.1L1473.6 6.2L1478.1 .7zM1287.8 330.5L1293.2 330L1291.6 336.6L1284.1 335.8zM1638.6 196.2L1642.9 205.5L1631.6 204zM1595.6 248.3L1597.9 245.4L1601.4 245.8L1602.6 252.5L1596.3 252.2zM1354.6 262.6L1350.2 265.3L1348.4 259.8L1353.2 259.1zM1433.3 363.5L1427.4 364.7L1420.8 359.1L1432.9 353.2zM1338.4 7.4L1337.6 10.3L1335.2 11.1L1333.6 9.9L1333.1 6zM1479 205.5L1478.1 211.1L1474.7 215.5L1471.3 206.2zM1236.1 250.9L1237.7 257.2L1231.1 258.9L1229.7 250.6zM1585 36.1L1582.7 31.6L1585.4 29.4L1588.3 34.1zM1600.1 291.1L1605.7 285.2L1608.3 295.2L1604.5 296.5zM1634.1 272L1634.2 267.2L1637.6 266.2L1637.8 270.8zM1619.8 126.8L1627.9 126.1L1623.3 135zM1507.6 190.2L1502.9 198.1L1494.8 188.6zM1334.3 288.6L1340.7 294L1330.6 297.5zM1304.7 247.4L1298.4 245.5L1303.5 243zM1644 74.2L1642.2 72.4L1644.4 68.6L1646.6 74.2zM1585.9 84.3L1584 93.8L1581.1 90.6L1582.2 85.7zM1336.3 359.8L1337.5 353.8L1341.2 352.8L1343 358.6zM1439.2 377.9L1437.4 374.6L1441.3 373.4zM1231.5 36.2L1218 34.6L1217.2 25.1L1227.8 29zM1394.4 379.3L1387.3 379.9L1389 371.9L1393.4 374.9zM1642.3 53.2L1641.2 46.6L1648.2 43.5L1648.5 51.8zM1263.7 330.3L1272 331L1270.4 335.4L1266.4 339.5L1262.1 335.8zM1401 52.2L1406.7 49.4L1410.3 54.6L1406.3 58.3zM1566.1 199.8L1563.3 197.9L1566.8 195.7L1567.9 196.8zM1273.5 181.8L1279.4 184.9L1275.2 191.3L1269.8 190.4zM1577.3 166.3L1573.3 162.5L1579 159.6L1580.6 164.3zM1619.3 267.3L1621.9 258.6L1629 255.6L1629.6 264.3L1621 270.9zM1346 138.9L1349.3 143.1L1344.8 144.2L1342.9 140.4zM1495.5 360.7L1499.8 355.5L1503.6 367zM1507.7 11.9L1509 2.5L1517.4 6.8zM1378 42.2L1373.7 48.3L1368.5 41.3L1376.1 36.2zM1540.6 38.2L1544.6 41L1539.1 44zM1284 97.9L1286.6 98.5L1286.3 104.1L1279.6 102.7zM1504.7 44.6L1507 49.4L1499.7 46.9L1496.7 40.1L1503.5 41.3zM1587.5 349.8L1585.7 345.8L1590.6 341.3L1595.2 349.2zM1484.7 320L1486.1 326.8L1478.3 325L1478.9 318.6zM1432.3 39.4L1436.3 36.5L1441.2 37.8L1437.8 41L1434.5 40.9zM1619 183.9L1615.6 184.3L1612.3 177L1617.9 178.7zM1293.9 358.5L1291.5 360.7L1291 353.3zM1503 316.2L1508 316.3L1510 321.5L1503.4 321.4zM1645.9 258.8L1641 258.9L1639.2 253.5L1643.1 255zM1448 223.5L1442.4 224.8L1440.3 218.6L1448.2 217.3zM1335.4 61L1330.9 57.7L1335.6 55.8L1339.1 59.5zM1496.7 165.2L1485.9 156.2L1497.9 154.8zM1336.2 353L1331.7 350.7L1335.2 348zM1504.9 372L1504.4 377.2L1498.9 378.1L1498.9 371.6zM1526 12.9L1520.6 18.5L1514.8 7.7L1521.4 6.2zM1497.8 312.2L1499.8 306L1505.7 311.9zM1509.6 16.3L1506.5 15.2L1505.8 5.6L1515.7 4.2L1516.1 13.5z"/>
<path fill="#1e96aa" fill-opacity="0.42" d="M1362.3 81L1366.4 82.7L1363.2 85L1359.9 82.8zM1594.6 375L1586.1 381.1L1584.7 370.6L1590.9 368.4zM1373.5 159.5L1375.2 164.7L1371.8 165.5zM1367 323.6L1368.9 316.7L1371.8 321.5zM1213.5 224.4L1218.5 224.8L1221.1 227.7L1216.1 229.2zM1484.5 84.2L1486.5 88.7L1483.2 91.3L1480.8 91L1478.2 85.8zM1329 279.7L1331.8 274.1L1335.9 275.3L1332.2 283.1zM1480.8 76.6L1482.5 80.4L1478.6 85L1473.8 79.3zM1494.1 357.5L1487.6 361.8L1484.8 353.8L1492 351.7zM1273.6 236.9L1272.7 242.7L1270.1 240.9L1269.6 234.7zM1478.5 111.9L1471.5 107.7L1477.2 103.1zM1519.9 285.2L1519.4 279L1523.3 283.1zM1295.3 87.6L1288.3 86.2L1287.5 82.9L1291.6 80.5L1293.3 82.6zM1396.9 148.7L1396.2 153.3L1391.1 153.5zM1300.9 244L1295.5 247.9L1294.3 245L1297.8 241.3zM1651.1 150.1L1644.7 152.7L1643.3 147.4zM1618.7 82.7L1615.6 84.5L1613.3 81L1615.5 77zM1458.1 166.8L1454.4 177.2L1449.1 167.5zM1628.9 40.5L1633.6 39.8L1630.6 48.9zM1643.9 10.7L1637.3 13.9L1635.9 10.4L1637.9 4.5L1644.2 6.4zM1475.7 141.5L1479.5 138.8L1479.5 146zM1230.9 287.6L1223.8 281.1L1231.2 273.7zM1236.7 49.2L1240.1 45.4L1242.4 49.2zM1533.4 86.3L1529.3 84.7L1534.2 82.4zM1447 253.8L1447.1 248.6L1455 245L1454 252zM1416.3 259.5L1418.7 253.2L1421.3 252.6L1427.5 257.4L1424.4 260.1zM1360.2 51.1L1356.6 46.4L1361.9 41.6L1367 47.2zM1589.8 8.9L1580.1 12.1L1581.8 5.2L1586 5zM1373.3 335.9L1371.6 341.1L1365.7 338.7L1367.6 334.6zM1489.1 132.6L1489.4 138.7L1484.1 139.7L1484.4 133.5L1486.7 128.6zM1466.5 151.9L1472.4 145.6L1475 155.8zM1598 150.9L1594.5 156.8L1589.5 150.7L1585.9 144.5L1595.7 141.3zM1428.5 341L1424.9 342.7L1424.9 339.3zM1420.8 165.3L1419.9 175.2L1409 169.7L1412.1 162zM1218.6 109.8L1224.6 113.6L1221.6 117.1L1217.9 114.8zM1235.1 94.8L1231.2 92.7L1230.8 88.9L1237.7 90.5zM1537.2 296.7L1539.4 300L1531.9 303.6L1527.6 301L1532.2 294.9zM1387.8 102.3L1380.7 106.1L1382.7 98.8zM1296.7 212.4L1288.1 208L1293.2 202.4L1298.6 206.1zM1240 301.4L1240.7 295L1247.8 302.2zM1628.3 217.6L1626.8 210.4L1633.3 208.3L1636.7 214.7z"/>
<path fill="#b41e8c" fill-opacity="0.42" d="M1637.4 342.9L1632.3 336.1L1637.1 335.1L1641.5 338.3zM1358.7 15.5L1363.6 8.3L1366.9 12.4zM1428 299.6L1421.9 296.2L1426.8 292.1L1432.8 295.8zM1299.6 69.4L1296.8 75.6L1288.3 68.8L1294 61.4zM1442.9 91.3L1448 100.1L1444.2 106.1L1439.1 98.5zM1528 205.5L1531.6 199.7L1538.1 203L1533.7 206.3zM1225.1 36.9L1228.2 48.9L1219.6 49L1221.1 44zM1650.1 203.1L1650.4 207.3L1646.3 205.5L1647.3 200zM1255.3 365.2L1252.3 360.5L1254.8 358.6L1259.4 364.1zM1614.8 349.7L1620 350.8L1619.4 355.2L1613.7 355.3zM1256.2 80.6L1267 80.4L1260.6 94.1zM1333 137.9L1331.6 142.1L1326.9 143.1L1327.2 140.6L1330.6 138.4zM1277 336.6L1269.1 334.7L1266.1 328.3L1272.3 326.7zM1499.5 204.1L1499.7 208L1496.2 206.7L1494.5 202.5zM1362.9 334.7L1371.3 333.4L1373.5 340.5L1366.3 338.4zM1487 147.4L1484.6 141L1486.4 133.7L1491.8 133.4L1493.7 141.6zM1486.2 157.4L1481.6 150L1492.9 146.1L1497.4 154.3zM1353.7 202.2L1346.8 201.2L1346.9 191.5L1356.8 195.8zM1527.8 192.3L1521.1 193.5L1520.6 185.3L1525.6 185.7L1532.1 186.5zM1292.4 206.8L1289.9 206.4L1290.3 203.1L1294.2 202.4L1295.5 204.2zM1488.7 42.3L1479.1 39.7L1486.5 32.2L1491.1 37.2zM1287.2 51.2L1295.5 53.9L1294.4 59.1L1284.2 55.7zM1307.8 374.2L1308.3 369.9L1312.5 369.7L1314.5 373.6L1309.8 375.6zM1296.3 211.5L1291 216.2L1286.4 212.9L1288.5 208.9zM1270.5 265.2L1263.4 258.7L1276.3 253.9L1277.6 261.9zM1599.8 28L1600.6 15.9L1610.5 21zM1254.8 104.8L1254.7 98.5L1263.8 101.6zM1572 267.7L1574.9 270.6L1574.4 273.1L1569.1 272.5L1570.4 267zM1431.9 73.4L1434.1 79.1L1431 86.5L1422.2 85.7L1423.5 75.6zM1349.2 51L1343.5 53.1L1343.1 51.1L1346 48.4zM1417.1 17.9L1421.2 14.3L1424.9 21L1419.9 22.6zM1328.4 169.4L1323.3 172.8L1316.2 168L1315.6 163L1322.2 162.1zM1233.8 179.3L1230.6 180.5L1228.1 176.8L1228.5 174.5L1233.8 175.2zM1309.5 90.8L1314.1 90.4L1312.6 95.9L1307.6 97.6L1308.4 91.8zM1524.1 99.4L1521.6 99.6L1520.7 95.6L1525.1 95zM1228.2 125.5L1223.4 135.6L1215.1 132.6L1220.7 126.1zM1229.7 65.2L1224.1 69.6L1217.5 59.9L1228 61.5zM1654.2 144.5L1654.4 150.9L1642 151.6L1645.5 144.4zM1467.6 181L1466.7 185.3L1461.2 186.4zM1475 93.1L1476.6 86.5L1482.6 85.8L1482.9 90.7zM1347.8 30.5L1353 38.3L1345.7 39.2zM1565 348.5L1565.5 353.5L1564.7 356.8L1560 354.8L1560.1 351.8zM1300.2 68.4L1302.7 64.5L1307.3 64.6L1307.1 68.2zM1511 117.2L1502.9 117.7L1496.8 114.8L1506.1 108.7zM1300.9 72.7L1298.7 79.3L1292.1 78.2zM1551.9 378.2L1544.1 380.6L1548.1 372.8zM1558.5 44.9L1558.8 51.8L1559.7 61L1549.2 60.6L1550.2 49zM1571.7 152.2L1571.1 156.3L1569.5 156.3L1568.1 155.4L1568 151.8zM1233 87.7L1231.5 89.8L1226.4 88.1L1228.1 84L1230.5 84.4zM1341.8 268.7L1335.4 261.6L1342.2 258.9L1345.8 262.2zM1547.6 208.4L1548.4 211.1L1545.7 211.6L1545.4 209zM1513.7 58.5L1515.8 53.2L1521.3 55.4L1518.1 58.7zM1508.2 157.1L1511.8 158.1L1508.9 163L1505.7 161.4zM1563 343.2L1567.1 351.4L1561.1 350.8L1555.1 347.4L1557.3 340.2zM1506.7 69.1L1503.4 70.6L1503 66.7L1504.8 65L1509.4 65.3zM1479.2 140.7L1479 147.8L1471 147.2L1473.6 140.5z"/>
<path fill="#8228aa" fill-opacity="0.42" d="M1416.4 30.1L1414.9 23.1L1425.3 22.5L1424 26.7L1419.8 30.3zM1331.9 118.2L1326.6 117L1326 109.3L1332.5 108zM1454 166.2L1452.3 158.4L1460 156.8zM1404.8 284.4L1411.1 284.2L1410.2 289.8zM1489.9 282.3L1492.8 281.6L1496.4 285.3L1491.9 285.5zM1356.5 191.4L1348.3 188.8L1352.1 183.3L1358.5 179.5L1363.8 189.9zM1412.9 131.1L1418.3 127.3L1422.6 132.5L1415.1 135.4zM1540.2 235.3L1543.6 233.3L1548 240.4L1543.2 242.6zM1393 32L1397.8 26.7L1399.8 30.1L1396.3 33.6zM1603.2 129.4L1593.5 126.5L1598.6 120.7L1604.6 125.1zM1249 280.5L1248.3 285.2L1243 287L1242.2 283.4L1242.3 280.2zM1312.7 132.6L1308.2 125L1313.8 121.6L1316.6 127.4zM1366 332.6L1369.5 336.1L1366.3 338.3L1361.8 335.3zM1422.8 65.5L1425.2 58.8L1431.7 57.6L1431.4 69.1L1423 70.4zM1375.3 117.3L1372.9 123.2L1369.7 119.2L1371.7 113.8zM1402.3 271.6L1396.5 278.9L1393 272.8L1402.8 265.9zM1216.2 123.3L1224.6 127.9L1218.7 131.5zM1438 314.8L1444.1 316.3L1441.1 326L1435.8 320.3L1433.8 314zM1478.6 205.2L1471 200.8L1477.9 199zM1226.2 201.9L1223.6 203.9L1220.5 200.9L1223.1 198.3zM1610.3 213.1L1606.2 209.2L1609.5 206.3L1611.1 210.5zM1615.9 285.9L1624.7 283.3L1627.1 289.7zM1645 14.7L1654.1 20.1L1649.3 26.3L1642.6 22.7zM1460.5 192.6L1465.6 192.7L1467.2 196L1463.3 198.3zM1384.7 305L1379.9 309.6L1375.3 304.4L1379.5 301.1zM1486.8 314.6L1483 320.9L1477.6 321.1L1476.5 314.4zM1259 51.9L1262.6 50L1265.4 53.2L1261.8 56.8zM1524.6 185.7L1526.5 190.1L1522.1 194.3L1519.6 188.1zM1238.5 290.8L1234.4 292.2L1234.7 287.3L1236.9 285.9zM1610.8 274.4L1616.8 270.2L1618.9 274L1614.4 281.3zM1434.8 284.4L1435 277.9L1439.4 278.4L1441.8 282.9L1438.5 286.3zM1321.3 366L1320.6 350.3L1329.7 356zM1454.8 223.1L1459.6 222.9L1464.3 230.2L1455.5 231.5zM1348.2 324.1L1348.1 320.5L1353.7 323.6L1352.1 326.2zM1330.7 204.6L1333 211.4L1324.6 210.8L1323.5 204.9zM1421.4 267.4L1430.8 264.4L1424.5 272.9zM1542.4 276.1L1536.4 273L1541.1 264.8L1545.2 268.8L1546.3 273.4zM1376.2 64.5L1371.1 63.4L1373.1 54L1376 49.7L1379.2 57.9zM1243.3 329.9L1240.9 335.3L1238.7 338.8L1234.3 332.3L1238.5 327.7zM1517.2 221.8L1512.6 226.7L1507.6 223L1516.3 217.8zM1254.1 67L1260.5 71.7L1257.5 80.7L1251.6 73zM1544.5 105.9L1546.8 99.8L1551.3 107zM1341.6 134.1L1349.3 134.7L1346 145L1341.7 142.9L1336.6 140.3zM1291.4 371.1L1292.8 364.4L1296.1 366.6L1296 370.3zM1476.9 52.4L1480.2 53.8L1478.8 58.4L1470.9 54.7zM1533.2 85.9L1535.9 71.6L1543.7 76.4L1546.2 81.7L1543 88.5zM1400.3 337.5L1389.4 337.2L1392.9 327L1398.9 330.1zM1464.4 207.6L1456.2 208.4L1455.3 204.2L1460.9 198.7L1466.1 199.4zM1224 275.2L1228.3 267.8L1232.9 277.7zM1623.6 114.9L1624 118.4L1619.6 117.4zM1378.8 261.4L1383.1 269.9L1376.5 271.8L1371.8 265.4zM1420.9 325.9L1418.2 316.6L1425.9 318zM1344.8 376.7L1351.4 373.3L1356.9 377.1L1352.3 382.9zM1637.3 188.7L1643.7 189.7L1642.6 195.7L1635 193.3zM1407.4 66.8L1401.3 60.7L1409.9 62.9zM1246.3 127.6L1249.6 128.3L1249.9 132.8L1246.8 133.5zM1375.7 85.4L1377.6 82.6L1381.6 83L1382.3 84.8L1378.3 86.8zM1626.8 8.6L1628.7 12L1625.6 16.8L1623.1 11.9zM1365.8 312L1362 313.4L1362.4 309.7L1366 307.8zM1497.8 356.6L1502.4 358.5L1503.1 363.8L1499.2 362.3zM1494.1 282.7L1492.3 288L1488.8 279.7L1493.7 276.5zM1460.6 234.3L1450.3 239.7L1444.4 232.3zM1326.8 14.8L1329.5 13.4L1331.7 16.5L1328.1 18.5zM1448.1 334.6L1441 339L1438.7 333.6L1441.4 331.4L1445.2 331.1zM1424.7 201.9L1418 209.9L1416.1 200L1413.6 194.5L1425.7 199.4zM1449.3 162.2L1444.1 153.6L1448.9 150L1455.7 149.3L1452.9 155.6z"/>
<path fill="#46288c" fill-opacity="0.42" d="M1236.1 47.3L1235.8 42.1L1241.7 42.8zM1318.9 23.6L1322.3 19.7L1329.2 18.5L1327.5 26zM1573.9 130.7L1576.7 138.8L1571.5 142.4L1565.1 136.8zM1338.5 73.6L1348.3 73.8L1342.9 80.8zM1391.7 51L1390.6 58.2L1385.8 58.3L1386.3 54.1zM1223.1 216.4L1218.1 214.2L1219.8 211.1L1223.5 210.5zM1520.8 209.2L1520.7 199.3L1525.8 203.8zM1257 368.2L1260.5 358.8L1268 364.8zM1263 112.2L1268.4 118.9L1258.7 118zM1242.5 51.6L1238.9 49.6L1238.6 44.9L1242.5 46.3zM1259.4 213.1L1256.9 207L1266.2 211.7zM1322.7 89.5L1334 84.1L1333 92.2zM1432.1 194.5L1434 199.6L1428.9 201.9L1424.2 197.5zM1510.5 185.4L1513.6 174.9L1524 185.5L1514.9 189.3zM1241.3 298.2L1251.8 298.7L1248.6 310.4L1244.5 308.7L1237.2 303.7zM1256.9 110.7L1257.4 115.2L1253.2 113.7L1251.9 109.8zM1275 37.3L1270.7 47.3L1264 42.6L1267.7 36.7zM1271.4 59.2L1274.8 60.6L1272.6 64.4L1268 64.1zM1351.8 17.6L1345.8 17.2L1352.1 9.9zM1623.6 170.8L1624.2 174.6L1622.3 174.9L1620 170.6zM1263.8 155.9L1259.3 166.3L1254.5 155.3L1260.3 149.2zM1545.1 221.3L1541.4 227.3L1531.3 220.8L1537.2 212.4zM1372.2 169.8L1370.1 174.8L1363.8 175.4L1363.3 168.9L1370.9 164.4zM1392 375.9L1383.9 374.7L1384.7 363.7L1390.5 365.4L1395.2 367.3zM1429.9 172.4L1434.4 178.2L1428 181L1423.7 175zM1251.3 112.3L1251.1 115.8L1246.4 120.8L1243.3 117L1246 114.3zM1276.2 190.9L1267.5 186.2L1276.2 179.5L1280.2 183.4zM1409.7 88.5L1419.4 94L1406.3 96.3zM1275.9 185.8L1279.7 181.7L1285.5 183L1284.2 184.8L1277.5 187.5zM1227.7 132.1L1232.6 132.4L1234.3 140.4L1229.9 140.9zM1429.9 373.2L1420.9 371.8L1419.9 365.2L1424.9 365.7zM1494.7 316.2L1492.2 313.9L1494.7 310.9L1499 312.7L1496.1 315.5zM1220.7 267L1221.4 274.3L1216.7 268.1zM1328.2 345L1323.8 349.9L1316 351.8L1317.5 339.9zM1471.3 181L1466 176.2L1468.1 172.2L1473.2 174.2zM1289.5 146.9L1295.6 152.9L1290.5 157.8zM1601.6 315.7L1600.2 324L1595.4 327.3L1593.4 312.5zM1570.3 251.7L1571.5 259.8L1563.4 261.6L1564.5 255.1zM1448.5 311.6L1448.7 306.9L1454.2 308.2L1453.1 310.9zM1629.9 315.9L1624 317.6L1623.8 311.9L1629.8 310.8zM1618.9 285.1L1624.7 293.1L1623.6 296.7L1615.6 293.7L1614.3 285.8zM1367.7 156.5L1367.2 165.9L1356.9 165.3zM1454.4 315.7L1450.5 315.9L1450.6 312.3L1451.6 310.3L1454.6 312.3zM1289.6 259.3L1290.6 256.1L1294.5 259L1292.2 260.4zM1623.7 273.4L1630.8 277.1L1630.4 282.2L1620.6 279.8zM1251 340.6L1252.2 345.9L1249.5 344.7L1246.1 343.7L1248.3 340.8zM1239.1 68.4L1240 61L1252.5 63.7L1244.1 69.8zM1247.9 355.1L1248.5 347.9L1258.7 346.2L1253.7 355zM1251.8 183.8L1260.7 191.5L1250.2 195.1L1248.9 190.3zM1540.5 202.6L1531 203.9L1532.3 197.2L1537 194.3zM1229.8 224.6L1236.3 214.1L1239.6 221zM1305.7 326.7L1300.5 337.8L1296.3 329.9L1299.6 325.7zM1635.6 38.8L1639.6 40.6L1638.5 45.3L1635.5 44zM1239.3 114.3L1236.5 119.6L1234.2 113.7zM1498 167L1501.9 164.6L1504.3 164.3L1502.2 169.7zM1538.8 353.5L1534.1 346.1L1545.2 349.1zM1415.2 56.8L1419.4 61.5L1420.4 67.8L1415.4 66.2L1410.3 62.1zM1572.3 47.4L1578.5 54.8L1565.3 59.1z"/>
<path fill="#2878b4" fill-opacity="0.42" d="M1491.8 187.8L1483 190.8L1483.1 183L1487.5 183zM1291.7 149.4L1292.7 158.9L1289 157.8L1285.1 149.1zM1458.6 5.7L1455 12.2L1454.8 6.4zM1626 232L1629 222.7L1635.8 238.4zM1263.1 121.4L1267.9 125.7L1263.1 132.6L1255.9 125.6zM1526 155.7L1529.6 158.4L1528.2 163.3L1525.7 160.7zM1439.4 130.8L1436.1 133.9L1435.9 128.5zM1626.2 334.7L1628.8 339.3L1625.5 342.6L1621.2 336.4zM1623.7 133.3L1617.5 131.1L1621.9 128.2zM1510.3 17.3L1507.8 19.7L1500.4 19.1L1502.1 12.9L1509.1 11.8zM1467.3 210.2L1470.6 215.5L1462.1 214.9zM1323.5 261.2L1330 263.4L1327.9 273.3zM1397.8 31.7L1401.5 42.1L1394.1 42.2zM1562.8 159.4L1552.9 158.1L1554.4 150L1559 152.1zM1495.6 173.5L1496.7 179.7L1491.3 183.2L1487.3 176.1L1491.5 172.5zM1508.5 211.6L1508.6 206.8L1513.6 210zM1504 250.6L1491.9 258.8L1490.5 247.6L1500.9 243.9zM1533.4 227.8L1528.4 224L1530.3 220.4L1535.1 223.2zM1565.9 243.4L1570.5 252.2L1559.8 251.7zM1488 101L1480.8 102.8L1483.9 96L1488.4 95.7zM1619.3 324.8L1611.9 320.4L1616.3 314zM1419.1 187.1L1412 192L1411.2 186L1414.3 179L1420.3 183.2zM1297.1 207.9L1293.5 196.5L1298.2 199.2zM1607.8 3.2L1609.8 5.5L1607.6 8.6L1605.5 6.4zM1536.3 138L1532.4 143.2L1531.3 137.8zM1517.5 329.1L1519.4 317.8L1524.8 319L1525.2 321.5L1524.5 328.6zM1276 169.1L1282.6 174.7L1272.8 179.7zM1534.6 346.4L1529.4 352.5L1524.9 346L1531.7 342.4zM1485.4 186.2L1481.5 180.2L1489.8 180.1zM1484.7 32.3L1478.9 25.6L1486.4 24.6L1492 28.3L1490 30.5zM1427.1 92.6L1419.9 90.7L1416.3 81.4L1424.5 80.7L1427.9 85.6zM1234.3 115.3L1243.6 109.9L1241.2 120.9zM1436.4 129.2L1434.1 132.7L1429.2 129L1431 123.8zM1594.2 22.6L1599.9 25L1597 30.6L1594.2 26.6zM1412 46L1409.4 42.3L1406.3 39.2L1410 32.8L1415.3 38.7zM1475.6 286.1L1466.1 286.5L1468.5 275.2L1476.7 273.1L1479.4 282.2zM1534.7 91.2L1537.7 97.1L1533.5 97.7L1532.1 95.3zM1234.3 181.6L1235.2 173.7L1242.5 179.3zM1229.6 352.4L1232.8 349.9L1231.9 354.9zM1396.3 54.4L1392.6 56.5L1389.1 49.7L1394.2 45.9zM1224.1 88.8L1213.6 87.6L1217.7 80.7zM1522.8 226.5L1526.3 218.6L1531.2 222.5L1531.5 228zM1375.6 302.8L1383.3 309.2L1380.1 312.9L1372.7 314.1zM1253.2 327.7L1247.7 333.2L1245.7 330.2L1250.8 323.9zM1323.7 329.6L1321.4 337.3L1313.2 336.4L1316.5 329.4zM1441.7 150.2L1448.1 153.7L1446.1 158.5L1441.4 161.1zM1647.4 193.3L1639 193.1L1642.9 187.9zM1359.8 32.2L1356.5 29.5L1357.5 24.8L1360.4 27.2zM1484.7 51.8L1488.7 59.4L1486.3 61.4L1480.7 65L1477.8 56.7zM1405.4 34.5L1407.5 32L1410.1 32.1L1413.5 36.5L1406.7 39.2zM1323.9 149L1328 147.3L1328.5 153.2zM1390.8 367.9L1391.4 362.2L1400.6 365.3L1398.6 370.2zM1466.1 188L1472.7 180.4L1476 187.2zM1618.4 71.2L1617.3 74.6L1612.8 71L1615.9 67.6zM1264.4 195.1L1260.4 189.8L1264.4 186.9L1269.7 192.8z"/>
<path fill="#aa325a" fill-opacity="0.42" d="M1631.8 365.4L1639.5 363.5L1640.3 373.2L1637.8 376.9L1629 370.3zM1425.5 358.9L1424.9 363.9L1422.7 362.5L1421 359zM1509.6 168.7L1506.9 157.8L1514.4 161.9L1515.9 168zM1400.5 65.6L1405.9 65.3L1401.2 71.6zM1328.6 336.5L1329.7 332.3L1333.3 335.9L1332 338.5zM1451.7 276.3L1450.2 282.1L1439.5 280.3L1446.8 272.1zM1387.8 223.3L1389.3 229.8L1381.3 230.8L1379.6 223.2L1384.7 219.3zM1391.3 132.7L1399.1 135.7L1395.2 138.2L1391.5 138.5zM1248.6 26.2L1244.2 30.5L1239.1 30.6L1241.7 24.7L1248.8 20.3zM1255.2 264.7L1253 271.1L1247.6 264.6L1249.1 261.1zM1272.4 305.1L1277.6 302.4L1278.7 307.3L1275.7 311.4zM1224.5 304.1L1227.8 307.6L1225.7 311.4L1221.7 309.7zM1426.5 224.1L1431.2 219.3L1434.3 228.6L1432.2 230.1L1425.9 228zM1547.2 129.5L1543.4 134L1541.3 129.8L1542.8 125.1zM1255 76L1247.7 80.9L1241.3 76.2L1252.4 70.1zM1593.9 305.1L1600.9 310L1594.5 316.9L1589.5 311.7zM1653 351.9L1645.6 349.5L1642.8 343.7L1650.4 340.2L1652.3 346.5zM1518.4 189.6L1520.9 193L1515.5 198.5L1510.9 190.8zM1608.8 212.6L1619.7 213.2L1619.9 220.1L1610.6 220.4zM1336.9 108.5L1331.7 113.1L1328.7 104.3L1334 98.6zM1344 365.6L1347.2 371.1L1345.2 379.5L1341.1 373.6zM1353.9 241.8L1348.5 242.8L1350.2 235.7zM1346.1 9L1347.5 3.1L1353.7 13.4zM1480.2 174L1482.9 175.3L1483.1 179.2L1476.1 179.4L1477.5 175.1zM1241.7 13.9L1238.2 18.3L1236.4 17.8L1234.8 13.4L1239 13.7zM1367.6 173L1369.5 183.3L1362.2 184.4L1354.1 179.1zM1249.5 331.1L1242 333.7L1243.6 321.1L1251.5 320.6L1256.5 324.4zM1537.1 85L1539 89.8L1533.6 87.6zM1244.9 32.7L1252.7 35.6L1249.9 40.7zM1502.3 304.8L1495.6 305.9L1496.1 300.3L1500.4 299.1zM1593.3 247L1594.5 242.6L1600.7 245.2L1601.6 248.5zM1311.7 125.1L1308.9 124.1L1308.4 122.6L1312.1 120.2L1313.6 123.1zM1565.4 113.7L1568.9 112.2L1569.3 116.7L1565.4 116.2zM1321.8 174.8L1310 173.9L1309.9 166.9L1319.2 163.3zM1359.2 97.2L1356.4 94.6L1360.5 89.3L1362.2 94.9zM1615.2 175.9L1623.6 167.6L1624.2 180.6zM1281.5 39.6L1283.1 30.6L1290.3 31.7L1290.8 41.2L1282.6 42.2zM1620.9 38.2L1614.6 42.2L1612.7 35.2zM1418.2 248.4L1411.9 240.7L1416.2 235.7L1424.1 232.3L1425.4 241.4zM1278.2 23.2L1277.7 26.3L1274.2 29.5L1270.3 27.9L1274.7 22.5zM1498.7 133.6L1502.1 130.1L1503.2 133L1504 135.2L1500.1 137.7zM1528.3 214.1L1525.3 215.4L1524.9 211.1L1529.5 209.2L1531.1 212zM1375.6 85.2L1379.8 90.1L1373.3 94.3L1370.7 90.1L1371.3 85.6zM1624.7 101.8L1624.4 94.5L1630.1 97.1zM1555.1 156.9L1558.6 162.8L1552.1 162.9L1550.7 158.5zM1468.8 100.9L1480 97.2L1483.1 105.5L1473.2 111.1zM1487.8 257.1L1482.9 255.2L1486.5 252.9L1489.6 253.5zM1263.8 230L1263.3 228.4L1264.2 225L1268.6 226.2L1267.7 230.8z"/>
<path fill="#64148c" fill-opacity="0.42" d="M1604.3 128.5L1607.3 123.8L1613.8 128L1608.4 133.2zM1342.8 371.7L1346.3 371.2L1348.5 374.5L1346.2 375.9L1343.4 376zM1486.8 16.8L1483.9 18.3L1482.5 15L1486.5 13.8zM1481.9 54.6L1476.1 45.3L1484.1 44.7L1488.9 53.5zM1276.5 188.6L1274.4 194.3L1269.2 191L1272.4 186.8zM1510.5 220.8L1508.6 224.6L1506 219.2zM1568 187.5L1564.4 196.5L1556.2 190.1zM1491.2 254.6L1494 262L1483 265.2L1486.3 255.2zM1276 93.6L1268.6 89.5L1272.2 85.3L1279 85.9zM1394.8 98.6L1399.9 100.1L1402 104.3L1394.1 107.1zM1260 169.4L1257.3 164.3L1262.9 157.6L1268.8 162.3zM1633.4 339.9L1638.3 341.8L1635.3 345.8L1631.4 342.9zM1648 54.1L1645.8 59.4L1640.4 57.8zM1623.2 359.5L1613.9 361.3L1617.2 354zM1258.3 165.1L1250.9 170.2L1242.9 165.9L1248.4 162.7zM1344.4 70L1341.8 68.6L1343.7 64.4L1349.6 65zM1301.4 186.5L1305.8 184L1306.9 186.7L1303.5 189.6zM1228.8 119.9L1238.9 115.1L1241.1 118.7L1236 130.6L1232 127.5zM1436.3 346.3L1429.2 349.4L1427.7 346.3L1428.2 341.8L1438.2 341.9zM1557.9 207.6L1551.6 198.2L1561.5 195.8L1563.1 201.3zM1589.9 364.5L1594.3 368L1591.6 370.8L1589.1 369.9zM1301.4 133.8L1307.7 137.7L1302.7 146.3L1294.2 138.9zM1290.6 339.3L1295.1 343.2L1289.4 349.2zM1304 325.9L1315.8 322.6L1310.7 332zM1239 129.7L1244.8 132L1245.9 138.3L1241.5 139.6L1234.8 136.1zM1470.3 316.6L1467.8 309L1476.7 312.4zM1299 85.5L1299.2 92.7L1293.9 94L1289.1 85.6zM1328.3 125.3L1332.8 126.4L1331.3 132.1L1326.5 130L1326.7 127.1zM1558.7 13.3L1551 11.5L1547.9 5.5L1550.8 2.9L1558.8 5.7zM1584 290.7L1579.1 286.9L1589.1 285.8L1591.3 288.9L1587 296.8zM1581.7 258.7L1582.3 262.2L1578.6 260.6zM1226.8 79.9L1229 71.6L1234.7 72.8L1233 80.8zM1419.3 22.9L1420.1 28.5L1416.3 26.8L1415.8 23.5zM1467.2 209.4L1474.6 210.6L1473 218.6zM1627.3 33L1621.8 30.3L1624 26.4L1630.2 26.3zM1570.1 321.2L1575.2 321.5L1575.1 327.4L1571 325.1zM1374.5 32.7L1364.7 37.7L1358.6 34.9L1365.6 26.2zM1288.8 92.6L1284.7 93.9L1280.9 88.7L1284.3 86.6zM1242.8 310.9L1242.6 319.4L1233.1 315.6L1235 310.2zM1238.5 11.8L1232.4 6.2L1237 .3L1241 1.8L1241.1 8.8zM1468.1 166.6L1472.4 162.5L1479.6 164.1L1472.4 170.3zM1216.8 61.2L1211.8 56.6L1219.4 53.7L1219.2 57.8zM1226.3 162.8L1226.9 157.6L1231 160.3L1230.6 164.2zM1580.6 118L1583.7 126.9L1575.8 120.4zM1346.2 361.2L1335 360.2L1341.4 353.7zM1525.6 12.5L1528.4 14.7L1520.8 15.3L1521.8 13.1zM1491.2 76L1491.2 83.5L1486.7 90.5L1484.8 79.8zM1506.3 167.8L1503.9 162L1509.2 162.8L1511.2 165.8L1508.5 170zM1473.3 10.2L1467.8 14.5L1464.4 9.6L1464.5 5.1L1472.9 2.2zM1279.5 320.3L1283.7 319.4L1284.6 324.2L1277.5 325.2zM1495 39.8L1492.9 34.2L1494.4 31.5L1498.5 33.9zM1308.4 370.4L1297.2 370L1304.7 360L1309.2 362.4zM1299.9 239L1305.1 244.3L1296.4 245zM1233.9 251.5L1237.9 255.9L1236.9 260.1L1232.7 255zM1291 275.1L1294.2 277.9L1289.3 278.4L1287.8 276.4zM1347.6 86.2L1349.5 91.6L1349.5 93L1345.2 94.6L1343.6 89.7zM1568.1 117.3L1566.7 124.9L1558.2 119.3zM1539.7 293.2L1541.9 294.8L1541.1 298L1537.8 298.1L1534.7 294.7zM1218.9 134.3L1216.5 138.3L1210.9 134.4L1217.4 132.3zM1252.4 157L1256.6 157.8L1255.9 162.3zM1528.3 281.7L1529.3 276.4L1532.4 278.5zM1392.5 261.7L1397 271.4L1392 278.6L1386.7 267zM1589.8 329.6L1586.2 328.8L1585.8 323.7L1591.4 323.4zM1294.7 263.7L1290 269.1L1288.7 260.6L1293.8 258.7zM1429.6 26.4L1423 37.7L1419.5 29.6zM1280.1 158L1280.6 160L1278.5 162L1275.2 160.7L1276.6 157.6zM1507.9 75.9L1505 84.2L1501.2 75.5zM1237.3 274.2L1243.7 271.1L1244.3 277.2zM1494.5 136.9L1501.1 134.5L1501.2 137.1L1498.3 143.2L1494.3 141zM1240.1 160.4L1246.4 165.5L1242.2 169.3L1238.5 165.7z"/>
<path fill="#3246be" fill-opacity="0.42" d="M1230 15.4L1234.4 17L1229.4 23.3L1225.4 20.5L1224 15.1zM1389.1 240.4L1390.1 234L1394.2 226.7L1397.7 234.7L1395.1 242.7zM1414.5 233L1426.1 243.5L1410.6 245.9zM1481.4 372.3L1486.2 369.8L1488 372.3L1487.8 375L1485.2 379.5zM1630.9 57.7L1634.4 72.9L1626.1 74.3L1625 59.3zM1462.3 248.9L1464 240.9L1468.2 240.4L1471.9 245.3L1468.6 252.2zM1382.6 317.1L1378.4 316.4L1380 313.2L1384 313.4zM1394.2 43.5L1387.9 38.4L1388.3 32L1393.3 33.6L1397.6 39.4zM1563.6 143.9L1564.3 147.1L1560.7 147.4L1559.1 142.4zM1250.9 102.9L1248.4 106.2L1246.7 100.9zM1394.1 357.1L1400.4 359.5L1394.8 363.5zM1634.1 298.8L1639.9 299.5L1642.4 305.1L1635.9 303.4zM1397.2 310.7L1398.8 307.4L1401.9 314.6L1396.2 315.6zM1512.1 103.8L1521.1 95.1L1527 104.7L1519.9 113.2zM1339.1 233.2L1338.7 230.1L1341.6 229.2L1342.6 232.8zM1576.5 287.5L1573.5 284.2L1577.5 282.3L1579.5 284.8zM1315.1 162L1312.5 153L1321.5 148.4L1325.1 155.7L1321.9 159.5zM1601.8 184.6L1607.9 184L1606.8 188.6L1604.9 189.8zM1371.5 148.6L1377.2 147.6L1376.9 151.3L1373.5 151.2zM1281.8 197.6L1289.8 204.6L1284.6 206zM1556.3 217.8L1560 225.5L1546.5 228.7zM1298 201.2L1298.6 203.9L1294.2 204.1L1293.6 199.7zM1315.2 283.1L1318.3 281L1321.2 283.4L1318.7 285.8zM1595.5 127L1597.8 133.4L1593.5 132.5zM1569.8 157.6L1572.2 151.9L1577.6 154.7L1576.4 158.6zM1303.5 32.2L1304.8 25.7L1307.8 22.8L1310.5 25.4L1310.5 31.3zM1605.9 30.8L1606.6 36.4L1594.9 34L1595.6 25L1604 25zM1330 297.5L1323.2 304.9L1318.3 296.9L1322.6 290.2L1326.3 294.4zM1282.2 208L1275 208.7L1279.1 203.6zM1588.5 345.6L1594.9 342.4L1593.6 351.2zM1273.4 341.1L1268.5 345.7L1262.8 344.1L1267.7 336.2zM1654.2 151.8L1647.9 161.9L1642.2 153.1zM1490 366.1L1482.2 362.6L1487.5 356.1L1490.8 362zM1290.6 94.5L1285.5 94.8L1284.9 88.8L1290.1 88.6zM1561.3 356.3L1559.9 350.9L1565.7 354.9zM1490.9 47.3L1486.8 42.7L1491.9 37.1L1496.5 40.3zM1409.5 93.5L1405.5 95.4L1405 88.8zM1372.2 180.1L1367.6 171.5L1373.1 168.7L1375.6 172.7zM1413.1 301.9L1411 305L1408.4 300.7L1411.4 298.5L1414.2 300.1zM1501.3 282L1498.6 273.3L1509 277.3zM1624.5 356.1L1623.6 358L1620.9 358.6L1618.1 355.4L1620.5 354zM1482 121L1490.3 118.4L1496.1 123.2L1489.5 132.8zM1412.4 261.3L1403.8 262.9L1402.7 255zM1366.9 44.3L1366.6 38.8L1372.1 38.8L1373.2 43.2zM1308.1 59.4L1313.7 63.6L1311 70.1L1305.8 64.3zM1282.1 45.2L1286.9 55.2L1278.2 54.2L1276.3 48zM1260.7 65.6L1267.6 61.5L1270.8 70L1264.7 69.4zM1535.3 2.1L1537.9 4.4L1537.5 9.3L1535 8.4L1532.3 5.8zM1554.5 184.8L1550.6 184.5L1549.5 183.1L1551.7 181.1L1553.5 180.2zM1335.4 277.8L1337 280.5L1334.2 283.7L1328.9 282.9L1330.8 277.4zM1560 125.7L1554.7 126.8L1554.4 119.1L1559.7 119zM1359.1 126.3L1367.2 125.5L1365.9 137L1359.7 133.8zM1247.5 163.9L1251.2 159.8L1254.6 163.8zM1325.4 153.4L1319 147.5L1323.6 140.2L1326.3 146.4zM1514.7 76.2L1513.2 83L1507.7 81.3L1510.9 74.8zM1387.1 166.6L1390 165.3L1393.8 166.2L1389.2 170.4zM1245.9 134.6L1240.9 129.6L1248 123.1L1250.9 127.6zM1250.3 235.1L1255.7 237.6L1252.3 242.1zM1560.7 198L1563.9 201L1554.2 209.3L1551.5 205L1553.8 194.8zM1318.7 110.6L1327.2 111L1327.1 120.7L1321.3 118.6zM1639.8 299.6L1638.1 302.8L1632.9 304.4L1633.2 298.2L1638.5 297.2zM1234.7 62.6L1231.5 65L1228.5 63.5L1231.2 58.5zM1527.6 226.8L1522.4 221.3L1526.8 218.1L1530.6 224.9zM1390 6.2L1397.8 7L1396.5 16.2L1387.1 19.9zM1446 75L1453.7 79.9L1448.5 84.2L1442.1 81.9L1440.1 76.1z"/>
<path fill="#1e8c50" fill-opacity="0.42" d="M1341.3 327.1L1344.3 328.6L1341.8 334.6L1337.9 331.9zM1251.1 194.4L1258.4 187L1259.8 198.4zM1262.5 135.5L1253.4 134.9L1254.5 128.2L1260.8 129.3zM1564.1 225.5L1562.8 219.9L1569.4 220.2zM1250.1 221.8L1237.3 225.8L1241.5 212.9zM1642.8 212.4L1645.1 217.5L1641.2 218.8zM1341.6 46.3L1345.3 42.9L1346.9 48L1342.8 49.9zM1459.5 180.5L1458 173.5L1466.6 171.7L1467.2 183zM1331.5 179.8L1326.1 182.8L1327.2 177.2zM1353.2 122.6L1353.7 115.1L1361.7 112.7L1364.6 120.4L1358.6 123zM1446 246.4L1453.3 236.6L1456.8 240.4L1454.3 249.1zM1338.3 353.4L1334.8 357.8L1324.3 358.3L1330.2 348.2zM1503.7 354L1507.6 352.4L1511.3 360.1L1505.3 362.5L1501.6 360.7zM1401.3 133.7L1402.4 138L1395.8 138L1389.4 132.5L1394.6 129.6zM1262.7 171.5L1256.3 168.8L1258.5 162L1264.8 160zM1331.6 101.8L1336.2 108.7L1330.1 108.7L1328 103.2zM1372 83.4L1368.4 86.4L1367.4 81.3zM1222.4 57.3L1223.6 53L1229.9 56.5L1228.5 60.9zM1526.7 219L1523 224L1521.5 222.1L1521 217L1524.6 215.6zM1286.2 345.2L1285.2 341.8L1287.1 339.8L1289.3 340.8L1289.9 345.2zM1384.2 51.7L1387.8 51.3L1391.4 58.7L1382.8 60.2zM1574.1 232.5L1571.2 226.9L1579 222.3L1582.6 232.9zM1481.7 124.3L1489.1 129.7L1481.1 136.4L1475 129.5zM1609.9 7.2L1601.2 14.1L1600.3 1.9zM1242.6 287.7L1234.5 281.1L1245.9 277.8zM1281.8 106.6L1282.2 101.5L1288.9 105L1291 110.3L1284.8 109.7zM1277.8 106.4L1282.9 112.6L1276.8 114.5L1272.4 112.1zM1426.3 125.9L1421.5 131.9L1415.5 131.3L1421.9 124.6zM1595.3 4.1L1601.3 -.9L1606.6 6.2L1601.8 10.3L1593.7 8.8zM1624 315.1L1630 314.5L1630 324.3L1621.2 320.9zM1334.8 169.4L1332.8 163.2L1337.9 163.9zM1299.2 143.9L1294.6 146L1292.5 140.5L1294.2 132.4L1300 136.3zM1228 211.2L1229 206.7L1235.1 212L1232.7 216.5zM1368.1 32.3L1361.6 26.2L1366.5 25.3zM1608.3 116.1L1605 117.8L1600.4 112.5L1608.7 109.8zM1359.7 7.1L1352.2 6.1L1357.5 1.6zM1314.5 325.7L1312.7 321.7L1317.9 318.9L1317.7 324.6zM1625.1 346.2L1628.6 351.7L1622.9 354.3zM1486.4 217.1L1493.3 217.4L1489.3 223.4L1486.7 221.5zM1234.5 284.1L1228.3 283.1L1233.2 274.1L1237.5 278.2L1238.6 282.2zM1395.6 303.1L1387.3 303.3L1386.1 297L1395.2 297.8zM1357.8 56.2L1351.2 57.1L1351.6 50.9L1356.2 49.9L1360.2 53.5zM1434.3 153L1430 155.3L1428.8 151.2L1430.9 148.5zM1555 237.8L1546.6 243.9L1551 233.2zM1416.5 353L1418.4 351.7L1421.4 354L1420.7 359L1415.7 357.6z"/>
<path fill="#c83c78" fill-opacity="0.42" d="M1643.3 47.1L1646.8 46.3L1647 51.4L1643.8 51.6zM1446.2 332L1438.4 328.4L1438.1 322L1450.2 324.8zM1419.5 366.9L1418.7 361L1425.1 358.6L1428.2 362.7L1423.4 366zM1484.2 244.6L1492.6 251.5L1488.5 257.6L1484.6 259.2L1481.6 247.3zM1425.2 58.4L1420.4 56.1L1424.1 53.6zM1322.4 344L1326.6 347.7L1321.2 355.6L1318 349.3zM1255 288.7L1256.9 284.1L1258.5 283L1261.3 286.3L1258.7 290.1zM1444.2 302.7L1438.7 308.3L1434 305.7L1433.1 300zM1410.9 267.2L1407.5 273.9L1402.3 267.8L1408.1 262.6zM1264.5 194.8L1261.4 196.6L1258.1 195.1L1262.9 193.3zM1592.7 154.2L1596.1 149.2L1599.6 147.6L1599.1 154.4L1597.1 156.6zM1322.4 278L1323 284.1L1317.6 284zM1502.4 82L1504.9 86.9L1497.9 89.7L1494.5 80.8zM1576.5 82.1L1574.4 79.8L1578.6 76.6L1581.2 80.9L1579.4 83.4zM1610.4 154L1603.9 153L1607 147.5L1611.8 149.1L1615.6 153.5zM1424.1 178.5L1428.4 179.1L1429.4 182.1L1424.6 184.3zM1452.7 158.2L1458.6 162.9L1461.9 165.3L1451 168.5L1447 161.5zM1449.6 342.4L1446.1 354.2L1437.8 349.4L1444 340.1zM1506.5 111.1L1508.2 102.5L1517.2 102.2L1516 114.1zM1420.2 219L1417.7 225L1412.1 222.6L1415.3 219.1zM1346.9 177.6L1352.9 177.4L1353.6 183.9L1348.2 180.2zM1313.9 103.2L1315.6 95.7L1318.9 101.9zM1272.5 359.5L1274.2 363.5L1271 366.5L1268.4 361.5zM1538.1 181.1L1538.7 177.4L1545.9 177.1L1544.6 182.9L1541.1 185.1zM1498.8 316.3L1499.7 309.9L1504.2 313.3zM1453.1 25.8L1450.9 31.2L1445.7 29.1L1447.5 23.4zM1368.8 42.8L1376.1 41.9L1375.2 48.2L1371.7 48.2zM1439.1 264L1441.1 261.7L1445.5 262.6L1444.1 268L1440.9 267.3zM1605 236.3L1603.4 240.3L1597.4 237.1L1597.7 232.9zM1269.6 179L1263.4 181.6L1259.7 173.9L1265.2 172.1zM1513.6 70.6L1519.6 74.3L1510.9 74.8zM1451.7 368.3L1442.9 371.5L1442.1 362.1zM1454.3 59.2L1457.2 59.2L1459.4 61.5L1458.7 64.3L1453.1 62.4zM1479.2 258.6L1471.2 257.8L1465.9 253.7L1471 251.7L1478.1 253.7zM1414.1 311.6L1413.7 320L1410.7 317.9L1409.8 312zM1406.3 121.9L1415.5 126.4L1407.8 131.3L1403.9 129.8zM1494.9 271.2L1499.5 267.2L1502.9 271.9L1501.9 274.9zM1585 333.9L1578.4 331.9L1582.9 328.3zM1319.8 190.9L1321.7 194.5L1316.9 199L1313.9 192.7zM1567 323.9L1569.6 325.9L1570.3 328.6L1565.9 328.9zM1500.1 58.9L1502 56.8L1506.8 53.6L1510.3 57.8L1508.3 64.7zM1375.5 22L1373 25.9L1372.2 23.1zM1527.3 156.8L1524.1 150.6L1531.1 149.6L1532.2 156.9zM1276.5 99.1L1275.3 103.3L1272.1 101.1L1274 96.1zM1522.2 116.9L1521.1 113.7L1524.8 108.9L1526.4 112.6L1527.7 117.1zM1431.1 271.4L1424.3 276.5L1421.5 267.7L1427.9 264.2zM1530.7 222.3L1534.3 221.5L1535.5 227.3L1530.5 233L1528.4 227.7zM1471 68.9L1465.7 67.1L1470.5 65.7zM1447.9 95L1450.1 91.6L1456.6 97.9L1453.5 100.8zM1467.3 53.7L1467.5 61.8L1461.6 64L1455.8 61.3L1458.3 53.8zM1280.4 139.2L1276.6 132.9L1283.8 131.3L1286.1 138.8zM1432.8 264L1429.9 265.6L1427.9 268.5L1424.3 266.3L1427.5 262zM1240.7 259.2L1246.5 263L1242.6 271.6L1234.6 271L1235 258.6zM1500.7 103.5L1504.9 105.9L1501.6 107.4zM1326.9 318.2L1333.3 318.5L1337.1 323.6L1331.7 327zM1486 13L1479.3 14.8L1474.1 11.4L1484 7.5zM1578 263.2L1572.1 264.6L1572.4 258.6L1577.2 259.2zM1566.2 156.8L1566.2 161.2L1562.6 162.3L1562.9 157.4zM1393.1 157.1L1393 148.9L1399.2 150.6L1400.3 155.6L1395.6 159.2zM1226.2 163.1L1232.2 164.5L1226 168.4zM1628.8 87.5L1624.8 89.3L1622.4 84.2z"/>
<path fill="#c82846" fill-opacity="0.72" d="M1616.8 231.8L1618 229.2L1621.4 231.9zM1415.2 138.2L1411.4 140.2L1406.9 139.7L1406.9 132.3zM1551.6 363.5L1547.4 358.1L1553.1 357.9zM1649 270.3L1648 276L1642.6 271.3zM1613 229.7L1610 222.6L1612.7 222.8L1616.5 222.7L1616.2 227zM1280.7 280.2L1283.5 274.8L1285.7 277.1L1286 281zM1500.4 72.6L1494.3 68.1L1498.7 63L1504.8 63.6L1505.4 67.4zM1455.2 163.5L1454.5 156.5L1460.4 159.9zM1542 355.4L1538 358.3L1538.4 354.7zM1649.5 149.7L1644.8 145.3L1647 141.3L1650.5 143.2zM1334.4 255.3L1340.6 248.5L1340.2 259.3zM1396.5 70L1391.7 60.5L1397.8 63.9zM1434.8 316.1L1440.5 319.2L1429.9 322.4zM1551 40.2L1548.5 38.7L1548.7 35.3L1552.9 37.2zM1234.8 251.5L1237.6 246L1241.3 244.6L1240.1 249.9zM1446.3 338.6L1442.6 344.9L1436.4 340.3zM1331.2 12.5L1343.3 11.8L1338.2 21.1zM1326 90.6L1322.2 97.2L1316.1 90.6zM1401.4 43.1L1402.9 40.4L1407.8 38.2L1408 45.1zM1627 10L1624.2 13.2L1622.5 7.9zM1326.9 214L1322.5 218.2L1316.6 211.3L1320.1 205.1L1328 206.2zM1506.2 125.8L1499.8 126.7L1502.6 121.7zM1340.3 306.7L1342.2 300.2L1345.2 305.9zM1352.5 39.2L1355.6 35.4L1359 41.7zM1491.1 164.2L1488 165.8L1487.2 160.2zM1586.3 319.2L1580.8 315.3L1583.6 309.8L1587.3 312.4zM1499.1 348.6L1501.5 340.8L1501.9 337.6L1509.3 336.8L1511.6 345.7zM1468.9 28.5L1465.3 29L1464.2 27.3L1464.9 24.7L1469.3 26.1zM1410.9 282.8L1407 282.4L1410.1 279.5zM1601.7 112.5L1610.7 112.7L1608 120.9zM1237.9 314.5L1238.3 321.9L1231.9 317.7zM1513 33.1L1512.1 38.2L1507 38.5zM1240.3 233.7L1241.5 238.7L1236.2 243.1L1232.6 235.8z"/>
<path fill="#28c864" fill-opacity="0.72" d="M1436.6 267.2L1441 265.6L1437.1 274.6L1431.3 275.8L1432.5 271.7zM1307 81.3L1308.9 83.5L1304.1 84.5zM1338.1 351L1340.4 345.5L1349.6 346.2L1346.8 354.3zM1436 172.2L1440.6 168.9L1450.4 175.8L1442.3 180.8zM1381.1 42.1L1378.8 31.7L1391.9 33.8L1390.1 41.1zM1498.7 77.1L1493.5 77.5L1492.2 74.6L1495.6 71.4L1497.5 72.8zM1293.9 216.8L1298.3 214.4L1301.8 211.8L1303.6 218.2L1296.8 221.4zM1301.3 348.7L1304.9 345.7L1311.3 350.1L1305.9 351.7L1300.3 351.4zM1277 231.9L1285.3 228.5L1287.9 233.5L1282.1 238.6zM1446.1 97.3L1443.3 99.6L1439.9 99L1437.1 94.2L1445.1 94.4zM1470.7 54.1L1468.5 56.9L1461.7 53.5L1459.5 51.3L1465.2 49.8zM1357.8 127.6L1355.1 122.1L1362.5 123.6L1362.3 128.4zM1316.3 201L1322.4 198.1L1324.5 204.4zM1333.2 230.7L1332.1 225.3L1338.2 229.4zM1591.4 353.4L1597.4 356.3L1593.4 360.1L1587.8 356.8zM1321 44L1320.8 37.1L1324.6 39.7zM1374.1 295.8L1380.2 298.3L1376 301L1369 300.4L1369.5 298.2zM1439.7 152.9L1445.7 153.2L1447.3 158L1441.1 159.8L1440.2 157.4zM1518 24.5L1515.3 27.8L1513.9 25.6zM1503.3 341.9L1508.6 352L1498.4 352zM1490.1 121.5L1487.4 124L1485.3 122.1L1486.9 119.2zM1612.4 313.9L1606.3 317.3L1607.2 310.3z"/>
<path fill="#2896c8" fill-opacity="0.72" d="M1270.7 156.9L1267.5 167.4L1260.5 160.3zM1627.8 242.3L1625.8 248.4L1619.5 239.2zM1379.7 276L1380.7 287L1373.2 280zM1625 56.5L1620.1 63.3L1610.9 55.5L1617 51zM1524.7 123.4L1529.2 121.1L1531.4 122.5L1528.3 125.8zM1541.8 220.2L1536.3 222.3L1536.5 218.9L1536.2 215.8L1540.8 216.4zM1422.1 255L1424.4 257.6L1420.2 260.4zM1388 325.6L1386.1 319.8L1393.3 324.9zM1507.2 239.8L1506.6 244.2L1504.1 240.5zM1242.5 157L1238.3 152.3L1243.5 150.3zM1417.9 291.6L1426.2 285.1L1431.5 292.7L1427.9 297L1421.8 295.8zM1517.6 52.7L1511.2 48.2L1521.2 46.1zM1507.6 161.6L1512.7 167.7L1504.4 166.2zM1290.3 28.6L1285.2 27.8L1291.6 24.1zM1285.9 367.9L1281.4 369.1L1280.3 366.1L1281.1 363.3L1285.9 364.7zM1448.9 180.1L1457.1 181.1L1454.7 187.3L1447.8 185.2zM1215.7 91.8L1219.9 90.2L1218.6 95.9zM1405.5 62.7L1411.7 61.2L1410.5 66.7L1408.2 70.6L1404 65.4zM1609.6 9.4L1604.7 9.6L1603.5 7.6L1604.5 1.4L1610.4 3.8zM1515.9 38.3L1511 34.3L1515.1 31.6L1521 31.7L1520 39.5zM1602.8 183L1598.1 181L1599.5 176.9L1603.2 176.8L1603.6 180.8zM1366.1 107.8L1360.8 113.2L1359.5 103.3z"/>
<path fill="#9632d2" fill-opacity="0.72" d="M1344 372.1L1345.1 375.2L1341.4 375.9L1338.8 373.1L1341.7 369zM1401.9 357.4L1405.2 354.1L1409.5 357L1407.1 361.3zM1235.9 295.5L1239.6 291.9L1245.3 293.5L1241.4 298.2zM1385.9 222.7L1377.2 220.9L1375.1 215.7L1384.2 215.7zM1326 316.1L1331.7 320.7L1321.9 322.6zM1432.8 302.2L1433.4 299.5L1437 300.6L1438.8 303.8L1433.8 305zM1501.6 11.3L1496.6 16.9L1491.2 9.6L1491.4 5.9L1499.3 4.7zM1446.9 261.8L1450.9 258.5L1453.6 262.1L1454.2 265.4L1447.4 265.8zM1392.1 126.3L1397.2 128.1L1392.8 131.2zM1469.9 280.5L1470.5 273L1479.3 272.9L1474.9 285.4zM1606.8 366.9L1607.2 372.6L1602.3 369.8zM1274.2 83.6L1269.2 87.8L1268.2 80.5zM1481.5 126.6L1478.8 126.6L1476.6 122.1L1481.2 122.7L1484.4 124.1zM1642.5 251.9L1646.3 254.7L1643.4 257.7L1638.6 257zM1215.3 168.9L1217 165.1L1220.5 172.2zM1283 34.2L1293.6 40.1L1283.9 42.6zM1278.5 305.8L1285.2 306.9L1284.4 312.4L1275.2 309.2zM1483.1 185L1492.1 187.7L1485.3 197.8zM1552.1 124.3L1544.5 129.3L1544.1 123.3zM1303.2 95.4L1303.5 89.8L1307.2 90.6L1309.6 96.3zM1332.8 39.9L1329.2 45.9L1325.7 41zM1457.3 354.7L1464 360.6L1455.8 360.9zM1586 262L1589.3 255.2L1590.7 261.4zM1429.1 265.6L1427.4 269L1421.7 266L1426.1 260.4zM1601.3 303L1605.3 304.9L1602.2 308.2L1598.5 306.6zM1225.7 45.1L1224.2 40.8L1230.3 40.2zM1428.4 88.4L1430.9 93.4L1427.4 93.9L1425.8 88zM1495 308.9L1500 313.3L1493.8 316L1486.6 314.3zM1301.8 152.2L1311.7 153.7L1306.6 162.8z"/>
<path fill="#d232aa" fill-opacity="0.72" d="M1531 32L1534.9 30.9L1533.5 35.3zM1284 235.8L1278.4 235.8L1280 233L1282.2 230L1286.2 231zM1231.7 138.6L1239.7 129.6L1239.1 139.7zM1512.1 329.2L1514.4 331.7L1509.6 336.8L1507.7 334.8L1505.9 330.4zM1249.5 354.8L1249.8 358.1L1246.1 358.8L1246.9 353.1zM1536.7 180.1L1527.1 185.9L1530.7 177.4zM1358.5 270.8L1355 280.7L1347.9 269.3zM1275.1 217.5L1278 220.5L1274.2 224.3L1271.9 223.5L1269 219.5zM1399 120.5L1399.9 116.9L1405.1 121.9L1403.5 125.3L1400.5 124.3zM1595.2 348.2L1598.8 346L1601.8 348L1601.2 349.9L1597.3 350.4zM1341.1 248.5L1341.9 253.6L1342.7 258.2L1334.2 258.3L1333.3 250.9zM1625.8 81.6L1621.5 84.2L1618.9 80.6zM1455.8 199.8L1447.8 197.7L1455.2 189.4zM1524.2 254.7L1518.5 252.6L1518.8 246.5L1525.2 246.9zM1219.3 120.5L1216.4 119.6L1216.4 117.4L1217.8 115.7L1220.2 118.5zM1277.5 29.8L1274.4 33.6L1269.7 26.9L1273.4 22.4zM1310.1 176L1314.9 181.7L1308.4 187.3z"/>
<path fill="#28c8b4" fill-opacity="0.72" d="M1304.2 36.9L1306.3 43.6L1300.6 48.5zM1257 111.1L1262.4 107.8L1264.7 111.4zM1599.9 85.3L1600 80.9L1602.3 75.8L1607.5 78.5L1607.3 87.3zM1374.1 334.1L1365.7 342.4L1365.9 334.7zM1274.4 114.4L1264.6 118.7L1267.9 109.3zM1288.7 267.6L1293.2 276L1281.6 274.3zM1484.5 328.7L1484.4 335.6L1479.2 335.5zM1526.7 139.1L1528.2 134.4L1533.9 135.7L1533.4 140.4L1531.5 143.2zM1346 8.6L1336.8 11L1339.3 1.9zM1413.9 106.9L1412.8 109.5L1410.3 106.9zM1413.1 49.3L1412.4 51.7L1409.4 55L1407.4 54.1L1407.7 48zM1415.5 273L1409.6 268.2L1421 262.9zM1510.5 7.7L1508.4 13.8L1505.4 6.9zM1322.8 21.5L1315.9 21.4L1315.3 16.4L1317.6 15.4L1321.6 17.7zM1465.4 184.5L1462.6 187.1L1460.1 181.4L1464.7 180.2zM1595.3 359.8L1598.5 369.9L1590.4 371.8zM1549.8 154.5L1551.4 151.3L1557.1 150.3L1556.8 157.3zM1259.9 192.6L1254.5 195.7L1255.3 188.5zM1601.1 61.1L1605.8 66.3L1599 71.3zM1274 168.6L1270.3 172L1268.5 167.3L1267.8 164.4L1272 165zM1280.8 68.8L1286.5 71.5L1281 73.2z"/>
<path fill="#3c46e6" fill-opacity="0.72" d="M1411.6 53.2L1411.2 46.2L1419.3 47.6L1415.2 53.4zM1388.6 358.9L1389.5 363.6L1386.3 360zM1553.2 371.8L1557.3 369.8L1556.6 374.2zM1272.5 326.7L1279.3 320.6L1280.6 330.4zM1544.4 200.4L1538.1 201.3L1540.4 197.4zM1511.9 241.1L1511.7 251.7L1505 247.6zM1230.3 9.8L1232.7 8.3L1239.5 12.8L1237.9 15.1L1231.7 15.3zM1246.9 58.1L1246.6 54.8L1249.9 52L1251.7 55.9L1250.7 58zM1447.8 309.6L1448.8 307.2L1450.6 304.6L1452.7 308.3L1451.5 311.2zM1448.1 326.2L1444.8 334.9L1442.3 327.7zM1527.4 116.3L1520.3 118.7L1522.3 113.7zM1481.2 372.2L1480.5 365.2L1488.4 370.5zM1601.1 239.9L1592.8 235.4L1597.7 231.5zM1543.7 121.8L1535.7 120.5L1543.9 112.4zM1346.9 53.3L1347.7 59.1L1345.5 59.5L1338.8 54.9L1343.3 53.5zM1262 64.5L1262.5 70L1258.8 68.2z"/>
<path fill="#e05a3c" fill-opacity="0.72" d="M1555.2 181.4L1546.7 175.1L1552.2 172.4L1558.5 172.2zM1519.9 217.4L1511.4 217L1510.4 212.2L1516 211.4zM1234 198L1230.4 197.2L1231.2 192.3L1234.5 195.2zM1491.9 39.1L1495.2 40.2L1493.8 44.7L1492 45.7L1488.6 42.7zM1557.2 101.7L1555.5 102.9L1552.5 102.4L1550.8 97.6L1554.3 98.6zM1616.9 367.6L1610.1 368.4L1610.9 362.3zM1240.9 201.1L1247.1 197.4L1247.2 202.4zM1636.3 368.6L1634.6 361.8L1642.4 367zM1286 116.2L1291 119.4L1287.1 123.4zM1509.6 253.5L1517.1 253.5L1512.7 259.7zM1506.7 70.6L1504 73.7L1500.2 72.1L1504.2 65.4zM1251.5 70.2L1245.8 73.9L1246.3 69.2zM1370.8 40.1L1372 43.3L1367.9 46.4L1365.1 45.6L1366.8 42.1zM1488.6 356.8L1491.3 351.2L1496.7 354.6L1497.3 357.5L1492.5 360.1zM1221.8 12.8L1226.1 12.8L1229.1 17.6L1221.1 18.7L1218.6 16.8zM1438.5 117.9L1441.5 117.8L1441.3 122.9L1438.2 123.3zM1339.7 293.3L1345.8 296.8L1338.2 297.6zM1285.7 101.6L1281.8 102L1280.2 99.3L1282.6 96.6zM1374.2 51.1L1371.4 51.7L1368 48.6L1370.2 47.3zM1233.1 147.6L1222.9 144.5L1231.6 141.5zM1494.9 197L1503.7 193.6L1502.1 199.8zM1584.1 360.7L1585.4 355.8L1591.2 358.7zM1274 61.8L1276 59.3L1280.9 60.1L1277.5 64.4z"/>
<path fill="#64d23c" fill-opacity="0.72" d="M1372.6 68.5L1380.7 67L1377.6 76.9zM1537.2 139.8L1531.8 140L1530.8 132.5zM1573.3 32.6L1573 35.7L1570.4 36.5L1570 33.6L1571.3 31.6zM1322.2 19.1L1323.7 21.5L1322.8 27L1317.5 26.2L1318 21.1zM1582.6 180.4L1588.2 182.8L1586.6 189.5L1578.3 187.6L1575.8 185.7zM1237.9 211L1241.5 221L1229.4 215.2zM1643 304L1637.8 303.9L1639.7 300.2zM1334.3 112.7L1331.2 115.8L1326.1 111.2L1327.8 109.7L1334.3 106.7zM1476.1 270L1477.3 267.5L1482 266.8L1480.6 269L1479.8 274.1zM1642.4 210.8L1649.6 211.9L1639.8 215.5zM1373.9 338.6L1376.9 334.5L1380 337.2L1378 341.6zM1236.7 11.2L1234 22.7L1227.2 14.3zM1224.7 213.3L1229.6 214.6L1228.9 217.3L1226.5 219.9L1222.4 216.2zM1225.8 173.2L1223.1 181.5L1215.4 174.8zM1568.1 14L1562.2 9L1567 10.1zM1438.9 25.3L1437.7 31.8L1430.7 34.2L1429.5 26.5L1433.4 25.2zM1395 354.6L1390.5 352.5L1394.6 349.7zM1238.8 373L1241.6 370.2L1243.3 376zM1626 351.3L1620.5 346.9L1624.1 345L1630.1 343.2L1631.9 348.8zM1467.2 70.3L1460.1 66.6L1464.2 64.1zM1372.4 77.5L1362.5 83.9L1364.3 70.3zM1426.1 36.5L1424.5 31.2L1430.6 33zM1503.6 127.4L1504 131.4L1500.6 133.6L1499.5 129.4L1500.9 126.1zM1217.4 321.9L1222 322L1224.9 326.3L1218.6 328.6zM1389.3 91.4L1394.7 88.9L1394.9 96.5L1389.9 97.9z"/>
<path fill="#b43cdc" fill-opacity="0.72" d="M1521.9 105.4L1517.5 109.7L1515.1 103.8L1517.1 98.4L1520.3 97.7zM1383.1 140.4L1373.6 137L1380 132.4zM1593.1 150.1L1590.6 157.9L1585.7 149.4zM1510.7 100.7L1516 91L1518 96.5zM1638.5 215L1631.3 214.1L1637.1 207.8zM1465.7 360.1L1467.9 367.4L1467.1 371.4L1460.7 364.6zM1341.6 243.8L1341.6 249.8L1340 253.3L1334.6 247.1L1337.5 243.7zM1340.3 214.3L1335.6 222.4L1332.4 217.1L1331.6 214.1L1338.8 211.5zM1238.3 234.7L1249.5 235L1245.6 242.9zM1422.1 32L1421.7 26.7L1426.8 26.9zM1643.5 325.2L1642.9 322.8L1642.5 314.3L1651.9 316.3L1654.5 322.7zM1375.7 88.7L1375 81.1L1382.7 88.5zM1567.8 15.8L1575.3 13.2L1575.4 18zM1431.6 267.9L1441.6 266.5L1443.7 270.9L1435.6 275.4zM1301.2 347L1304 341L1312 347.8zM1522.5 139.3L1519.4 134.5L1523.2 133.3L1526.6 133.1L1526.6 137.6zM1522.5 175L1520.2 167.6L1528.9 173.5zM1328.6 110.3L1324.9 117.6L1320.5 115.3L1320.3 111.5L1324.5 108.6zM1649.9 141.8L1644.8 144.2L1644.9 137.1L1651.6 137.3zM1501.1 287.6L1503.8 290L1503.3 293.4L1497.4 292.8L1499.5 289.4zM1402.9 361.7L1407.1 359.7L1408.2 363.7zM1647.2 150.9L1640.8 156.3L1640.4 151.4zM1523.8 311.5L1533.8 314.2L1528.5 320.9zM1309.8 107.4L1309 102.3L1309 98.9L1314.9 102.8L1314.1 104.1zM1480.6 343.1L1488 343.7L1486 357.1L1478.6 350.5zM1335.9 109.7L1331.1 107.5L1335.8 101.9zM1322.7 187.5L1331.1 189.8L1327.4 193.8zM1466.8 32.1L1470.2 37.3L1466.9 43L1462.9 35.9zM1625.9 108.4L1622.3 108.9L1619.1 107.3L1622.6 104.4L1626.6 106.1z"/>
<path fill="#dc3278" fill-opacity="0.72" d="M1617.7 54.7L1617.3 57.8L1614.4 59.2L1610.6 57.5L1612.6 53.3zM1317.5 60.1L1318.1 62.1L1316.7 63.4L1313.4 62.8L1314.4 58.8zM1533.2 268.1L1534.9 272.1L1529.5 270.8zM1259.6 242.8L1254.5 243.3L1249 238.7L1259.5 234.2zM1302.2 39L1305.8 37L1308.1 39.6L1308 41.8L1302.8 42.2zM1509.1 239L1510.1 236.2L1513.3 238.2L1511.2 240.1zM1228.7 116.9L1233.3 113.9L1230.9 121.4zM1277.4 13.9L1272.7 21.8L1266.9 15L1273.3 10zM1557.3 134.9L1556.7 128.3L1562.5 126.7L1565.7 132.4L1561.1 134.3zM1475 39.8L1471.1 39.8L1470.6 35.2L1476.6 34.7zM1224 93.7L1223.8 90.2L1229.6 91.4L1228.7 96.1L1225.5 98.6zM1466.9 117.2L1462.7 112.7L1467.2 112.5zM1636.3 194.3L1640.9 197.3L1633.2 202.4zM1645.7 77.6L1640.3 76.1L1648.5 71zM1361.5 272.9L1365.2 266.1L1372.9 265.4L1368 273.3zM1356.9 63.4L1360.3 58.5L1363.9 63.4zM1234.2 261.5L1237.5 257.8L1242.7 259L1239.5 262.2zM1380.8 110.1L1376.3 107.9L1379.3 104.7zM1450.2 314.7L1453.6 309.7L1461.1 312.3L1454.3 320.4zM1277 241.9L1275.4 239.7L1278.5 235.8L1281.9 238.5zM1307.1 10.5L1313.2 7L1316.6 11.1L1311.4 16.3zM1360.2 316.1L1365.4 318.2L1368.3 325L1362 329L1356.1 324.8zM1256.2 301.4L1258.1 307L1254.6 308.9L1253.4 307.3L1249.9 305.2zM1386.3 294.7L1390.5 290.3L1395.7 297.8L1389 299.7zM1281.6 323.8L1277.7 327.6L1273.9 322.7zM1520.5 361.3L1514.3 367.5L1510.5 365L1516 356.8zM1353.6 306.5L1355.2 314.2L1346 311.5zM1371.5 165.6L1375.2 161.6L1381.7 162.6L1375.8 171.4z"/>
<path fill="#3cb4dc" fill-opacity="0.72" d="M1523.3 75.9L1520.1 70.4L1523.4 67.6L1526 71.2zM1219 377.6L1221.5 374.2L1223.2 377.8zM1384.2 4.6L1386.8 2.9L1386.4 8.1L1383.4 9L1381.3 5.6zM1244.9 252.3L1249.5 247.8L1255.7 247.4L1257.5 256.5L1251 254.7zM1497 305.2L1491.3 301L1498.9 299.3zM1617.5 353.9L1617.7 359L1613.5 362.4L1609.9 355.3zM1454.7 239.6L1461.1 240.1L1457.9 245.7zM1506.4 234.4L1507.5 229.1L1514.1 229.8L1513.3 235.8zM1319.8 325.3L1320.4 319.8L1327.6 322.6L1324.3 325.6zM1632.8 275.4L1636.8 277.5L1633.6 280.3L1631.1 279.5zM1558.4 217.3L1552.6 221.5L1553.2 214.1zM1379.5 328.7L1376 332L1372.5 328L1374.5 324.9zM1226.5 84.8L1229.7 80.2L1231.2 84.1zM1347 68.5L1350.7 67.5L1350.2 70.1L1347.4 73.2zM1589.8 5.2L1588.9 8.6L1585.7 12.2L1585.4 9L1584.6 5.3zM1525.4 77.3L1529.7 69.9L1535.1 72.8L1533.6 78.8L1528.2 79.5zM1547.5 118.6L1547.2 110.4L1550.8 117zM1482.1 18.6L1475.5 12.8L1485.8 9.2L1485.2 16.4zM1383.4 369.8L1376.8 372.7L1379.7 365.2zM1306.1 360L1303.2 363.8L1298.3 363.7L1297.5 358.1L1303.8 357.7zM1313.7 372.2L1316.7 371.2L1316.9 375L1312.6 374.6zM1475.2 56.8L1476.9 49.6L1478.5 52.8zM1410.9 173.3L1417.8 173.2L1419 181.2L1411.2 181zM1307.6 140.3L1305.9 145.8L1299.9 142.7zM1645.3 335.6L1653.3 343.1L1644.6 347.6z"/>
<path fill="#28e6e6" fill-opacity="0.9" d="M1568.8 12.8a3.2 2.6 156 1 0 -5.8 2.6a3.2 2.6 156 1 0 5.8 -2.6zM1299.1 197.2a2.3 1.9 123 1 0 -2.5 3.9a2.3 1.9 123 1 0 2.5 -3.9zM1402.4 29.9a2.3 1.9 90 1 0 0 4.6a2.3 1.9 90 1 0 -0 -4.6zM1314.1 218a2.9 2.8 38 1 0 4.5 3.6a2.9 2.8 38 1 0 -4.5 -3.6zM1605.9 362a2.9 2.2 16 1 0 5.6 1.6a2.9 2.2 16 1 0 -5.6 -1.6zM1600 201.1a2.8 2.1 112 1 0 -2.1 5.1a2.8 2.1 112 1 0 2.1 -5.1zM1547.5 352.7a2.5 2.4 113 1 0 -2 4.5a2.5 2.4 113 1 0 2 -4.5zM1248 222a3.2 2.4 64 1 0 2.8 5.7a3.2 2.4 64 1 0 -2.8 -5.7zM1225.7 193a3.3 2 144 1 0 -5.4 3.9a3.3 2 144 1 0 5.4 -3.9zM1597.8 253.9a2.7 1.7 176 1 0 -5.5 .4a2.7 1.7 176 1 0 5.5 -.4zM1262.6 375.5a2.9 2.7 140 1 0 -4.4 3.7a2.9 2.7 140 1 0 4.4 -3.7zM1226.8 47.6a3.2 2 127 1 0 -3.8 5a3.2 2 127 1 0 3.8 -5zM1293 354.2a2.4 2.2 115 1 0 -2.1 4.4a2.4 2.2 115 1 0 2.1 -4.4zM1384.7 68a2.7 2.2 170 1 0 -5.4 1a2.7 2.2 170 1 0 5.4 -1zM1648.1 310.3a3.1 2.7 119 1 0 -3.1 5.5a3.1 2.7 119 1 0 3.1 -5.5z"/>
<path fill="#28e678" fill-opacity="0.9" d="M1611.6 42.2a2.7 1.8 107 1 0 -1.6 5.1a2.7 1.8 107 1 0 1.6 -5.1zM1612.4 369.6a2.2 2.2 68 1 0 1.7 4.1a2.2 2.2 68 1 0 -1.7 -4.1zM1520.6 30.2a2.7 1.9 6 1 0 5.3 .6a2.7 1.9 6 1 0 -5.3 -.6zM1476.7 275.2a2.6 2.2 47 1 0 3.6 3.9a2.6 2.2 47 1 0 -3.6 -3.9zM1543.9 241.3a3 2.6 94 1 0 -.4 6a3 2.6 94 1 0 .4 -6zM1526.7 156.8a2.3 2 67 1 0 1.8 4.3a2.3 2 67 1 0 -1.8 -4.3zM1386.4 145.1a2.8 2 102 1 0 -1.1 5.4a2.8 2 102 1 0 1.1 -5.4zM1460.8 276.2a3.3 2.3 5 1 0 6.6 .5a3.3 2.3 5 1 0 -6.6 -.5zM1548.8 278.3a3 2.8 9 1 0 6 .9a3 2.8 9 1 0 -6 -.9zM1431.3 4.5a2.9 2 123 1 0 -3.2 4.9a2.9 2 123 1 0 3.2 -4.9zM1398.2 173.8a2.4 1.9 144 1 0 -3.9 2.8a2.4 1.9 144 1 0 3.9 -2.8zM1632.8 374.5a2.5 2.4 35 1 0 4.1 2.8a2.5 2.4 35 1 0 -4.1 -2.8zM1574.4 17a2.4 1.9 35 1 0 4 2.8a2.4 1.9 35 1 0 -4 -2.8z"/>
<path fill="#ff3ca0" fill-opacity="0.9" d="M1468.4 197.4a2.8 2.6 142 1 0 -4.4 3.5a2.8 2.6 142 1 0 4.4 -3.5zM1505.8 240.9a2.2 2.2 155 1 0 -4.1 1.9a2.2 2.2 155 1 0 4.1 -1.9zM1259.8 126.2a2.5 2.1 144 1 0 -4 2.9a2.5 2.1 144 1 0 4 -2.9zM1637.9 332.9a2.1 1.7 176 1 0 -4.1 .3a2.1 1.7 176 1 0 4.1 -.3zM1420 13.1a2.7 2.5 158 1 0 -5 2a2.7 2.5 158 1 0 5 -2zM1463.8 339.4a2.5 2.1 164 1 0 -4.8 1.4a2.5 2.1 164 1 0 4.8 -1.4zM1578.5 156.6a3.1 2 165 1 0 -6 1.6a3.1 2 165 1 0 6 -1.6zM1553.5 228a2 1.7 42 1 0 3 2.8a2 1.7 42 1 0 -3 -2.8zM1376.6 139.6a2 1.9 26 1 0 3.7 1.7a2 1.9 26 1 0 -3.7 -1.7zM1584.3 96.5a2.8 2.7 125 1 0 -3.2 4.5a2.8 2.7 125 1 0 3.2 -4.5zM1577.9 370.2a3.1 1.6 93 1 0 -.3 6.3a3.1 1.6 93 1 0 .3 -6.3zM1401.7 77a2.6 2.2 102 1 0 -1 5.1a2.6 2.2 102 1 0 1 -5.1zM1479.4 191.8a2.4 2 155 1 0 -4.3 2a2.4 2 155 1 0 4.3 -2zM1417.9 113.6a2.3 2 88 1 0 .2 4.7a2.3 2 88 1 0 -.2 -4.7zM1531.8 223.9a2.2 2.1 165 1 0 -4.2 1.1a2.2 2.1 165 1 0 4.2 -1.1z"/>
<path fill="#fff0f0" fill-opacity="0.9" d="M1326.9 201.2a2.8 1.7 160 1 0 -5.2 1.9a2.8 1.7 160 1 0 5.2 -1.9zM1280.8 7.8a2.4 2.4 144 1 0 -3.9 2.8a2.4 2.4 144 1 0 3.9 -2.8zM1644.2 360.4a3.3 2.5 97 1 0 -.8 6.6a3.3 2.5 97 1 0 .8 -6.6zM1465.9 206.1a2.1 2 72 1 0 1.3 3.9a2.1 2 72 1 0 -1.3 -3.9zM1243 68.9a2.2 1.9 118 1 0 -2.1 3.9a2.2 1.9 118 1 0 2.1 -3.9zM1275.6 108.9a2.7 1.8 83 1 0 .6 5.4a2.7 1.8 83 1 0 -.6 -5.4zM1418.9 249.5a2.5 2.3 99 1 0 -.7 4.9a2.5 2.3 99 1 0 .7 -4.9zM1224.6 63a2.6 2.1 19 1 0 4.9 1.7a2.6 2.1 19 1 0 -4.9 -1.7zM1379.6 98.1a2 1.9 137 1 0 -2.9 2.7a2 1.9 137 1 0 2.9 -2.7zM1259.6 121.1a2.4 1.7 107 1 0 -1.4 4.5a2.4 1.7 107 1 0 1.4 -4.5zM1332.6 187a2.3 2.1 12 1 0 4.4 1a2.3 2.1 12 1 0 -4.4 -1zM1347 290.5a2.5 2.1 133 1 0 -3.4 3.6a2.5 2.1 133 1 0 3.4 -3.6zM1318.2 89.9a2.9 2 116 1 0 -2.6 5.3a2.9 2 116 1 0 2.6 -5.3zM1335.4 273a3.1 2.2 7 1 0 6.1 .7a3.1 2.2 7 1 0 -6.1 -.7zM1575.9 24.5a2.8 2.6 12 1 0 5.5 1.2a2.8 2.6 12 1 0 -5.5 -1.2zM1582.4 112.7a2.1 1.6 151 1 0 -3.8 2.1a2.1 1.6 151 1 0 3.8 -2.1zM1224.2 283.7a2.7 2.1 141 1 0 -4.2 3.4a2.7 2.1 141 1 0 4.2 -3.4zM1332.8 5.1a3.3 2.9 49 1 0 4.4 5a3.3 2.9 49 1 0 -4.4 -5zM1234.1 240.8a3.2 2.5 117 1 0 -2.9 5.7a3.2 2.5 117 1 0 2.9 -5.7zM1593.3 249.2a2.6 2.3 144 1 0 -4.3 3.1a2.6 2.3 144 1 0 4.3 -3.1zM1541.2 121.3a2.8 2.2 62 1 0 2.7 5a2.8 2.2 62 1 0 -2.7 -5zM1555.2 116.7a2.9 1.9 56 1 0 3.2 4.8a2.9 1.9 56 1 0 -3.2 -4.8zM1299.8 173.7a2.2 2 63 1 0 2 3.9a2.2 2 63 1 0 -2 -3.9zM1592.7 294.7a3.4 2.6 134 1 0 -4.7 4.8a3.4 2.6 134 1 0 4.7 -4.8zM1492.8 349.6a2.9 1.8 3 1 0 5.8 .3a2.9 1.8 3 1 0 -5.8 -.3zM1448.1 293.7a2.1 1.8 150 1 0 -3.6 2.1a2.1 1.8 150 1 0 3.6 -2.1z"/>
<path fill="#e6e650" fill-opacity="0.9" d="M1438.2 14.5a3.2 2 67 1 0 2.6 5.9a3.2 2 67 1 0 -2.6 -5.9zM1215.2 315.6a3.3 1.9 20 1 0 6.1 2.3a3.3 1.9 20 1 0 -6.1 -2.3zM1312.9 168.5a3.3 2.2 81 1 0 1.1 6.6a3.3 2.2 81 1 0 -1.1 -6.6zM1434.2 51.6a1.9 1.7 30 1 0 3.3 1.9a1.9 1.7 30 1 0 -3.3 -1.9zM1419.8 50.5a3.2 2.6 43 1 0 4.6 4.4a3.2 2.6 43 1 0 -4.6 -4.4zM1567.4 278.5a3 1.9 159 1 0 -5.6 2.2a3 1.9 159 1 0 5.6 -2.2zM1242 295.8a2.9 1.9 87 1 0 .3 5.7a2.9 1.9 87 1 0 -.3 -5.7zM1443.6 139.8a3.4 2.5 133 1 0 -4.6 4.9a3.4 2.5 133 1 0 4.6 -4.9zM1534.7 13.9a2.3 2.1 91 1 0 -.1 4.7a2.3 2.1 91 1 0 .1 -4.7zM1293.6 197.7a2.3 1.9 25 1 0 4.2 2a2.3 1.9 25 1 0 -4.2 -2zM1610.5 279a2.9 2.1 45 1 0 4.1 4.2a2.9 2.1 45 1 0 -4.1 -4.2zM1394.2 274.7a2.1 1.7 47 1 0 2.9 3.2a2.1 1.7 47 1 0 -2.9 -3.2zM1477 362.9a2 1.7 81 1 0 .6 3.9a2 1.7 81 1 0 -.6 -3.9zM1402.5 267.4a2.7 2 129 1 0 -3.4 4.2a2.7 2 129 1 0 3.4 -4.2zM1388.8 291.2a3.2 1.9 22 1 0 5.9 2.4a3.2 1.9 22 1 0 -5.9 -2.4zM1441.5 297.3a2.9 1.7 87 1 0 .3 5.7a2.9 1.7 87 1 0 -.3 -5.7zM1228.9 38.9a3 2.7 109 1 0 -1.9 5.6a3 2.7 109 1 0 1.9 -5.6zM1495.4 96.3a2.8 2.4 109 1 0 -1.9 5.3a2.8 2.4 109 1 0 1.9 -5.3zM1346.4 19a2.9 1.6 49 1 0 3.8 4.3a2.9 1.6 49 1 0 -3.8 -4.3zM1343.9 363.4a1.9 1.7 116 1 0 -1.7 3.5a1.9 1.7 116 1 0 1.7 -3.5z"/>
<path fill="#3c50ff" fill-opacity="0.9" d="M1286.2 96.7a3.1 2 90 1 0 0 6.3a3.1 2 90 1 0 -0 -6.3zM1560.1 332.3a2.9 2.9 3 1 0 5.7 .3a2.9 2.9 3 1 0 -5.7 -.3zM1517.6 299.7a2 1.7 89 1 0 .1 4.1a2 1.7 89 1 0 -.1 -4.1zM1311.3 11.5a2.5 2 10 1 0 4.9 .9a2.5 2 10 1 0 -4.9 -.9zM1593.4 274.5a3 2.5 46 1 0 4.1 4.3a3 2.5 46 1 0 -4.1 -4.3zM1443.8 167.9a2.7 1.7 145 1 0 -4.4 3a2.7 1.7 145 1 0 4.4 -3zM1301.3 366.9a2.2 2.1 15 1 0 4.3 1.1a2.2 2.1 15 1 0 -4.3 -1.1zM1276 192.4a2.5 2.2 130 1 0 -3.2 3.8a2.5 2.2 130 1 0 3.2 -3.8zM1222.8 346.2a2.5 1.9 147 1 0 -4.2 2.8a2.5 1.9 147 1 0 4.2 -2.8zM1314.8 208a2.9 2.3 110 1 0 -2 5.5a2.9 2.3 110 1 0 2 -5.5zM1237 93.2a2.9 1.6 141 1 0 -4.5 3.7a2.9 1.6 141 1 0 4.5 -3.7zM1520.8 249.3a2.7 1.7 5 1 0 5.4 .5a2.7 1.7 5 1 0 -5.4 -.5zM1519.8 158.4a2.8 2.5 78 1 0 1.2 5.4a2.8 2.5 78 1 0 -1.2 -5.4zM1268.8 218.5a2.7 2 60 1 0 2.6 4.6a2.7 2 60 1 0 -2.6 -4.6zM1370 65.9a2.6 2.2 141 1 0 -4 3.3a2.6 2.2 141 1 0 4 -3.3zM1391.8 82a2.5 2 131 1 0 -3.2 3.7a2.5 2 131 1 0 3.2 -3.7zM1453.6 356.6a3.3 2 145 1 0 -5.4 3.7a3.3 2 145 1 0 5.4 -3.7zM1544.5 187.3a2.7 2 89 1 0 .1 5.3a2.7 2 89 1 0 -.1 -5.3zM1619.5 278.3a3 1.8 11 1 0 6 1.2a3 1.8 11 1 0 -6 -1.2z"/>
<path fill="#ff2828" fill-opacity="0.9" d="M1606.4 346.4a3 1.9 64 1 0 2.6 5.4a3 1.9 64 1 0 -2.6 -5.4zM1592 327.5a2.9 2.8 60 1 0 2.9 4.9a2.9 2.8 60 1 0 -2.9 -4.9zM1231.3 291.7a2.9 2.5 94 1 0 -.4 5.8a2.9 2.5 94 1 0 .4 -5.8zM1325.2 195a2.2 1.7 175 1 0 -4.4 .4a2.2 1.7 175 1 0 4.4 -.4zM1265 64.4a2.9 2.1 90 1 0 -0 5.8a2.9 2.1 90 1 0 0 -5.8zM1230.6 174.3a3 2.5 78 1 0 1.2 5.8a3 2.5 78 1 0 -1.2 -5.8zM1612.2 91a2.6 1.8 141 1 0 -4.1 3.3a2.6 1.8 141 1 0 4.1 -3.3zM1441.2 41.8a2.5 1.6 86 1 0 .3 4.9a2.5 1.6 86 1 0 -.3 -4.9zM1489.7 308.2a2.7 2.4 92 1 0 -.2 5.5a2.7 2.4 92 1 0 .2 -5.5zM1342.3 283.5a3.4 2.5 120 1 0 -3.4 5.8a3.4 2.5 120 1 0 3.4 -5.8zM1263 265.8a2.5 2.1 179 1 0 -5 .1a2.5 2.1 179 1 0 5 -.1zM1286.5 17.3a3.3 2.6 127 1 0 -4 5.3a3.3 2.6 127 1 0 4 -5.3zM1269.4 9.8a2.6 2.2 180 1 0 -5.2 0a2.6 2.2 180 1 0 5.2 -0zM1410.2 302.3a2.7 1.9 50 1 0 3.5 4.1a2.7 1.9 50 1 0 -3.5 -4.1zM1370.5 40.2a3.2 2.5 155 1 0 -5.8 2.8a3.2 2.5 155 1 0 5.8 -2.8zM1282.5 163.9a2.9 2.4 113 1 0 -2.3 5.4a2.9 2.4 113 1 0 2.3 -5.4zM1638.5 35a2.2 1.9 97 1 0 -.5 4.4a2.2 1.9 97 1 0 .5 -4.4z"/>
<path fill="#e628e6" fill-opacity="0.9" d="M1251.8 336.7a2 1.8 107 1 0 -1.2 3.9a2 1.8 107 1 0 1.2 -3.9zM1281 110.3a2.6 2.1 115 1 0 -2.2 4.7a2.6 2.1 115 1 0 2.2 -4.7zM1313 112.4a3.1 1.8 175 1 0 -6.1 .5a3.1 1.8 175 1 0 6.1 -.5zM1442.1 361.8a1.8 1.8 100 1 0 -.6 3.5a1.8 1.8 100 1 0 .6 -3.5zM1585.4 146.4a1.8 1.7 108 1 0 -1.1 3.4a1.8 1.7 108 1 0 1.1 -3.4zM1394.5 142.2a2.3 1.9 178 1 0 -4.6 .1a2.3 1.9 178 1 0 4.6 -.1zM1285.7 189.8a2.1 1.9 134 1 0 -3 3a2.1 1.9 134 1 0 3 -3zM1297.8 307.4a2.7 2.4 143 1 0 -4.3 3.3a2.7 2.4 143 1 0 4.3 -3.3zM1255.6 168.8a2.4 2.1 23 1 0 4.4 1.9a2.4 2.1 23 1 0 -4.4 -1.9zM1219.6 242.8a2.1 2 127 1 0 -2.5 3.3a2.1 2 127 1 0 2.5 -3.3zM1351 335a2.6 1.8 99 1 0 -.8 5.1a2.6 1.8 99 1 0 .8 -5.1zM1516.9 11.2a3.2 2.1 179 1 0 -6.4 .1a3.2 2.1 179 1 0 6.4 -.1zM1244.6 223.1a2.3 2.2 30 1 0 4 2.3a2.3 2.2 30 1 0 -4 -2.3zM1558.6 186.8a2 1.9 35 1 0 3.2 2.2a2 1.9 35 1 0 -3.2 -2.2z"/>
<path fill="#ffa028" fill-opacity="0.9" d="M1577.2 157.2a2.9 1.7 154 1 0 -5.3 2.6a2.9 1.7 154 1 0 5.3 -2.6zM1521.7 145.5a2.3 2.1 2 1 0 4.5 .2a2.3 2.1 2 1 0 -4.5 -.2zM1454.6 122.7a2.6 1.9 151 1 0 -4.5 2.5a2.6 1.9 151 1 0 4.5 -2.5zM1489 282.9a3 2.2 120 1 0 -3 5.2a3 2.2 120 1 0 3 -5.2zM1235.3 119.9a2.8 2.6 115 1 0 -2.4 5a2.8 2.6 115 1 0 2.4 -5zM1602.6 5a3 2.7 148 1 0 -5.1 3.2a3 2.7 148 1 0 5.1 -3.2zM1335.4 336a2.6 2.6 159 1 0 -4.9 1.9a2.6 2.6 159 1 0 4.9 -1.9zM1507.8 140.7a2.7 2.6 45 1 0 3.9 3.8a2.7 2.6 45 1 0 -3.9 -3.8zM1461.1 305.2a2.8 1.6 126 1 0 -3.3 4.5a2.8 1.6 126 1 0 3.3 -4.5zM1426.9 129.1a3.3 2.9 160 1 0 -6.3 2.2a3.3 2.9 160 1 0 6.3 -2.2zM1280 318.7a2.4 1.7 137 1 0 -3.5 3.2a2.4 1.7 137 1 0 3.5 -3.2zM1415.5 178.3a2.6 1.7 131 1 0 -3.4 3.9a2.6 1.7 131 1 0 3.4 -3.9zM1462.1 35.9a3.4 2.4 145 1 0 -5.5 3.9a3.4 2.4 145 1 0 5.5 -3.9zM1341.3 8.5a3 2.5 11 1 0 5.9 1.2a3 2.5 11 1 0 -5.9 -1.2zM1553.5 256a3.1 1.6 13 1 0 6.1 1.4a3.1 1.6 13 1 0 -6.1 -1.4zM1373.8 125a2.4 2.2 112 1 0 -1.8 4.5a2.4 2.2 112 1 0 1.8 -4.5zM1344.9 330.4a3 2.9 160 1 0 -5.7 2a3 2.9 160 1 0 5.7 -2zM1592.5 347.2a2.8 1.8 89 1 0 .1 5.6a2.8 1.8 89 1 0 -.1 -5.6zM1327.1 290.9a1.9 1.9 30 1 0 3.4 1.9a1.9 1.9 30 1 0 -3.4 -1.9zM1251.2 197.1a3 1.7 100 1 0 -1.1 5.8a3 1.7 100 1 0 1.1 -5.8zM1428.4 257.9a2 1.9 48 1 0 2.7 3a2 1.9 48 1 0 -2.7 -3zM1572.9 259.4a2.4 1.8 131 1 0 -3.1 3.6a2.4 1.8 131 1 0 3.1 -3.6zM1306.2 129.3a2.4 2.1 50 1 0 3.1 3.7a2.4 2.1 50 1 0 -3.1 -3.7zM1334.5 22.4a2.5 2.3 118 1 0 -2.3 4.4a2.5 2.3 118 1 0 2.3 -4.4zM1630.1 19.2a2 1.9 60 1 0 2 3.4a2 1.9 60 1 0 -2 -3.4zM1440 356.5a2.1 2 56 1 0 2.3 3.5a2.1 2 56 1 0 -2.3 -3.5z"/>
<path fill="#28ff3c" fill-opacity="0.9" d="M1547.8 362.2a1.8 1.8 80 1 0 .7 3.6a1.8 1.8 80 1 0 -.7 -3.6zM1396.3 232.5a2.3 2.2 44 1 0 3.3 3.2a2.3 2.2 44 1 0 -3.3 -3.2zM1519.6 128a2.6 2.2 154 1 0 -4.7 2.3a2.6 2.2 154 1 0 4.7 -2.3zM1421.6 163.3a2.7 2.1 88 1 0 .2 5.5a2.7 2.1 88 1 0 -.2 -5.5zM1535.2 174.6a2.9 2.6 46 1 0 4 4.1a2.9 2.6 46 1 0 -4 -4.1zM1359.7 43.7a2.7 2.6 116 1 0 -2.4 4.9a2.7 2.6 116 1 0 2.4 -4.9zM1610.5 359.7a2.8 2.2 3 1 0 5.6 .3a2.8 2.2 3 1 0 -5.6 -.3zM1361.7 27.3a2.3 1.8 174 1 0 -4.5 .5a2.3 1.8 174 1 0 4.5 -.5zM1451.6 11.9a2.5 2.2 165 1 0 -4.8 1.3a2.5 2.2 165 1 0 4.8 -1.3zM1272.7 107.4a2.3 1.6 49 1 0 3 3.5a2.3 1.6 49 1 0 -3 -3.5zM1289 324.9a2.8 1.7 122 1 0 -3 4.7a2.8 1.7 122 1 0 3 -4.7zM1471.8 186.2a2.4 1.7 116 1 0 -2.1 4.3a2.4 1.7 116 1 0 2.1 -4.3zM1317.9 28a1.8 1.7 18 1 0 3.5 1.1a1.8 1.7 18 1 0 -3.5 -1.1zM1337.9 367.8a3.3 2.3 74 1 0 1.8 6.2a3.3 2.3 74 1 0 -1.8 -6.2zM1500.4 132.2a2.8 2.7 147 1 0 -4.7 3a2.8 2.7 147 1 0 4.7 -3zM1412.5 325.2a3.2 2.5 85 1 0 .6 6.4a3.2 2.5 85 1 0 -.6 -6.4zM1304.4 82.3a2.3 2.2 21 1 0 4.3 1.7a2.3 2.2 21 1 0 -4.3 -1.7z"/>
<path fill="#50c8ff" fill-opacity="0.9" d="M1468.2 152.3a2.4 2 109 1 0 -1.5 4.5a2.4 2 109 1 0 1.5 -4.5zM1400.2 326.2a2.5 2.3 15 1 0 4.8 1.3a2.5 2.3 15 1 0 -4.8 -1.3zM1302.6 276a2.9 1.9 174 1 0 -5.9 .7a2.9 1.9 174 1 0 5.9 -.7zM1376.2 162.7a2.7 1.9 122 1 0 -2.9 4.6a2.7 1.9 122 1 0 2.9 -4.6zM1641.7 355.1a2.6 1.8 14 1 0 5 1.2a2.6 1.8 14 1 0 -5 -1.2zM1361.3 115.7a2.7 2.3 5 1 0 5.4 .5a2.7 2.3 5 1 0 -5.4 -.5zM1537.9 193.4a2.5 1.7 10 1 0 4.9 .8a2.5 1.7 10 1 0 -4.9 -.8zM1573.2 30.5a2.8 2.4 171 1 0 -5.6 .9a2.8 2.4 171 1 0 5.6 -.9zM1499.6 125.5a1.9 1.8 125 1 0 -2.2 3.1a1.9 1.8 125 1 0 2.2 -3.1zM1280.5 312.1a2.9 2.2 14 1 0 5.7 1.4a2.9 2.2 14 1 0 -5.7 -1.4zM1611.9 25.5a3 2.3 172 1 0 -5.9 .8a3 2.3 172 1 0 5.9 -.8zM1233 359.6a2.9 1.9 2 1 0 5.8 .2a2.9 1.9 2 1 0 -5.8 -.2zM1604.2 291.7a2 1.9 114 1 0 -1.6 3.6a2 1.9 114 1 0 1.6 -3.6z"/>
<path fill="#c864ff" fill-opacity="0.9" d="M1612.6 14a3.3 2.3 166 1 0 -6.4 1.6a3.3 2.3 166 1 0 6.4 -1.6zM1386.7 123.1a2.6 1.9 138 1 0 -3.8 3.4a2.6 1.9 138 1 0 3.8 -3.4zM1581.6 350a1.9 1.6 10 1 0 3.7 .7a1.9 1.6 10 1 0 -3.7 -.7zM1431.6 121.1a3.3 2.4 53 1 0 3.9 5.3a3.3 2.4 53 1 0 -3.9 -5.3zM1475.9 98a2.3 2 2 1 0 4.6 .2a2.3 2 2 1 0 -4.6 -.2zM1347.4 132.2a1.9 1.8 176 1 0 -3.7 .2a1.9 1.8 176 1 0 3.7 -.2zM1626 232.1a2.9 1.8 157 1 0 -5.3 2.3a2.9 1.8 157 1 0 5.3 -2.3zM1290 361.5a2.5 1.7 80 1 0 .8 4.9a2.5 1.7 80 1 0 -.8 -4.9zM1610.4 34.5a2.9 1.7 169 1 0 -5.7 1.1a2.9 1.7 169 1 0 5.7 -1.1zM1457.8 263.1a2.4 1.7 147 1 0 -4 2.6a2.4 1.7 147 1 0 4 -2.6z"/>
<path fill="#ffffff" fill-opacity="0.9" d="M1346.6 88.9a2.9 1.7 87 1 0 .3 5.7a2.9 1.7 87 1 0 -.3 -5.7zM1645.4 375.5a2.8 2.2 152 1 0 -5 2.6a2.8 2.2 152 1 0 5 -2.6zM1557.1 211.8a3.1 2.5 106 1 0 -1.7 6a3.1 2.5 106 1 0 1.7 -6zM1340.9 290.2a3.3 2.5 86 1 0 .5 6.6a3.3 2.5 86 1 0 -.5 -6.6zM1416.5 114.9a2.4 1.8 151 1 0 -4.3 2.4a2.4 1.8 151 1 0 4.3 -2.4zM1227.5 215.1a3.1 2.4 87 1 0 .3 6.1a3.1 2.4 87 1 0 -.3 -6.1zM1332 327.5a3.2 1.9 68 1 0 2.4 5.9a3.2 1.9 68 1 0 -2.4 -5.9zM1492.1 310a2.9 2.2 44 1 0 4.2 4.1a2.9 2.2 44 1 0 -4.2 -4.1zM1254.3 101.5a2.1 1.8 101 1 0 -.8 4.1a2.1 1.8 101 1 0 .8 -4.1zM1312.8 364.4a3 1.9 45 1 0 4.3 4.2a3 1.9 45 1 0 -4.3 -4.2zM1464 292.2a3 2.8 152 1 0 -5.3 2.8a3 2.8 152 1 0 5.3 -2.8zM1615 297.9a2.8 2.4 145 1 0 -4.6 3.2a2.8 2.4 145 1 0 4.6 -3.2z"/>
<path fill="#28dcb4" fill-opacity="0.9" d="M1548.6 193.9a2.3 2.2 84 1 0 .4 4.5a2.3 2.2 84 1 0 -.4 -4.5zM1269.7 124.1a2.9 2.2 139 1 0 -4.4 3.8a2.9 2.2 139 1 0 4.4 -3.8zM1278.8 62a3.1 2.3 41 1 0 4.7 4.1a3.1 2.3 41 1 0 -4.7 -4.1zM1529.2 152.3a3.2 2.8 154 1 0 -5.7 2.8a3.2 2.8 154 1 0 5.7 -2.8zM1309 83.6a3.1 2.2 63 1 0 2.8 5.4a3.1 2.2 63 1 0 -2.8 -5.4zM1571 262.4a2.6 1.7 89 1 0 .1 5.3a2.6 1.7 89 1 0 -.1 -5.3zM1228.2 312.2a2.7 1.6 36 1 0 4.4 3.2a2.7 1.6 36 1 0 -4.4 -3.2zM1640.6 373.4a3 1.8 12 1 0 5.8 1.2a3 1.8 12 1 0 -5.8 -1.2zM1569.6 326.3a2.6 2.2 4 1 0 5.3 .4a2.6 2.2 4 1 0 -5.3 -.4zM1541 288.5a2.6 2.2 31 1 0 4.4 2.6a2.6 2.2 31 1 0 -4.4 -2.6zM1635.3 215.9a3.3 2.1 66 1 0 2.7 6a3.3 2.1 66 1 0 -2.7 -6zM1449.8 128.9a2.6 2.4 149 1 0 -4.5 2.7a2.6 2.4 149 1 0 4.5 -2.7zM1221.9 184.1a3.3 2.2 68 1 0 2.5 6.2a3.3 2.2 68 1 0 -2.5 -6.2zM1595 12.8a2.6 1.8 58 1 0 2.8 4.4a2.6 1.8 58 1 0 -2.8 -4.4zM1579.3 157.5a2.6 2.4 50 1 0 3.3 4a2.6 2.4 50 1 0 -3.3 -4zM1272.5 292.3a2 1.9 177 1 0 -3.9 .2a2 1.9 177 1 0 3.9 -.2z"/>
<path fill="#ff5078" fill-opacity="0.9" d="M1526.1 316.3a3.3 2.6 84 1 0 .7 6.5a3.3 2.6 84 1 0 -.7 -6.5zM1363.9 22.1a3.4 2.7 52 1 0 4.1 5.4a3.4 2.7 52 1 0 -4.1 -5.4zM1452.1 29a3.3 2.3 126 1 0 -3.8 5.3a3.3 2.3 126 1 0 3.8 -5.3zM1338.8 240.1a2.9 1.8 170 1 0 -5.8 1a2.9 1.8 170 1 0 5.8 -1zM1601.5 7.8a2.9 2.2 81 1 0 1 5.8a2.9 2.2 81 1 0 -1 -5.8zM1254.2 362.5a3.2 2.2 28 1 0 5.7 3.1a3.2 2.2 28 1 0 -5.7 -3.1zM1394.1 283.9a2.6 2.5 102 1 0 -1.1 5.1a2.6 2.5 102 1 0 1.1 -5.1zM1422.6 31a2.7 1.7 144 1 0 -4.5 3.2a2.7 1.7 144 1 0 4.5 -3.2zM1488.8 370.3a1.7 1.7 118 1 0 -1.6 3.1a1.7 1.7 118 1 0 1.6 -3.1zM1326.6 326.3a2.2 2.1 41 1 0 3.4 2.9a2.2 2.1 41 1 0 -3.4 -2.9zM1570.6 119.4a2.4 2.1 114 1 0 -1.9 4.4a2.4 2.1 114 1 0 1.9 -4.4zM1434.8 180.3a2.8 1.8 9 1 0 5.5 .9a2.8 1.8 9 1 0 -5.5 -.9zM1502.9 76.1a2.8 2.2 151 1 0 -4.9 2.6a2.8 2.2 151 1 0 4.9 -2.6zM1286.1 143.9a2.9 2.5 146 1 0 -4.8 3.3a2.9 2.5 146 1 0 4.8 -3.3zM1535.7 127.9a2.6 2.2 154 1 0 -4.7 2.3a2.6 2.2 154 1 0 4.7 -2.3zM1359.9 62.3a2.8 2.8 62 1 0 2.6 5a2.8 2.8 62 1 0 -2.6 -5zM1647.4 29.9a2.9 2.2 54 1 0 3.3 4.6a2.9 2.2 54 1 0 -3.3 -4.6z"/>
</g></g>
<text x="792.80" y="36.70" font-size="30" font-weight="bold" text-anchor="start" fill="#fff" stroke="#000" stroke-opacity="0.5" stroke-width="1.2" paint-order="stroke">a</text>
<text x="1229.40" y="38.20" font-size="29.5" font-weight="bold" text-anchor="start" fill="#fff" stroke="#000" stroke-opacity="0.6" stroke-width="1.2" paint-order="stroke">b</text>
<rect x="1155.60" y="356.40" width="50.20" height="5.40" fill="#fff" stroke="#000" stroke-width="1"/>
<text x="1181.00" y="369.30" font-size="6.5" font-weight="bold" text-anchor="middle" fill="#fff" stroke="#000" stroke-width="0.6" paint-order="stroke">100 µm</text>
<rect x="1591.80" y="353.00" width="28.20" height="5.50" fill="#fff"/>
<text x="1599.60" y="343.20" font-size="9.5" font-weight="bold" text-anchor="middle" fill="#fff" textLength="30.0" lengthAdjust="spacing">100 µm</text>
<rect x="1624.00" y="373.60" width="24.50" height="3.20" fill="#8a8a8a" fill-opacity="0.45"/>
<text x="1.00" y="494.20" font-size="36.5" font-weight="bold" text-anchor="start" fill="#000">C</text>
<rect x="81.97" y="774.60" width="7.50" height="77.40" fill="#0a3cff" stroke="#000" stroke-width="1.15" rx="1"/>
<line x1="96.50" y1="775.00" x2="96.50" y2="785.70" stroke="#000" stroke-width="1.6" stroke-linecap="butt"/>
<path d="M93.80 774.10H99.20L97.30 777.20H95.70Z" fill="#000"/>
<rect x="92.75" y="785.70" width="7.50" height="66.30" fill="#1446f0" stroke="#000" stroke-width="1.15" rx="1"/>
<rect x="93.25" y="786.20" width="6.50" height="65.80" fill="url(#pdot)"/>
<line x1="107.08" y1="750.50" x2="107.08" y2="782.10" stroke="#000" stroke-width="1.6" stroke-linecap="butt"/>
<path d="M104.38 749.60H109.78L107.88 752.70H106.28Z" fill="#000"/>
<rect x="103.33" y="782.10" width="7.50" height="69.90" fill="#1a36c8" stroke="#000" stroke-width="1.15" rx="1"/>
<rect x="103.83" y="782.60" width="6.50" height="69.40" fill="url(#pchk)"/>
<line x1="117.60" y1="765.70" x2="117.60" y2="795.50" stroke="#000" stroke-width="1.6" stroke-linecap="butt"/>
<path d="M114.90 764.80H120.30L118.40 767.90H116.80Z" fill="#000"/>
<rect x="113.85" y="795.50" width="7.50" height="56.50" fill="#1446f0" stroke="#000" stroke-width="1.15" rx="1"/>
<rect x="114.35" y="796.00" width="6.50" height="56.00" fill="url(#phatch)"/>
<line x1="128.10" y1="823.20" x2="128.10" y2="834.80" stroke="#000" stroke-width="1.6" stroke-linecap="butt"/>
<path d="M125.40 822.30H130.80L128.90 825.40H127.30Z" fill="#000"/>
<rect x="124.35" y="834.80" width="7.50" height="17.20" fill="#0a3cff" stroke="#000" stroke-width="1.15" rx="1"/>
<rect x="124.85" y="835.30" width="6.50" height="16.70" fill="url(#pvert)"/>
<rect x="141.60" y="809.80" width="7.50" height="42.20" fill="#ff0a0a" stroke="#000" stroke-width="1.15" rx="1"/>
<line x1="156.25" y1="767.00" x2="156.25" y2="800.40" stroke="#000" stroke-width="1.6" stroke-linecap="butt"/>
<path d="M153.55 766.10H158.95L157.05 769.20H155.45Z" fill="#000"/>
<rect x="152.50" y="800.40" width="7.50" height="51.60" fill="#e02828" stroke="#000" stroke-width="1.15" rx="1"/>
<rect x="153.00" y="800.90" width="6.50" height="51.10" fill="url(#pdot)"/>
<line x1="166.70" y1="794.60" x2="166.70" y2="810.70" stroke="#000" stroke-width="1.6" stroke-linecap="butt"/>
<path d="M164.00 793.70H169.40L167.50 796.80H165.90Z" fill="#000"/>
<rect x="162.95" y="810.70" width="7.50" height="41.30" fill="#f01818" stroke="#000" stroke-width="1.15" rx="1"/>
<rect x="163.45" y="811.20" width="6.50" height="40.80" fill="url(#pchk)"/>
<line x1="177.50" y1="814.30" x2="177.50" y2="819.30" stroke="#000" stroke-width="1.6" stroke-linecap="butt"/>
<path d="M174.80 813.40H180.20L178.30 816.50H176.70Z" fill="#000"/>
<rect x="173.75" y="819.30" width="7.50" height="32.70" fill="#f01818" stroke="#000" stroke-width="1.15" rx="1"/>
<rect x="174.25" y="819.80" width="6.50" height="32.20" fill="url(#phatch)"/>
<line x1="188.20" y1="845.00" x2="188.20" y2="849.10" stroke="#000" stroke-width="1.6" stroke-linecap="butt"/>
<path d="M185.50 844.10H190.90L189.00 847.20H187.40Z" fill="#000"/>
<rect x="184.45" y="849.10" width="7.50" height="2.90" fill="#ff0a0a" stroke="#000" stroke-width="1.15" rx="1"/>
<rect x="184.95" y="849.60" width="6.50" height="2.40" fill="url(#pvert)"/>
<rect x="201.40" y="817.90" width="7.50" height="34.10" fill="#0aff3c" stroke="#000" stroke-width="1.15" rx="1"/>
<line x1="216.05" y1="817.00" x2="216.05" y2="821.00" stroke="#000" stroke-width="1.6" stroke-linecap="butt"/>
<path d="M213.35 816.10H218.75L216.85 819.20H215.25Z" fill="#000"/>
<rect x="212.30" y="821.00" width="7.50" height="31.00" fill="#1cf04a" stroke="#000" stroke-width="1.15" rx="1"/>
<rect x="212.80" y="821.50" width="6.50" height="30.50" fill="url(#pdot)"/>
<line x1="226.45" y1="803.60" x2="226.45" y2="817.90" stroke="#000" stroke-width="1.6" stroke-linecap="butt"/>
<path d="M223.75 802.70H229.15L227.25 805.80H225.65Z" fill="#000"/>
<rect x="222.70" y="817.90" width="7.50" height="34.10" fill="#1cf04a" stroke="#000" stroke-width="1.15" rx="1"/>
<rect x="223.20" y="818.40" width="6.50" height="33.60" fill="url(#pchk)"/>
<line x1="237.50" y1="818.40" x2="237.50" y2="830.00" stroke="#000" stroke-width="1.6" stroke-linecap="butt"/>
<path d="M234.80 817.50H240.20L238.30 820.60H236.70Z" fill="#000"/>
<rect x="233.75" y="830.00" width="7.50" height="22.00" fill="#1cf04a" stroke="#000" stroke-width="1.15" rx="1"/>
<rect x="234.25" y="830.50" width="6.50" height="21.50" fill="url(#phatch)"/>
<line x1="247.93" y1="812.50" x2="247.93" y2="825.50" stroke="#000" stroke-width="1.6" stroke-linecap="butt"/>
<path d="M245.23 811.60H250.62L248.73 814.70H247.12Z" fill="#000"/>
<rect x="244.18" y="825.50" width="7.50" height="26.50" fill="#46a05a" stroke="#000" stroke-width="1.15" rx="1"/>
<rect x="244.68" y="826.00" width="6.50" height="26.00" fill="url(#pvert)"/>
<line x1="265.80" y1="779.80" x2="265.80" y2="782.10" stroke="#000" stroke-width="1.6" stroke-linecap="butt"/>
<path d="M263.10 778.90H268.50L266.60 782.00H265.00Z" fill="#000"/>
<rect x="262.05" y="782.10" width="7.50" height="69.90" fill="#f00af0" stroke="#000" stroke-width="1.15" rx="1"/>
<line x1="276.35" y1="751.80" x2="276.35" y2="781.25" stroke="#000" stroke-width="1.6" stroke-linecap="butt"/>
<path d="M273.65 750.90H279.05L277.15 754.00H275.55Z" fill="#000"/>
<rect x="272.60" y="781.25" width="7.50" height="70.75" fill="#e81ee0" stroke="#000" stroke-width="1.15" rx="1"/>
<rect x="273.10" y="781.75" width="6.50" height="70.25" fill="url(#pdot)"/>
<line x1="286.85" y1="761.60" x2="286.85" y2="785.70" stroke="#000" stroke-width="1.6" stroke-linecap="butt"/>
<path d="M284.15 760.70H289.55L287.65 763.80H286.05Z" fill="#000"/>
<rect x="283.10" y="785.70" width="7.50" height="66.30" fill="#8c1e8c" stroke="#000" stroke-width="1.15" rx="1"/>
<rect x="283.60" y="786.20" width="6.50" height="65.80" fill="url(#pchk)"/>
<line x1="297.05" y1="736.60" x2="297.05" y2="773.20" stroke="#000" stroke-width="1.6" stroke-linecap="butt"/>
<path d="M294.35 735.70H299.75L297.85 738.80H296.25Z" fill="#000"/>
<rect x="293.30" y="773.20" width="7.50" height="78.80" fill="#f00af0" stroke="#000" stroke-width="1.15" rx="1"/>
<rect x="293.80" y="773.70" width="6.50" height="78.30" fill="url(#phatch)"/>
<line x1="307.50" y1="700.90" x2="307.50" y2="748.20" stroke="#000" stroke-width="1.6" stroke-linecap="butt"/>
<path d="M304.80 700.00H310.20L308.30 703.10H306.70Z" fill="#000"/>
<rect x="303.75" y="748.20" width="7.50" height="103.80" fill="#7d1482" stroke="#000" stroke-width="1.15" rx="1"/>
<rect x="304.25" y="748.70" width="6.50" height="103.30" fill="url(#pvert)"/>
<rect x="321.50" y="792.00" width="7.50" height="60.00" fill="#0af5f5" stroke="#000" stroke-width="1.15" rx="1"/>
<line x1="335.85" y1="784.00" x2="335.85" y2="794.30" stroke="#000" stroke-width="1.6" stroke-linecap="butt"/>
<path d="M333.15 783.10H338.55L336.65 786.20H335.05Z" fill="#000"/>
<rect x="332.10" y="794.30" width="7.50" height="57.70" fill="#1ee6e6" stroke="#000" stroke-width="1.15" rx="1"/>
<rect x="332.60" y="794.80" width="6.50" height="57.20" fill="url(#pdot)"/>
<line x1="346.95" y1="759.00" x2="346.95" y2="785.20" stroke="#000" stroke-width="1.6" stroke-linecap="butt"/>
<path d="M344.25 758.10H349.65L347.75 761.20H346.15Z" fill="#000"/>
<rect x="343.20" y="785.20" width="7.50" height="66.80" fill="#1ee6e6" stroke="#000" stroke-width="1.15" rx="1"/>
<rect x="343.70" y="785.70" width="6.50" height="66.30" fill="url(#pchk)"/>
<line x1="357.40" y1="782.70" x2="357.40" y2="804.50" stroke="#000" stroke-width="1.6" stroke-linecap="butt"/>
<path d="M354.70 781.80H360.10L358.20 784.90H356.60Z" fill="#000"/>
<rect x="353.65" y="804.50" width="7.50" height="47.50" fill="#1ee6e6" stroke="#000" stroke-width="1.15" rx="1"/>
<rect x="354.15" y="805.00" width="6.50" height="47.00" fill="url(#phatch)"/>
<line x1="367.75" y1="824.10" x2="367.75" y2="834.30" stroke="#000" stroke-width="1.6" stroke-linecap="butt"/>
<path d="M365.05 823.20H370.45L368.55 826.30H366.95Z" fill="#000"/>
<rect x="364.00" y="834.30" width="7.50" height="17.70" fill="#1edce6" stroke="#000" stroke-width="1.15" rx="1"/>
<rect x="364.50" y="834.80" width="6.50" height="17.20" fill="url(#pvert)"/>
<rect x="381.88" y="820.50" width="7.50" height="31.50" fill="#fafa0a" stroke="#000" stroke-width="1.15" rx="1"/>
<line x1="395.80" y1="796.40" x2="395.80" y2="816.60" stroke="#000" stroke-width="1.6" stroke-linecap="butt"/>
<path d="M393.10 795.50H398.50L396.60 798.60H395.00Z" fill="#000"/>
<rect x="392.05" y="816.60" width="7.50" height="35.40" fill="#f5f01e" stroke="#000" stroke-width="1.15" rx="1"/>
<rect x="392.55" y="817.10" width="6.50" height="34.90" fill="url(#pdot)"/>
<line x1="406.40" y1="812.50" x2="406.40" y2="821.00" stroke="#000" stroke-width="1.6" stroke-linecap="butt"/>
<path d="M403.70 811.60H409.10L407.20 814.70H405.60Z" fill="#000"/>
<rect x="402.65" y="821.00" width="7.50" height="31.00" fill="#f0e632" stroke="#000" stroke-width="1.15" rx="1"/>
<rect x="403.15" y="821.50" width="6.50" height="30.50" fill="url(#pchk)"/>
<line x1="417.40" y1="802.10" x2="417.40" y2="816.60" stroke="#000" stroke-width="1.6" stroke-linecap="butt"/>
<path d="M414.70 801.20H420.10L418.20 804.30H416.60Z" fill="#000"/>
<rect x="413.65" y="816.60" width="7.50" height="35.40" fill="#f5f01e" stroke="#000" stroke-width="1.15" rx="1"/>
<rect x="414.15" y="817.10" width="6.50" height="34.90" fill="url(#phatch)"/>
<line x1="427.70" y1="776.80" x2="427.70" y2="785.70" stroke="#000" stroke-width="1.6" stroke-linecap="butt"/>
<path d="M425.00 775.90H430.40L428.50 779.00H426.90Z" fill="#000"/>
<rect x="423.95" y="785.70" width="7.50" height="66.30" fill="#c8c83c" stroke="#000" stroke-width="1.15" rx="1"/>
<rect x="424.45" y="786.20" width="6.50" height="65.80" fill="url(#pvert)"/>
<rect x="441.85" y="750.50" width="7.50" height="101.50" fill="#ffffff" stroke="#000" stroke-width="1.15" rx="1"/>
<line x1="456.25" y1="729.50" x2="456.25" y2="761.60" stroke="#000" stroke-width="1.6" stroke-linecap="butt"/>
<path d="M453.55 728.60H458.95L457.05 731.70H455.45Z" fill="#000"/>
<rect x="452.50" y="761.60" width="7.50" height="90.40" fill="#ffffff" stroke="#000" stroke-width="1.15" rx="1"/>
<rect x="453.00" y="762.10" width="6.50" height="89.90" fill="url(#pdot)"/>
<line x1="466.50" y1="718.40" x2="466.50" y2="754.50" stroke="#000" stroke-width="1.6" stroke-linecap="butt"/>
<path d="M463.80 717.50H469.20L467.30 720.60H465.70Z" fill="#000"/>
<rect x="462.75" y="754.50" width="7.50" height="97.50" fill="#ffffff" stroke="#000" stroke-width="1.15" rx="1"/>
<rect x="463.25" y="755.00" width="6.50" height="97.00" fill="url(#pcirc)"/>
<line x1="476.90" y1="741.40" x2="476.90" y2="764.30" stroke="#000" stroke-width="1.6" stroke-linecap="butt"/>
<path d="M474.20 740.50H479.60L477.70 743.60H476.10Z" fill="#000"/>
<rect x="473.15" y="764.30" width="7.50" height="87.70" fill="#ffffff" stroke="#000" stroke-width="1.15" rx="1"/>
<rect x="473.65" y="764.80" width="6.50" height="87.20" fill="url(#phatch)"/>
<line x1="487.25" y1="776.80" x2="487.25" y2="798.20" stroke="#000" stroke-width="1.6" stroke-linecap="butt"/>
<path d="M484.55 775.90H489.95L488.05 779.00H486.45Z" fill="#000"/>
<rect x="483.50" y="798.20" width="7.50" height="53.80" fill="#ffffff" stroke="#000" stroke-width="1.15" rx="1"/>
<rect x="484.00" y="798.70" width="6.50" height="53.30" fill="url(#pvert)"/>
<rect x="501.15" y="752.10" width="7.50" height="99.90" fill="#b4b4b4" stroke="#000" stroke-width="1.15" rx="1"/>
<rect x="501.65" y="752.60" width="6.50" height="99.40" fill="url(#pvert)"/>
<line x1="515.45" y1="741.40" x2="515.45" y2="757.10" stroke="#000" stroke-width="1.6" stroke-linecap="butt"/>
<path d="M512.75 740.50H518.15L516.25 743.60H514.65Z" fill="#000"/>
<rect x="511.70" y="757.10" width="7.50" height="94.90" fill="#c8c8c8" stroke="#000" stroke-width="1.15" rx="1"/>
<rect x="512.20" y="757.60" width="6.50" height="94.40" fill="url(#pcirc)"/>
<line x1="526.45" y1="721.80" x2="526.45" y2="759.80" stroke="#000" stroke-width="1.6" stroke-linecap="butt"/>
<path d="M523.75 720.90H529.15L527.25 724.00H525.65Z" fill="#000"/>
<rect x="522.70" y="759.80" width="7.50" height="92.20" fill="#787878" stroke="#000" stroke-width="1.15" rx="1"/>
<rect x="523.20" y="760.30" width="6.50" height="91.70" fill="url(#pchk)"/>
<line x1="536.80" y1="663.60" x2="536.80" y2="712.50" stroke="#000" stroke-width="1.6" stroke-linecap="butt"/>
<path d="M534.10 662.70H539.50L537.60 665.80H536.00Z" fill="#000"/>
<rect x="533.05" y="712.50" width="7.50" height="139.50" fill="#c8c8c8" stroke="#000" stroke-width="1.15" rx="1"/>
<rect x="533.55" y="713.00" width="6.50" height="139.00" fill="url(#phatch)"/>
<line x1="547.35" y1="548.80" x2="547.35" y2="633.50" stroke="#000" stroke-width="1.6" stroke-linecap="butt"/>
<path d="M544.65 547.90H550.05L548.15 551.00H546.55Z" fill="#000"/>
<rect x="544.70" y="634.50" width="5.30" height="218.50" fill="#e4e4e4" stroke="#000" stroke-width="2.2"/>
<line x1="77.20" y1="500.20" x2="77.20" y2="689.30" stroke="#000" stroke-width="2.7" stroke-linecap="butt"/>
<line x1="77.20" y1="695.50" x2="77.20" y2="855.00" stroke="#000" stroke-width="2.7" stroke-linecap="butt"/>
<line x1="70.00" y1="854.50" x2="556.80" y2="854.50" stroke="#000" stroke-width="5.3" stroke-linecap="butt"/>
<line x1="70.20" y1="501.40" x2="77.20" y2="501.40" stroke="#000" stroke-width="2.0" stroke-linecap="butt"/>
<text x="67.30" y="505.60" font-size="13.5" font-weight="bold" text-anchor="end" fill="#000" letter-spacing="0.3">100</text>
<line x1="70.20" y1="556.10" x2="77.20" y2="556.10" stroke="#000" stroke-width="2.0" stroke-linecap="butt"/>
<text x="67.30" y="559.20" font-size="13.5" font-weight="bold" text-anchor="end" fill="#000" letter-spacing="0.3">80</text>
<line x1="70.20" y1="609.50" x2="77.20" y2="609.50" stroke="#000" stroke-width="2.0" stroke-linecap="butt"/>
<text x="67.30" y="613.40" font-size="13.5" font-weight="bold" text-anchor="end" fill="#000" letter-spacing="0.3">60</text>
<line x1="70.20" y1="664.30" x2="77.20" y2="664.30" stroke="#000" stroke-width="2.0" stroke-linecap="butt"/>
<text x="67.30" y="668.60" font-size="13.5" font-weight="bold" text-anchor="end" fill="#000" letter-spacing="0.3">40</text>
<line x1="70.00" y1="750.70" x2="77.20" y2="750.70" stroke="#000" stroke-width="3.6" stroke-linecap="butt"/>
<text x="66.20" y="754.50" font-size="14.5" font-weight="bold" text-anchor="end" fill="#000">20</text>
<text x="64.60" y="859.30" font-size="14.5" font-weight="bold" text-anchor="end" fill="#000">0</text>
<rect x="70.00" y="690.30" width="12.00" height="4.20" fill="#fff"/>
<line x1="65.70" y1="689.30" x2="87.90" y2="689.30" stroke="#000" stroke-width="2.2" stroke-linecap="butt"/>
<line x1="65.70" y1="695.50" x2="87.90" y2="695.50" stroke="#000" stroke-width="2.2" stroke-linecap="butt"/>
<rect x="528.90" y="690.50" width="35.10" height="4.00" fill="#fff"/>
<line x1="528.90" y1="689.50" x2="564.00" y2="689.50" stroke="#000" stroke-width="2.4" stroke-linecap="butt"/>
<line x1="528.90" y1="695.30" x2="564.00" y2="695.30" stroke="#000" stroke-width="2.4" stroke-linecap="butt"/>
<line x1="106.80" y1="854.50" x2="106.80" y2="862.90" stroke="#000" stroke-width="2.5" stroke-linecap="butt"/>
<line x1="166.75" y1="854.50" x2="166.75" y2="862.90" stroke="#000" stroke-width="2.5" stroke-linecap="butt"/>
<line x1="226.70" y1="854.50" x2="226.70" y2="862.90" stroke="#000" stroke-width="2.5" stroke-linecap="butt"/>
<line x1="286.65" y1="854.50" x2="286.65" y2="862.90" stroke="#000" stroke-width="2.5" stroke-linecap="butt"/>
<line x1="346.60" y1="854.50" x2="346.60" y2="862.90" stroke="#000" stroke-width="2.5" stroke-linecap="butt"/>
<line x1="406.55" y1="854.50" x2="406.55" y2="862.90" stroke="#000" stroke-width="2.5" stroke-linecap="butt"/>
<line x1="466.50" y1="854.50" x2="466.50" y2="862.90" stroke="#000" stroke-width="2.5" stroke-linecap="butt"/>
<line x1="526.45" y1="854.50" x2="526.45" y2="862.90" stroke="#000" stroke-width="2.5" stroke-linecap="butt"/>
<text x="112.60" y="887.60" font-size="17.2" font-weight="bold" text-anchor="end" fill="#000" transform="rotate(-45 112.60 887.60)" letter-spacing="0.2">Blue</text>
<text x="172.55" y="887.60" font-size="17.2" font-weight="bold" text-anchor="end" fill="#000" transform="rotate(-45 172.55 887.60)" letter-spacing="0.2">Red</text>
<text x="232.50" y="887.60" font-size="17.2" font-weight="bold" text-anchor="end" fill="#000" transform="rotate(-45 232.50 887.60)" letter-spacing="0.2">Green</text>
<text x="292.45" y="887.60" font-size="17.2" font-weight="bold" text-anchor="end" fill="#000" transform="rotate(-45 292.45 887.60)" letter-spacing="0.2">Magenta</text>
<text x="352.40" y="887.60" font-size="17.2" font-weight="bold" text-anchor="end" fill="#000" transform="rotate(-45 352.40 887.60)" letter-spacing="0.2">Cyan</text>
<text x="412.35" y="887.60" font-size="17.2" font-weight="bold" text-anchor="end" fill="#000" transform="rotate(-45 412.35 887.60)" letter-spacing="0.2">Yellow</text>
<text x="472.30" y="887.60" font-size="17.2" font-weight="bold" text-anchor="end" fill="#000" transform="rotate(-45 472.30 887.60)" letter-spacing="0.2">White</text>
<text x="532.25" y="887.60" font-size="17.2" font-weight="bold" text-anchor="end" fill="#000" transform="rotate(-45 532.25 887.60)" letter-spacing="0.2">Unlabelled</text>
<text x="107.10" y="686.40" font-size="16.6" font-weight="bold" text-anchor="middle" fill="#000" letter-spacing="0.8">ns</text>
<line x1="87.90" y1="693.30" x2="133.60" y2="693.30" stroke="#000" stroke-width="1.3" stroke-linecap="butt"/>
<text x="166.40" y="686.40" font-size="16.6" font-weight="bold" text-anchor="middle" fill="#000" letter-spacing="0.8">ns</text>
<line x1="141.60" y1="693.30" x2="192.90" y2="693.30" stroke="#000" stroke-width="1.3" stroke-linecap="butt"/>
<text x="227.30" y="686.40" font-size="16.6" font-weight="bold" text-anchor="middle" fill="#000" letter-spacing="0.8">ns</text>
<line x1="200.90" y1="693.30" x2="252.30" y2="693.30" stroke="#000" stroke-width="1.3" stroke-linecap="butt"/>
<text x="289.30" y="686.40" font-size="16.6" font-weight="bold" text-anchor="middle" fill="#000" letter-spacing="0.8">ns</text>
<line x1="263.00" y1="693.30" x2="314.50" y2="693.30" stroke="#000" stroke-width="1.3" stroke-linecap="butt"/>
<text x="347.30" y="686.40" font-size="16.6" font-weight="bold" text-anchor="middle" fill="#000" letter-spacing="0.8">ns</text>
<line x1="320.50" y1="693.30" x2="373.00" y2="693.30" stroke="#000" stroke-width="1.3" stroke-linecap="butt"/>
<text x="406.80" y="686.40" font-size="16.6" font-weight="bold" text-anchor="middle" fill="#000" letter-spacing="0.8">ns</text>
<line x1="382.20" y1="693.30" x2="433.30" y2="693.30" stroke="#000" stroke-width="1.3" stroke-linecap="butt"/>
<text x="466.30" y="686.40" font-size="16.6" font-weight="bold" text-anchor="middle" fill="#000" letter-spacing="0.8">ns</text>
<line x1="441.50" y1="693.30" x2="492.80" y2="693.30" stroke="#000" stroke-width="1.3" stroke-linecap="butt"/>
<text x="537.10" y="503.00" font-size="29" font-weight="normal" text-anchor="middle" fill="#000" stroke="#000" stroke-width="0.5">**</text>
<line x1="526.20" y1="500.40" x2="548.90" y2="500.40" stroke="#000" stroke-width="1.3" stroke-linecap="butt"/>
<text x="531.90" y="526.00" font-size="29" font-weight="normal" text-anchor="middle" fill="#000" stroke="#000" stroke-width="0.5">**</text>
<line x1="515.80" y1="522.80" x2="549.40" y2="522.80" stroke="#000" stroke-width="1.3" stroke-linecap="butt"/>
<text x="522.70" y="549.30" font-size="29" font-weight="normal" text-anchor="middle" fill="#000" stroke="#000" stroke-width="0.5">**</text>
<line x1="498.00" y1="545.20" x2="550.00" y2="545.20" stroke="#000" stroke-width="1.3" stroke-linecap="butt"/>
<rect x="83.90" y="499.10" width="43.10" height="16.00" fill="#fff" stroke="#000" stroke-width="1.4"/>
<rect x="83.90" y="522.80" width="43.10" height="16.00" fill="#fff" stroke="#000" stroke-width="1.4"/>
<rect x="84.6" y="523.5" width="41.7" height="14.6" fill="url(#pleg2)"/>
<rect x="83.90" y="546.80" width="43.10" height="15.80" fill="#fff" stroke="#000" stroke-width="1.4"/>
<rect x="84.6" y="547.5" width="41.7" height="14.4" fill="url(#pleg3)"/>
<rect x="83.90" y="570.50" width="41.50" height="16.00" fill="#fff" stroke="#000" stroke-width="1.4"/>
<rect x="84.6" y="571.2" width="40.1" height="14.6" fill="url(#pleg4)"/>
<rect x="83.90" y="594.30" width="41.50" height="15.60" fill="#fff" stroke="#000" stroke-width="1.4"/>
<rect x="84.6" y="595" width="40.1" height="14.2" fill="url(#pleg5)"/>
<text x="133.00" y="511.80" font-size="13.5" font-weight="bold" text-anchor="start" fill="#000" textLength="25.2" lengthAdjust="spacing">Con</text>
<text x="131.30" y="533.60" font-size="13.5" font-weight="bold" text-anchor="start" fill="#000" textLength="113.3" lengthAdjust="spacing">+ 50µM TMZ Day3</text>
<text x="132.50" y="557.30" font-size="13.5" font-weight="bold" text-anchor="start" fill="#000" textLength="112.1" lengthAdjust="spacing">+ 50µM TMZ Day6</text>
<text x="132.50" y="581.40" font-size="13.5" font-weight="bold" text-anchor="start" fill="#000" textLength="113.5" lengthAdjust="spacing">+ 50µM&#160; TMZ Day9</text>
<text x="134.00" y="606.40" font-size="13.5" font-weight="bold" text-anchor="start" fill="#000" textLength="119.6" lengthAdjust="spacing">+ 50µM TMZ Day16</text>
<text x="27.20" y="636.60" font-size="18" font-weight="bold" text-anchor="middle" fill="#000" transform="rotate(-90 27.20 636.60)" textLength="61.0" lengthAdjust="spacing">% Cells</text>
<text x="646.40" y="495.50" font-size="36.5" font-weight="bold" text-anchor="start" fill="#000">D</text>
<line x1="717.10" y1="546.00" x2="717.10" y2="817.00" stroke="#000" stroke-width="1.9" stroke-linecap="butt"/>
<line x1="712.30" y1="816.00" x2="1187.10" y2="816.00" stroke="#000" stroke-width="2.0" stroke-linecap="butt"/>
<rect x="729.40" y="679.10" width="13.30" height="137.80" fill="#0a00ff" stroke="#000" stroke-width="1.0" stroke-opacity="0.7"/>
<line x1="757.85" y1="668.70" x2="757.85" y2="675.10" stroke="#000" stroke-width="1.9" stroke-linecap="butt"/>
<path d="M754.35 667.30H761.35L758.85 670.20H756.85Z" fill="#000"/>
<rect x="750.30" y="674.10" width="15.10" height="142.80" fill="#0a00ff"/>
<rect x="750.30" y="674.10" width="15.10" height="142.80" fill="#000" fill-opacity="0.3"/>
<rect x="750.30" y="674.10" width="15.10" height="142.80" fill="url(#pDl)" stroke="#000" stroke-width="1.2" stroke-opacity="0.85"/>
<text x="747.70" y="658.00" font-size="15.0" font-weight="normal" text-anchor="middle" fill="#000" stroke="#000" stroke-width="0.6">ns</text>
<line x1="737.00" y1="664.60" x2="759.30" y2="664.60" stroke="#000" stroke-width="1.5" stroke-linecap="butt"/>
<line x1="794.70" y1="737.10" x2="794.70" y2="742.60" stroke="#000" stroke-width="1.9" stroke-linecap="butt"/>
<path d="M791.20 735.70H798.20L795.70 738.60H793.70Z" fill="#000"/>
<rect x="787.80" y="741.60" width="13.80" height="75.30" fill="#ff0505" stroke="#000" stroke-width="1.0" stroke-opacity="0.7"/>
<line x1="816.52" y1="736.50" x2="816.52" y2="739.00" stroke="#000" stroke-width="1.9" stroke-linecap="butt"/>
<path d="M813.02 735.10H820.02L817.52 738.00H815.52Z" fill="#000"/>
<rect x="809.25" y="738.00" width="14.55" height="78.90" fill="#ff0505"/>
<rect x="809.25" y="738.00" width="14.55" height="78.90" fill="#000" fill-opacity="0.3"/>
<rect x="809.25" y="738.00" width="14.55" height="78.90" fill="url(#pDl)" stroke="#000" stroke-width="1.2" stroke-opacity="0.85"/>
<text x="807.00" y="722.30" font-size="15.0" font-weight="normal" text-anchor="middle" fill="#000" stroke="#000" stroke-width="0.6">ns</text>
<line x1="795.00" y1="728.60" x2="817.30" y2="728.60" stroke="#000" stroke-width="1.5" stroke-linecap="butt"/>
<line x1="853.30" y1="751.40" x2="853.30" y2="755.10" stroke="#000" stroke-width="1.9" stroke-linecap="butt"/>
<path d="M849.80 750.00H856.80L854.30 752.90H852.30Z" fill="#000"/>
<rect x="846.20" y="754.10" width="14.20" height="62.80" fill="#05ff05" stroke="#000" stroke-width="1.0" stroke-opacity="0.7"/>
<line x1="875.00" y1="742.50" x2="875.00" y2="744.90" stroke="#000" stroke-width="1.9" stroke-linecap="butt"/>
<path d="M871.50 741.10H878.50L876.00 744.00H874.00Z" fill="#000"/>
<rect x="867.60" y="743.90" width="14.80" height="73.00" fill="#05ff05"/>
<rect x="867.60" y="743.90" width="14.80" height="73.00" fill="#000" fill-opacity="0.3"/>
<rect x="867.60" y="743.90" width="14.80" height="73.00" fill="url(#pDl)" stroke="#000" stroke-width="1.2" stroke-opacity="0.85"/>
<text x="865.00" y="728.20" font-size="15.0" font-weight="normal" text-anchor="middle" fill="#000" stroke="#000" stroke-width="0.6">ns</text>
<line x1="852.50" y1="736.60" x2="875.20" y2="736.60" stroke="#000" stroke-width="1.5" stroke-linecap="butt"/>
<line x1="912.00" y1="686.75" x2="912.00" y2="691.90" stroke="#000" stroke-width="1.9" stroke-linecap="butt"/>
<path d="M908.50 685.35H915.50L913.00 688.25H911.00Z" fill="#000"/>
<rect x="905.10" y="690.90" width="13.80" height="126.00" fill="#ee05ee" stroke="#000" stroke-width="1.0" stroke-opacity="0.7"/>
<line x1="933.95" y1="698.90" x2="933.95" y2="702.70" stroke="#000" stroke-width="1.9" stroke-linecap="butt"/>
<path d="M930.45 697.50H937.45L934.95 700.40H932.95Z" fill="#000"/>
<rect x="926.40" y="701.70" width="15.10" height="115.20" fill="#ee05ee"/>
<rect x="926.40" y="701.70" width="15.10" height="115.20" fill="#000" fill-opacity="0.3"/>
<rect x="926.40" y="701.70" width="15.10" height="115.20" fill="url(#pDl)" stroke="#000" stroke-width="1.2" stroke-opacity="0.85"/>
<text x="923.00" y="674.80" font-size="15.0" font-weight="normal" text-anchor="middle" fill="#000" stroke="#000" stroke-width="0.6">ns</text>
<line x1="912.00" y1="682.90" x2="934.60" y2="682.90" stroke="#000" stroke-width="1.5" stroke-linecap="butt"/>
<line x1="970.70" y1="706.00" x2="970.70" y2="710.60" stroke="#000" stroke-width="1.9" stroke-linecap="butt"/>
<path d="M967.20 704.60H974.20L971.70 707.50H969.70Z" fill="#000"/>
<rect x="963.90" y="709.60" width="13.60" height="107.30" fill="#05ffff" stroke="#000" stroke-width="1.0" stroke-opacity="0.7"/>
<line x1="992.50" y1="709.10" x2="992.50" y2="713.80" stroke="#000" stroke-width="1.9" stroke-linecap="butt"/>
<path d="M989.00 707.70H996.00L993.50 710.60H991.50Z" fill="#000"/>
<rect x="985.00" y="712.80" width="15.00" height="104.10" fill="#05ffff"/>
<rect x="985.00" y="712.80" width="15.00" height="104.10" fill="#000" fill-opacity="0.3"/>
<rect x="985.00" y="712.80" width="15.00" height="104.10" fill="url(#pDl)" stroke="#000" stroke-width="1.2" stroke-opacity="0.85"/>
<text x="981.25" y="692.10" font-size="15.0" font-weight="normal" text-anchor="middle" fill="#000" stroke="#000" stroke-width="0.6">ns</text>
<line x1="969.60" y1="700.70" x2="992.50" y2="700.70" stroke="#000" stroke-width="1.5" stroke-linecap="butt"/>
<line x1="1029.65" y1="756.10" x2="1029.65" y2="758.30" stroke="#000" stroke-width="1.9" stroke-linecap="butt"/>
<path d="M1026.15 754.70H1033.15L1030.65 757.60H1028.65Z" fill="#000"/>
<rect x="1022.80" y="757.30" width="13.70" height="59.60" fill="#ffff05" stroke="#000" stroke-width="1.0" stroke-opacity="0.7"/>
<rect x="1043.90" y="760.30" width="14.50" height="56.60" fill="#ffff05"/>
<rect x="1043.90" y="760.30" width="14.50" height="56.60" fill="#000" fill-opacity="0.3"/>
<rect x="1043.90" y="760.30" width="14.50" height="56.60" fill="url(#pDl)" stroke="#000" stroke-width="1.2" stroke-opacity="0.85"/>
<text x="1040.50" y="742.90" font-size="15.0" font-weight="normal" text-anchor="middle" fill="#000" stroke="#000" stroke-width="0.6">ns</text>
<line x1="1029.50" y1="749.60" x2="1052.10" y2="749.60" stroke="#000" stroke-width="1.5" stroke-linecap="butt"/>
<line x1="1088.15" y1="662.70" x2="1088.15" y2="665.10" stroke="#000" stroke-width="1.9" stroke-linecap="butt"/>
<path d="M1084.65 661.30H1091.65L1089.15 664.20H1087.15Z" fill="#000"/>
<rect x="1080.90" y="664.10" width="14.50" height="152.80" fill="#ffffff" stroke="#6e6e6e" stroke-width="1.5"/>
<line x1="1109.85" y1="686.90" x2="1109.85" y2="693.60" stroke="#000" stroke-width="1.9" stroke-linecap="butt"/>
<path d="M1106.35 685.50H1113.35L1110.85 688.40H1108.85Z" fill="#000"/>
<rect x="1102.30" y="692.60" width="15.10" height="124.30" fill="#ffffff"/>
<rect x="1102.30" y="692.60" width="15.10" height="124.30" fill="#000" fill-opacity="0.3"/>
<rect x="1102.30" y="692.60" width="15.10" height="124.30" fill="url(#pDl)" stroke="#000" stroke-width="1.2" stroke-opacity="0.85"/>
<text x="1099.60" y="648.75" font-size="15.0" font-weight="normal" text-anchor="middle" fill="#000" stroke="#000" stroke-width="0.6">ns</text>
<line x1="1088.75" y1="657.70" x2="1111.60" y2="657.70" stroke="#000" stroke-width="1.5" stroke-linecap="butt"/>
<line x1="1146.90" y1="637.90" x2="1146.90" y2="640.10" stroke="#000" stroke-width="1.9" stroke-linecap="butt"/>
<path d="M1143.40 636.50H1150.40L1147.90 639.40H1145.90Z" fill="#000"/>
<rect x="1139.80" y="639.10" width="14.20" height="177.80" fill="#a0a0a0" stroke="#6e6e6e" stroke-width="1.5"/>
<line x1="1168.75" y1="610.70" x2="1168.75" y2="612.90" stroke="#000" stroke-width="1.9" stroke-linecap="butt"/>
<path d="M1165.25 609.30H1172.25L1169.75 612.20H1167.75Z" fill="#000"/>
<rect x="1161.20" y="611.90" width="15.10" height="205.00" fill="#8c8c8c"/>
<rect x="1161.20" y="611.90" width="15.10" height="205.00" fill="#000" fill-opacity="0.3"/>
<rect x="1161.20" y="611.90" width="15.10" height="205.00" fill="url(#pDl)" stroke="#000" stroke-width="1.2" stroke-opacity="0.85"/>
<text x="1158.90" y="597.50" font-size="15.0" font-weight="normal" text-anchor="middle" fill="#000" stroke="#000" stroke-width="0.6">ns</text>
<line x1="1148.20" y1="604.30" x2="1170.90" y2="604.30" stroke="#000" stroke-width="1.5" stroke-linecap="butt"/>
<line x1="711.40" y1="546.60" x2="717.10" y2="546.60" stroke="#000" stroke-width="1.6" stroke-linecap="butt"/>
<text x="709.20" y="551.00" font-size="14.2" font-weight="bold" text-anchor="end" fill="#000">30</text>
<line x1="711.40" y1="635.70" x2="717.10" y2="635.70" stroke="#000" stroke-width="1.6" stroke-linecap="butt"/>
<text x="709.20" y="640.10" font-size="14.2" font-weight="bold" text-anchor="end" fill="#000">20</text>
<line x1="711.40" y1="726.10" x2="717.10" y2="726.10" stroke="#000" stroke-width="1.6" stroke-linecap="butt"/>
<text x="709.20" y="730.50" font-size="14.2" font-weight="bold" text-anchor="end" fill="#000">10</text>
<text x="709.00" y="820.80" font-size="14.2" font-weight="bold" text-anchor="end" fill="#000">0</text>
<line x1="746.40" y1="816.00" x2="746.40" y2="822.30" stroke="#000" stroke-width="1.8" stroke-linecap="butt"/>
<line x1="805.10" y1="816.00" x2="805.10" y2="822.30" stroke="#000" stroke-width="1.8" stroke-linecap="butt"/>
<line x1="863.80" y1="816.00" x2="863.80" y2="822.30" stroke="#000" stroke-width="1.8" stroke-linecap="butt"/>
<line x1="922.50" y1="816.00" x2="922.50" y2="822.30" stroke="#000" stroke-width="1.8" stroke-linecap="butt"/>
<line x1="981.20" y1="816.00" x2="981.20" y2="822.30" stroke="#000" stroke-width="1.8" stroke-linecap="butt"/>
<line x1="1039.90" y1="816.00" x2="1039.90" y2="822.30" stroke="#000" stroke-width="1.8" stroke-linecap="butt"/>
<line x1="1098.60" y1="816.00" x2="1098.60" y2="822.30" stroke="#000" stroke-width="1.8" stroke-linecap="butt"/>
<line x1="1157.30" y1="816.00" x2="1157.30" y2="822.30" stroke="#000" stroke-width="1.8" stroke-linecap="butt"/>
<text x="769.40" y="831.00" font-size="23" font-weight="bold" text-anchor="end" fill="#000" transform="rotate(-45 769.40 831.00)" letter-spacing="0.5">Blue</text>
<text x="828.10" y="832.30" font-size="23" font-weight="bold" text-anchor="end" fill="#000" transform="rotate(-45 828.10 832.30)" letter-spacing="0.5">Red</text>
<text x="886.80" y="832.30" font-size="23" font-weight="bold" text-anchor="end" fill="#000" transform="rotate(-45 886.80 832.30)" letter-spacing="0.5">Green</text>
<text x="948.90" y="828.80" font-size="23" font-weight="bold" text-anchor="end" fill="#000" transform="rotate(-45 948.90 828.80)" letter-spacing="0.5">Magenta</text>
<text x="1005.05" y="830.60" font-size="23" font-weight="bold" text-anchor="end" fill="#000" transform="rotate(-45 1005.05 830.60)" letter-spacing="0.5">Cyan</text>
<text x="1063.20" y="832.30" font-size="23" font-weight="bold" text-anchor="end" fill="#000" transform="rotate(-45 1063.20 832.30)" letter-spacing="0.5">Yellow</text>
<text x="1122.45" y="831.40" font-size="23" font-weight="bold" text-anchor="end" fill="#000" transform="rotate(-45 1122.45 831.40)" letter-spacing="0.5">White</text>
<text x="1187.10" y="832.30" font-size="23" font-weight="bold" text-anchor="end" fill="#000" transform="rotate(-45 1187.10 832.30)" letter-spacing="0.5">Unlabelled</text>
<rect x="723.50" y="548.50" width="45.90" height="15.00" fill="#fff" stroke="#000" stroke-width="2.0"/>
<rect x="723.50" y="573.50" width="45.90" height="17.10" fill="#c4c4c4"/>
<rect x="723.50" y="573.50" width="45.90" height="17.10" fill="url(#pDl)" stroke="#000" stroke-width="2.0"/>
<text x="786.40" y="564.50" font-size="17.5" font-weight="normal" text-anchor="start" fill="#000" textLength="113.0" lengthAdjust="spacing" stroke="#000" stroke-width="0.4">U251-RGB&#160; p2</text>
<text x="786.40" y="593.00" font-size="17.5" font-weight="normal" text-anchor="start" fill="#000" textLength="123.3" lengthAdjust="spacing" stroke="#000" stroke-width="0.4">U251-RGB&#160; p30</text>
<text x="686.60" y="669.20" font-size="30" font-weight="bold" text-anchor="middle" fill="#000" transform="rotate(-90 686.60 669.20)" textLength="99.0" lengthAdjust="spacingAndGlyphs">% Cells</text>
<text x="1221.60" y="502.90" font-size="36.5" font-weight="bold" text-anchor="start" fill="#000">E</text>
<rect x="1335.20" y="780.90" width="14.40" height="34.20" fill="#0a00ff" rx="1.2"/>
<line x1="1356.95" y1="771.20" x2="1356.95" y2="781.60" stroke="#000" stroke-width="2.0" stroke-linecap="butt"/>
<path d="M1353.55 769.80H1360.35L1357.95 773.30H1355.95Z" fill="#000"/>
<rect x="1349.60" y="779.60" width="14.70" height="35.50" fill="#0a00ff" rx="1.2"/>
<line x1="1356.95" y1="783.60" x2="1356.95" y2="815.10" stroke="#b4b43c" stroke-width="2.6" stroke-dasharray="3.5 3"/>
<line x1="1372.20" y1="807.10" x2="1372.20" y2="809.70" stroke="#000" stroke-width="2.0" stroke-linecap="butt"/>
<path d="M1368.80 805.70H1375.60L1373.20 809.20H1371.20Z" fill="#000"/>
<rect x="1365.50" y="807.70" width="13.40" height="7.40" fill="#0a00ff" rx="1.2"/>
<ellipse cx="1372.20" cy="808.30" rx="3.3" ry="1.3" fill="#000"/>
<rect x="1390.10" y="796.10" width="12.50" height="19.00" fill="#ff0505" rx="1.2"/>
<ellipse cx="1396.35" cy="797.50" rx="3.3" ry="1.3" fill="#000"/>
<line x1="1411.40" y1="793.40" x2="1411.40" y2="799.00" stroke="#000" stroke-width="2.0" stroke-linecap="butt"/>
<path d="M1408.00 792.00H1414.80L1412.40 795.50H1410.40Z" fill="#000"/>
<rect x="1404.80" y="797.00" width="13.20" height="18.10" fill="#ff0505" rx="1.2"/>
<line x1="1411.40" y1="801.00" x2="1411.40" y2="815.10" stroke="#e6a0a0" stroke-width="2.6" stroke-dasharray="3.5 3"/>
<rect x="1420.00" y="814.00" width="12.00" height="1.10" fill="#ff0505" rx="1.2"/>
<rect x="1443.20" y="798.75" width="14.30" height="16.35" fill="#05ff05" rx="1.2"/>
<ellipse cx="1450.35" cy="800.15" rx="3.3" ry="1.3" fill="#000"/>
<line x1="1465.10" y1="796.80" x2="1465.10" y2="799.90" stroke="#000" stroke-width="2.0" stroke-linecap="butt"/>
<path d="M1461.70 795.40H1468.50L1466.10 798.90H1464.10Z" fill="#000"/>
<rect x="1457.50" y="797.90" width="15.20" height="17.20" fill="#05ff05" rx="1.2"/>
<line x1="1465.10" y1="801.90" x2="1465.10" y2="815.10" stroke="#a078c8" stroke-width="2.6" stroke-dasharray="3.5 3"/>
<rect x="1474.50" y="808.60" width="13.40" height="6.50" fill="#05ff05" rx="1.2"/>
<ellipse cx="1481.20" cy="809.20" rx="3.3" ry="1.3" fill="#000"/>
<rect x="1498.40" y="783.60" width="14.60" height="31.50" fill="#ff05e6" rx="1.2"/>
<ellipse cx="1505.70" cy="785.00" rx="3.3" ry="1.3" fill="#000"/>
<line x1="1520.60" y1="781.90" x2="1520.60" y2="787.40" stroke="#000" stroke-width="2.0" stroke-linecap="butt"/>
<path d="M1517.20 780.50H1524.00L1521.60 784.00H1519.60Z" fill="#000"/>
<rect x="1513.00" y="785.40" width="15.20" height="29.70" fill="#ff05e6" rx="1.2"/>
<line x1="1520.60" y1="789.40" x2="1520.60" y2="815.10" stroke="#e6dcc8" stroke-width="2.6" stroke-dasharray="3.5 3"/>
<rect x="1528.00" y="800.50" width="14.50" height="14.60" fill="#ff05e6" rx="1.2"/>
<ellipse cx="1535.25" cy="801.10" rx="3.3" ry="1.3" fill="#000"/>
<rect x="1553.20" y="787.70" width="12.80" height="27.40" fill="#05f0e6" rx="1.2"/>
<ellipse cx="1559.60" cy="789.10" rx="3.3" ry="1.3" fill="#000"/>
<line x1="1575.30" y1="781.90" x2="1575.30" y2="788.60" stroke="#000" stroke-width="2.0" stroke-linecap="butt"/>
<path d="M1571.90 780.50H1578.70L1576.30 784.00H1574.30Z" fill="#000"/>
<rect x="1567.90" y="786.60" width="14.80" height="28.50" fill="#05f0e6" rx="1.2"/>
<line x1="1575.30" y1="790.60" x2="1575.30" y2="815.10" stroke="#329682" stroke-width="2.6" stroke-dasharray="3.5 3"/>
<rect x="1586.00" y="811.50" width="9.00" height="3.60" fill="#05f0e6" rx="1.2"/>
<ellipse cx="1590.50" cy="812.50" rx="3.3" ry="1.3" fill="#000"/>
<rect x="1607.40" y="799.60" width="13.90" height="15.50" fill="#ffee05" rx="1.2"/>
<ellipse cx="1614.35" cy="801.00" rx="3.3" ry="1.3" fill="#000"/>
<line x1="1629.95" y1="797.50" x2="1629.95" y2="801.60" stroke="#000" stroke-width="2.0" stroke-linecap="butt"/>
<path d="M1626.55 796.10H1633.35L1630.95 799.60H1628.95Z" fill="#000"/>
<rect x="1623.80" y="799.60" width="12.30" height="15.50" fill="#ffee05" rx="1.2"/>
<line x1="1629.95" y1="803.60" x2="1629.95" y2="815.10" stroke="#8c8cdc" stroke-width="2.6" stroke-dasharray="3.5 3"/>
<rect x="1638.00" y="813.60" width="12.00" height="1.50" fill="#ffee05" rx="1.2"/>
<ellipse cx="1644.00" cy="814.60" rx="3.3" ry="1.3" fill="#000"/>
<rect x="1664.00" y="777.20" width="10.20" height="37.90" fill="#fff" stroke="#000" stroke-width="1.8" rx="1.5"/>
<line x1="1683.60" y1="767.10" x2="1683.60" y2="777.00" stroke="#000" stroke-width="2.0" stroke-linecap="butt"/>
<path d="M1680.20 765.70H1687.00L1684.60 769.20H1682.60Z" fill="#000"/>
<rect x="1678.60" y="777.20" width="10.20" height="37.90" fill="#fff" stroke="#000" stroke-width="1.8"/>
<line x1="1683.7" y1="781" x2="1683.7" y2="815.1" stroke="#555" stroke-width="4.5" stroke-dasharray="3.5 3"/>
<rect x="1693.30" y="804.00" width="10.60" height="11.10" fill="#fff" stroke="#000" stroke-width="1.8" rx="2"/>
<line x1="1695.50" y1="806.50" x2="1702.50" y2="811.50" stroke="#000" stroke-width="1.6" stroke-linecap="butt"/>
<rect x="1716.60" y="770.70" width="15.00" height="44.40" fill="#000"/>
<line x1="1738.90" y1="762.60" x2="1738.90" y2="772.00" stroke="#000" stroke-width="2.0" stroke-linecap="butt"/>
<path d="M1735.50 761.20H1742.30L1739.90 764.70H1737.90Z" fill="#000"/>
<rect x="1730.60" y="771.00" width="16.70" height="44.10" fill="#000"/>
<line x1="1739.5" y1="774" x2="1739.5" y2="813.1" stroke="#fff" stroke-width="3" stroke-dasharray="3.5 3.2"/>
<line x1="1753.50" y1="580.50" x2="1753.50" y2="640.00" stroke="#000" stroke-width="2.0" stroke-linecap="butt"/>
<path d="M1750.10 579.10H1756.90L1754.50 582.60H1752.50Z" fill="#000"/>
<rect x="1746.30" y="635.80" width="14.60" height="179.30" fill="#000" rx="3"/>
<rect x="1749.3" y="639" width="8.6" height="173.1" fill="url(#pwhatch)"/>
<line x1="1332.80" y1="547.50" x2="1332.80" y2="817.20" stroke="#000" stroke-width="4.2" stroke-linecap="butt"/>
<line x1="1325.00" y1="815.10" x2="1763.90" y2="815.10" stroke="#000" stroke-width="4.2" stroke-linecap="butt"/>
<text x="1317.40" y="821.10" font-size="22.6" font-weight="bold" text-anchor="end" fill="#000">0</text>
<line x1="1324.60" y1="770.80" x2="1332.80" y2="770.80" stroke="#000" stroke-width="3.6" stroke-linecap="butt"/>
<text x="1317.40" y="776.80" font-size="22.6" font-weight="bold" text-anchor="end" fill="#000">20</text>
<line x1="1324.60" y1="726.49" x2="1332.80" y2="726.49" stroke="#000" stroke-width="3.6" stroke-linecap="butt"/>
<text x="1317.40" y="732.49" font-size="22.6" font-weight="bold" text-anchor="end" fill="#000">40</text>
<line x1="1324.60" y1="682.19" x2="1332.80" y2="682.19" stroke="#000" stroke-width="3.6" stroke-linecap="butt"/>
<text x="1317.40" y="688.19" font-size="22.6" font-weight="bold" text-anchor="end" fill="#000">60</text>
<line x1="1324.60" y1="637.88" x2="1332.80" y2="637.88" stroke="#000" stroke-width="3.6" stroke-linecap="butt"/>
<text x="1317.40" y="643.88" font-size="22.6" font-weight="bold" text-anchor="end" fill="#000">80</text>
<line x1="1324.60" y1="593.58" x2="1332.80" y2="593.58" stroke="#000" stroke-width="3.6" stroke-linecap="butt"/>
<text x="1317.40" y="599.58" font-size="22.6" font-weight="bold" text-anchor="end" fill="#000">100</text>
<line x1="1324.60" y1="549.28" x2="1332.80" y2="549.28" stroke="#000" stroke-width="3.6" stroke-linecap="butt"/>
<text x="1317.40" y="555.28" font-size="22.6" font-weight="bold" text-anchor="end" fill="#000">120</text>
<line x1="1356.30" y1="815.10" x2="1356.30" y2="822.90" stroke="#000" stroke-width="3.6" stroke-linecap="butt"/>
<line x1="1411.10" y1="815.10" x2="1411.10" y2="822.90" stroke="#000" stroke-width="3.6" stroke-linecap="butt"/>
<line x1="1466.00" y1="815.10" x2="1466.00" y2="822.90" stroke="#000" stroke-width="3.6" stroke-linecap="butt"/>
<line x1="1519.70" y1="815.10" x2="1519.70" y2="822.90" stroke="#000" stroke-width="3.6" stroke-linecap="butt"/>
<line x1="1574.50" y1="815.10" x2="1574.50" y2="822.90" stroke="#000" stroke-width="3.6" stroke-linecap="butt"/>
<line x1="1629.30" y1="815.10" x2="1629.30" y2="822.90" stroke="#000" stroke-width="3.6" stroke-linecap="butt"/>
<line x1="1684.30" y1="815.10" x2="1684.30" y2="822.90" stroke="#000" stroke-width="3.6" stroke-linecap="butt"/>
<line x1="1737.70" y1="815.10" x2="1737.70" y2="822.90" stroke="#000" stroke-width="3.6" stroke-linecap="butt"/>
<text x="1359.90" y="836.00" font-size="22.2" font-weight="bold" text-anchor="end" fill="#000" transform="rotate(-45 1359.90 836.00)" letter-spacing="0.7">Blue</text>
<text x="1414.70" y="836.00" font-size="22.2" font-weight="bold" text-anchor="end" fill="#000" transform="rotate(-45 1414.70 836.00)" letter-spacing="0.7">Red</text>
<text x="1469.60" y="836.00" font-size="22.2" font-weight="bold" text-anchor="end" fill="#000" transform="rotate(-45 1469.60 836.00)" letter-spacing="0.7">Green</text>
<text x="1525.70" y="836.00" font-size="22.2" font-weight="bold" text-anchor="end" fill="#000" transform="rotate(-45 1525.70 836.00)" letter-spacing="0.7">Magenta</text>
<text x="1580.10" y="836.00" font-size="22.2" font-weight="bold" text-anchor="end" fill="#000" transform="rotate(-45 1580.10 836.00)" letter-spacing="0.7">Cyan</text>
<text x="1633.90" y="835.50" font-size="22.2" font-weight="bold" text-anchor="end" fill="#000" transform="rotate(-45 1633.90 835.50)" letter-spacing="0.7">Yellow</text>
<text x="1688.90" y="835.50" font-size="22.2" font-weight="bold" text-anchor="end" fill="#000" transform="rotate(-45 1688.90 835.50)" letter-spacing="0.7">White</text>
<text x="1743.50" y="835.20" font-size="22.2" font-weight="bold" text-anchor="end" fill="#000" transform="rotate(-45 1743.50 835.20)" letter-spacing="0.7">Unlabelled</text>
<text x="1363.75" y="756.60" font-size="13.5" font-weight="bold" text-anchor="middle" fill="#000" letter-spacing="0.4">***</text>
<line x1="1355.70" y1="755.90" x2="1371.80" y2="755.90" stroke="#000" stroke-width="1.6" stroke-linecap="butt"/>
<text x="1418.75" y="784.10" font-size="15" font-weight="normal" text-anchor="middle" fill="#000" stroke="#000" stroke-width="0.5">ns</text>
<line x1="1411.00" y1="789.80" x2="1426.60" y2="789.80" stroke="#000" stroke-width="1.6" stroke-linecap="butt"/>
<text x="1472.30" y="784.10" font-size="15" font-weight="normal" text-anchor="middle" fill="#000" stroke="#000" stroke-width="0.5">ns</text>
<line x1="1464.30" y1="789.80" x2="1480.20" y2="789.80" stroke="#000" stroke-width="1.6" stroke-linecap="butt"/>
<text x="1527.30" y="754.50" font-size="15" font-weight="normal" text-anchor="middle" fill="#000" stroke="#000" stroke-width="0.5">ns</text>
<line x1="1519.30" y1="760.40" x2="1535.00" y2="760.40" stroke="#000" stroke-width="1.6" stroke-linecap="butt"/>
<text x="1581.40" y="761.00" font-size="13.5" font-weight="bold" text-anchor="middle" fill="#000" letter-spacing="0.4">*</text>
<line x1="1575.90" y1="760.40" x2="1591.60" y2="760.40" stroke="#000" stroke-width="1.6" stroke-linecap="butt"/>
<text x="1635.70" y="784.10" font-size="15" font-weight="normal" text-anchor="middle" fill="#000" stroke="#000" stroke-width="0.5">ns</text>
<line x1="1627.90" y1="789.80" x2="1643.40" y2="789.80" stroke="#000" stroke-width="1.6" stroke-linecap="butt"/>
<text x="1690.70" y="754.50" font-size="15" font-weight="normal" text-anchor="middle" fill="#000" stroke="#000" stroke-width="0.5">ns</text>
<line x1="1682.70" y1="760.40" x2="1698.20" y2="760.40" stroke="#000" stroke-width="1.6" stroke-linecap="butt"/>
<text x="1744.90" y="575.20" font-size="13.5" font-weight="bold" text-anchor="middle" fill="#000" letter-spacing="0.4">****</text>
<line x1="1737.50" y1="575.80" x2="1753.00" y2="575.80" stroke="#000" stroke-width="1.6" stroke-linecap="butt"/>
<rect x="1354.70" y="544.90" width="25.80" height="24.00" fill="#fff" stroke="#000" stroke-width="4.0"/>
<rect x="1354.70" y="577.70" width="25.80" height="23.90" fill="url(#pE2)" stroke="#000" stroke-width="4.0"/>
<rect x="1354.70" y="610.00" width="25.80" height="24.10" fill="#fff" stroke="#000" stroke-width="4.0"/>
<g clip-path="url(#clipE3)"><path d="M1352 607 L1386 635 M1352 617.5 L1386 645.5 M1352 596.5 L1386 624.5" stroke="#000" stroke-width="2.6" fill="none"/></g>
<rect x="1354.70" y="610.00" width="25.80" height="24.10" fill="none" stroke="#000" stroke-width="4.0"/>
<text x="1395.20" y="563.40" font-size="19.5" font-weight="bold" text-anchor="start" fill="#000" textLength="148.0" lengthAdjust="spacing">U251-RGB con</text>
<text x="1395.20" y="595.90" font-size="19.5" font-weight="bold" text-anchor="start" fill="#000" textLength="157.5" lengthAdjust="spacing">U251-RGB-R p5</text>
<text x="1395.20" y="628.60" font-size="19.5" font-weight="bold" text-anchor="start" fill="#000" textLength="169.1" lengthAdjust="spacing">U251-RGB-R p16</text>
<text x="1251.20" y="675.50" font-size="26.3" font-weight="bold" text-anchor="middle" fill="#000" transform="rotate(-90 1251.20 675.50)" textLength="89.5" lengthAdjust="spacing">% Cells</text>
</svg>
</body></html>
